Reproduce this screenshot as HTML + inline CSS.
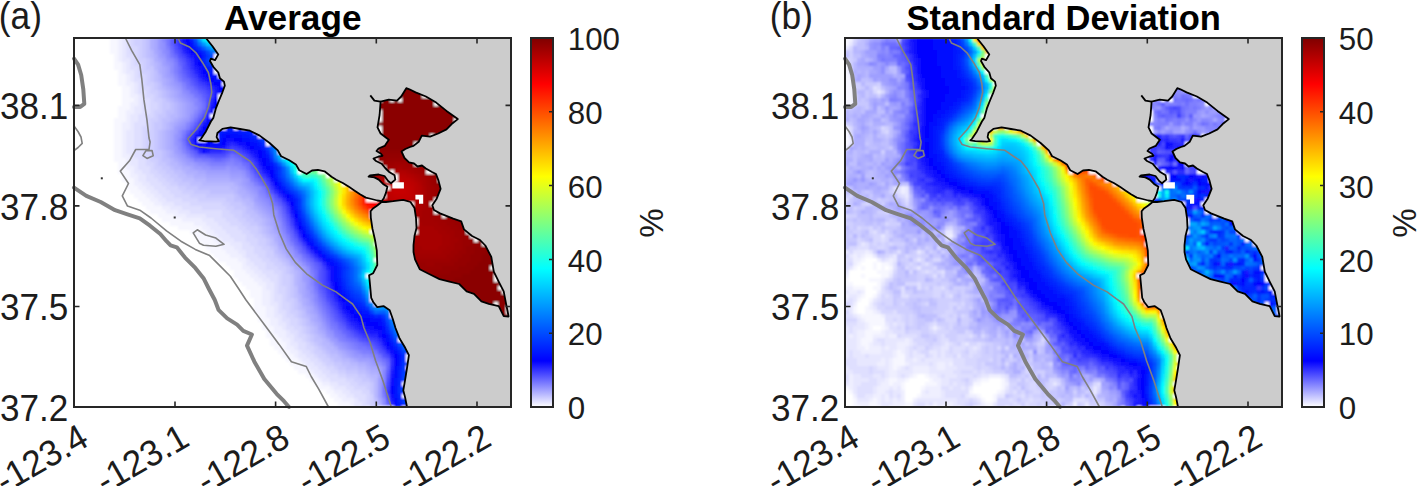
<!DOCTYPE html>
<html><head><meta charset="utf-8"><style>
html,body{margin:0;padding:0;background:#fff;overflow:hidden}
svg{display:block;font-family:"Liberation Sans",sans-serif}
</style></head><body>
<svg width="1417" height="486" viewBox="0 0 1417 486">
<defs><linearGradient id="cg" x1="0" y1="0" x2="0" y2="1"><stop offset="0.000" stop-color="rgb(127,0,0)"/><stop offset="0.125" stop-color="rgb(255,0,0)"/><stop offset="0.375" stop-color="rgb(255,255,0)"/><stop offset="0.625" stop-color="rgb(0,255,255)"/><stop offset="0.875" stop-color="rgb(0,0,255)"/><stop offset="1.000" stop-color="rgb(255,255,255)"/></linearGradient><filter id="bl" x="-2%" y="-2%" width="104%" height="104%"><feGaussianBlur stdDeviation="0.9"/></filter><clipPath id="clip0"><rect x="74" y="38" width="437" height="369"/></clipPath><clipPath id="clip771"><rect x="845" y="38" width="437" height="369"/></clipPath></defs>
<rect width="1417" height="486" fill="#fff"/>
<g clip-path="url(#clip0)"><g filter="url(#bl)" shape-rendering="crispEdges"><path fill="#ffffff" d="M74 38h36v4h-36zM74 42h36v4h-36zM74 46h36v4h-36zM74 50h36v4h-36zM74 54h40v4h-40zM214 54h4v4h-4zM74 58h40v4h-40zM214 58h4v4h-4zM74 62h40v4h-40zM74 66h40v4h-40zM214 66h4v4h-4zM74 70h44v4h-44zM214 70h4v4h-4zM74 74h44v4h-44zM218 74h4v4h-4zM74 78h44v4h-44zM74 82h44v4h-44zM222 82h4v4h-4zM74 86h48v4h-48zM74 90h48v4h-48zM74 94h48v4h-48zM218 94h4v4h-4zM422 94h8v4h-8zM74 98h48v4h-48zM218 98h4v4h-4zM378 98h4v4h-4zM390 98h4v4h-4zM398 98h4v4h-4zM74 102h48v4h-48zM434 102h4v4h-4zM74 106h44v4h-44zM74 110h44v4h-44zM214 110h4v4h-4zM378 110h4v4h-4zM74 114h44v4h-44zM210 114h4v4h-4zM378 114h4v4h-4zM74 118h40v4h-40zM378 118h4v4h-4zM454 118h4v4h-4zM74 122h40v4h-40zM74 126h40v4h-40zM222 126h4v4h-4zM234 126h4v4h-4zM242 126h4v4h-4zM378 126h4v4h-4zM74 130h40v4h-40zM254 130h4v4h-4zM378 130h4v4h-4zM74 134h40v4h-40zM214 134h4v4h-4zM258 134h4v4h-4zM430 134h4v4h-4zM74 138h40v4h-40zM198 138h8v4h-8zM214 138h4v4h-4zM266 138h4v4h-4zM74 142h40v4h-40zM266 142h4v4h-4zM414 142h4v4h-4zM74 146h40v4h-40zM74 150h40v4h-40zM278 150h4v4h-4zM374 150h4v4h-4zM74 154h40v4h-40zM282 154h4v4h-4zM74 158h40v4h-40zM374 158h4v4h-4zM74 162h44v4h-44zM378 162h4v4h-4zM414 162h4v4h-4zM74 166h44v4h-44zM298 166h4v4h-4zM382 166h4v4h-4zM74 170h44v4h-44zM298 170h4v4h-4zM318 170h12v4h-12zM390 170h4v4h-4zM426 170h8v4h-8zM74 174h48v4h-48zM326 174h4v4h-4zM394 174h4v4h-4zM74 178h48v4h-48zM334 178h4v4h-4zM386 178h12v4h-12zM438 178h4v4h-4zM74 182h52v4h-52zM342 182h4v4h-4zM74 186h52v4h-52zM350 186h4v4h-4zM386 186h4v4h-4zM74 190h56v4h-56zM74 194h60v4h-60zM382 194h4v4h-4zM74 198h64v4h-64zM366 198h12v4h-12zM434 198h4v4h-4zM74 202h68v4h-68zM410 202h4v4h-4zM430 202h4v4h-4zM74 206h72v4h-72zM74 210h76v4h-76zM370 210h4v4h-4zM434 210h4v4h-4zM74 214h84v4h-84zM370 214h4v4h-4zM442 214h4v4h-4zM74 218h88v4h-88zM414 218h4v4h-4zM74 222h96v4h-96zM414 222h4v4h-4zM74 226h104v4h-104zM74 230h116v4h-116zM370 230h4v4h-4zM414 230h4v4h-4zM466 230h4v4h-4zM74 234h120v4h-120zM470 234h8v4h-8zM74 238h124v4h-124zM474 238h4v4h-4zM74 242h128v4h-128zM374 242h4v4h-4zM482 242h4v4h-4zM74 246h132v4h-132zM74 250h136v4h-136zM74 254h140v4h-140zM74 258h144v4h-144zM374 258h4v4h-4zM74 262h152v4h-152zM74 266h156v4h-156zM490 266h4v4h-4zM74 270h160v4h-160zM74 274h160v4h-160zM366 274h4v4h-4zM494 274h4v4h-4zM74 278h164v4h-164zM494 278h4v4h-4zM74 282h168v4h-168zM74 286h172v4h-172zM498 286h4v4h-4zM74 290h176v4h-176zM370 290h4v4h-4zM502 290h4v4h-4zM74 294h176v4h-176zM370 294h4v4h-4zM74 298h180v4h-180zM370 298h4v4h-4zM74 302h180v4h-180zM374 302h4v4h-4zM494 302h4v4h-4zM74 306h180v4h-180zM506 306h4v4h-4zM74 310h180v4h-180zM390 310h4v4h-4zM506 310h4v4h-4zM74 314h184v4h-184zM390 314h4v4h-4zM74 318h184v4h-184zM74 322h188v4h-188zM74 326h188v4h-188zM74 330h192v4h-192zM74 334h192v4h-192zM74 338h196v4h-196zM398 338h4v4h-4zM74 342h196v4h-196zM74 346h200v4h-200zM74 350h204v4h-204zM74 354h208v4h-208zM406 354h4v4h-4zM74 358h212v4h-212zM406 358h4v4h-4zM74 362h216v4h-216zM74 366h220v4h-220zM406 366h4v4h-4zM74 370h224v4h-224zM74 374h232v4h-232zM74 378h236v4h-236zM74 382h240v4h-240zM402 382h4v4h-4zM74 386h244v4h-244zM74 390h252v4h-252zM74 394h256v4h-256zM402 394h4v4h-4zM74 398h260v4h-260zM74 402h264v4h-264zM74 406h268v1h-268zM350 406h4v1h-4zM366 406h4v1h-4zM378 406h16v1h-16zM402 406h4v1h-4z"/>
<path fill="#f7f7ff" d="M110 38h8v4h-8zM110 42h8v4h-8zM110 46h8v4h-8zM110 50h8v4h-8zM114 54h4v4h-4zM114 58h4v4h-4zM114 62h8v4h-8zM114 66h8v4h-8zM118 70h4v4h-4zM118 74h8v4h-8zM118 78h8v4h-8zM118 82h8v4h-8zM122 86h8v4h-8zM122 90h8v4h-8zM122 94h8v4h-8zM122 98h12v4h-12zM122 102h8v4h-8zM118 106h12v4h-12zM118 110h8v4h-8zM118 114h8v4h-8zM114 118h12v4h-12zM114 122h8v4h-8zM114 126h8v4h-8zM114 130h8v4h-8zM114 134h8v4h-8zM114 138h8v4h-8zM114 142h8v4h-8zM114 146h8v4h-8zM114 150h8v4h-8zM114 154h8v4h-8zM114 158h12v4h-12zM118 162h8v4h-8zM118 166h8v4h-8zM118 170h12v4h-12zM122 174h8v4h-8zM122 178h12v4h-12zM126 182h8v4h-8zM126 186h12v4h-12zM130 190h12v4h-12zM134 194h12v4h-12zM138 198h12v4h-12zM142 202h12v4h-12zM146 206h16v4h-16zM150 210h16v4h-16zM158 214h16v4h-16zM162 218h20v4h-20zM170 222h24v4h-24zM178 226h24v4h-24zM190 230h16v4h-16zM194 234h16v4h-16zM198 238h16v4h-16zM202 242h16v4h-16zM206 246h16v4h-16zM210 250h16v4h-16zM214 254h16v4h-16zM218 258h20v4h-20zM226 262h16v4h-16zM230 266h12v4h-12zM234 270h12v4h-12zM234 274h16v4h-16zM238 278h16v4h-16zM242 282h16v4h-16zM246 286h16v4h-16zM250 290h12v4h-12zM250 294h12v4h-12zM254 298h8v4h-8zM254 302h8v4h-8zM254 306h12v4h-12zM254 310h12v4h-12zM258 314h8v4h-8zM258 318h12v4h-12zM262 322h8v4h-8zM262 326h12v4h-12zM266 330h8v4h-8zM266 334h12v4h-12zM270 338h12v4h-12zM270 342h16v4h-16zM274 346h12v4h-12zM278 350h12v4h-12zM282 354h12v4h-12zM286 358h12v4h-12zM290 362h12v4h-12zM294 366h12v4h-12zM298 370h12v4h-12zM306 374h8v4h-8zM310 378h8v4h-8zM314 382h8v4h-8zM318 386h12v4h-12zM326 390h8v4h-8zM330 394h8v4h-8zM334 398h8v4h-8zM338 402h12v4h-12zM342 406h8v1h-8z"/>
<path fill="#efefff" d="M118 38h4v4h-4zM118 42h4v4h-4zM118 46h4v4h-4zM118 50h4v4h-4zM118 54h4v4h-4zM118 58h4v4h-4zM122 62h4v4h-4zM122 66h4v4h-4zM122 70h4v4h-4zM126 74h4v4h-4zM126 78h4v4h-4zM126 82h8v4h-8zM130 86h4v4h-4zM130 90h4v4h-4zM130 94h8v4h-8zM134 98h4v4h-4zM130 102h8v4h-8zM130 106h4v4h-4zM126 110h8v4h-8zM126 114h4v4h-4zM126 118h4v4h-4zM122 122h8v4h-8zM122 126h8v4h-8zM122 130h4v4h-4zM122 134h4v4h-4zM122 138h4v4h-4zM122 142h4v4h-4zM122 146h4v4h-4zM122 150h4v4h-4zM122 154h8v4h-8zM126 158h4v4h-4zM126 162h4v4h-4zM126 166h8v4h-8zM130 170h4v4h-4zM130 174h8v4h-8zM134 178h4v4h-4zM134 182h8v4h-8zM138 186h8v4h-8zM142 190h8v4h-8zM146 194h8v4h-8zM150 198h8v4h-8zM154 202h8v4h-8zM162 206h8v4h-8zM166 210h12v4h-12zM174 214h12v4h-12zM182 218h20v4h-20zM194 222h12v4h-12zM202 226h8v4h-8zM206 230h8v4h-8zM210 234h8v4h-8zM214 238h8v4h-8zM218 242h12v4h-12zM222 246h12v4h-12zM226 250h12v4h-12zM230 254h12v4h-12zM238 258h8v4h-8zM242 262h4v4h-4zM242 266h8v4h-8zM246 270h8v4h-8zM250 274h8v4h-8zM254 278h8v4h-8zM258 282h8v4h-8zM262 286h4v4h-4zM262 290h8v4h-8zM262 294h8v4h-8zM262 298h8v4h-8zM262 302h8v4h-8zM266 306h8v4h-8zM266 310h8v4h-8zM266 314h8v4h-8zM270 318h8v4h-8zM270 322h8v4h-8zM274 326h8v4h-8zM274 330h12v4h-12zM278 334h8v4h-8zM282 338h8v4h-8zM286 342h4v4h-4zM286 346h8v4h-8zM290 350h8v4h-8zM294 354h4v4h-4zM298 358h4v4h-4zM302 362h4v4h-4zM306 366h4v4h-4zM310 370h4v4h-4zM314 374h4v4h-4zM318 378h4v4h-4zM322 382h8v4h-8zM330 386h4v4h-4zM334 390h8v4h-8zM338 394h8v4h-8zM342 398h12v4h-12zM350 402h4v4h-4z"/>
<path fill="#e7e7ff" d="M122 38h4v4h-4zM122 42h4v4h-4zM122 46h4v4h-4zM122 50h4v4h-4zM122 54h4v4h-4zM122 58h8v4h-8zM126 62h4v4h-4zM126 66h4v4h-4zM126 70h8v4h-8zM130 74h4v4h-4zM130 78h4v4h-4zM134 82h4v4h-4zM134 86h4v4h-4zM134 90h4v4h-4zM138 94h4v4h-4zM138 98h4v4h-4zM138 102h4v4h-4zM134 106h8v4h-8zM134 110h8v4h-8zM130 114h8v4h-8zM130 118h8v4h-8zM130 122h4v4h-4zM130 126h4v4h-4zM126 130h8v4h-8zM126 134h8v4h-8zM126 138h8v4h-8zM126 142h8v4h-8zM126 146h8v4h-8zM126 150h8v4h-8zM130 154h4v4h-4zM130 158h8v4h-8zM130 162h8v4h-8zM134 166h4v4h-4zM134 170h8v4h-8zM138 174h8v4h-8zM138 178h8v4h-8zM142 182h8v4h-8zM146 186h8v4h-8zM150 190h8v4h-8zM154 194h8v4h-8zM158 198h8v4h-8zM162 202h12v4h-12zM170 206h12v4h-12zM178 210h12v4h-12zM186 214h20v4h-20zM202 218h12v4h-12zM206 222h12v4h-12zM210 226h12v4h-12zM214 230h12v4h-12zM218 234h12v4h-12zM222 238h12v4h-12zM230 242h12v4h-12zM234 246h8v4h-8zM238 250h8v4h-8zM242 254h4v4h-4zM246 258h4v4h-4zM246 262h8v4h-8zM250 266h8v4h-8zM254 270h8v4h-8zM258 274h8v4h-8zM262 278h8v4h-8zM266 282h8v4h-8zM266 286h8v4h-8zM270 290h4v4h-4zM270 294h4v4h-4zM270 298h4v4h-4zM270 302h8v4h-8zM274 306h4v4h-4zM274 310h4v4h-4zM274 314h8v4h-8zM278 318h4v4h-4zM278 322h8v4h-8zM282 326h4v4h-4zM286 330h4v4h-4zM286 334h8v4h-8zM290 338h4v4h-4zM290 342h8v4h-8zM294 346h4v4h-4zM298 350h4v4h-4zM298 354h8v4h-8zM302 358h8v4h-8zM306 362h8v4h-8zM310 366h8v4h-8zM314 370h8v4h-8zM318 374h8v4h-8zM322 378h8v4h-8zM330 382h8v4h-8zM334 386h12v4h-12zM342 390h8v4h-8zM346 394h8v4h-8zM354 398h4v4h-4zM354 402h8v4h-8zM354 406h8v1h-8z"/>
<path fill="#dfdfff" d="M126 38h4v4h-4zM126 42h4v4h-4zM126 46h4v4h-4zM126 50h4v4h-4zM126 54h8v4h-8zM130 58h4v4h-4zM130 62h4v4h-4zM130 66h8v4h-8zM134 70h4v4h-4zM134 74h4v4h-4zM134 78h8v4h-8zM138 82h4v4h-4zM138 86h4v4h-4zM138 90h8v4h-8zM142 94h4v4h-4zM142 98h8v4h-8zM142 102h8v4h-8zM142 106h8v4h-8zM142 110h8v4h-8zM138 114h8v4h-8zM138 118h8v4h-8zM134 122h12v4h-12zM134 126h8v4h-8zM134 130h8v4h-8zM134 134h8v4h-8zM134 138h8v4h-8zM134 142h8v4h-8zM134 146h8v4h-8zM134 150h8v4h-8zM134 154h8v4h-8zM138 158h8v4h-8zM138 162h8v4h-8zM138 166h12v4h-12zM142 170h8v4h-8zM146 174h8v4h-8zM146 178h12v4h-12zM150 182h12v4h-12zM154 186h12v4h-12zM158 190h12v4h-12zM162 194h12v4h-12zM166 198h16v4h-16zM174 202h16v4h-16zM182 206h20v4h-20zM190 210h32v4h-32zM206 214h16v4h-16zM214 218h12v4h-12zM218 222h12v4h-12zM222 226h16v4h-16zM226 230h16v4h-16zM230 234h16v4h-16zM234 238h12v4h-12zM242 242h8v4h-8zM242 246h12v4h-12zM246 250h8v4h-8zM246 254h12v4h-12zM250 258h12v4h-12zM254 262h12v4h-12zM258 266h8v4h-8zM262 270h12v4h-12zM266 274h12v4h-12zM270 278h8v4h-8zM274 282h4v4h-4zM274 286h4v4h-4zM274 290h4v4h-4zM274 294h8v4h-8zM274 298h8v4h-8zM278 302h4v4h-4zM278 306h4v4h-4zM278 310h8v4h-8zM282 314h4v4h-4zM282 318h8v4h-8zM286 322h4v4h-4zM286 326h8v4h-8zM290 330h8v4h-8zM294 334h4v4h-4zM294 338h8v4h-8zM298 342h8v4h-8zM298 346h8v4h-8zM302 350h8v4h-8zM306 354h8v4h-8zM310 358h8v4h-8zM314 362h8v4h-8zM318 366h8v4h-8zM322 370h8v4h-8zM326 374h12v4h-12zM330 378h16v4h-16zM338 382h12v4h-12zM346 386h8v4h-8zM350 390h12v4h-12zM354 394h12v4h-12zM358 398h8v4h-8zM362 402h4v4h-4zM362 406h4v1h-4z"/>
<path fill="#d7d7ff" d="M130 38h4v4h-4zM130 42h4v4h-4zM130 46h8v4h-8zM130 50h8v4h-8zM134 54h4v4h-4zM134 58h4v4h-4zM134 62h8v4h-8zM138 66h4v4h-4zM138 70h4v4h-4zM138 74h8v4h-8zM142 78h4v4h-4zM142 82h4v4h-4zM142 86h8v4h-8zM146 90h4v4h-4zM146 94h8v4h-8zM150 98h4v4h-4zM150 102h8v4h-8zM150 106h8v4h-8zM150 110h4v4h-4zM146 114h8v4h-8zM146 118h4v4h-4zM146 122h4v4h-4zM142 126h8v4h-8zM142 130h4v4h-4zM142 134h4v4h-4zM142 138h4v4h-4zM142 142h4v4h-4zM142 146h4v4h-4zM142 150h8v4h-8zM142 154h8v4h-8zM146 158h4v4h-4zM146 162h8v4h-8zM150 166h4v4h-4zM150 170h8v4h-8zM154 174h8v4h-8zM158 178h8v4h-8zM162 182h8v4h-8zM166 186h12v4h-12zM170 190h12v4h-12zM174 194h16v4h-16zM182 198h16v4h-16zM190 202h32v4h-32zM202 206h24v4h-24zM222 210h8v4h-8zM222 214h12v4h-12zM226 218h12v4h-12zM230 222h12v4h-12zM238 226h8v4h-8zM242 230h8v4h-8zM246 234h8v4h-8zM246 238h12v4h-12zM250 242h8v4h-8zM254 246h8v4h-8zM254 250h12v4h-12zM258 254h8v4h-8zM262 258h8v4h-8zM266 262h8v4h-8zM266 266h12v4h-12zM274 270h8v4h-8zM278 274h4v4h-4zM278 278h4v4h-4zM278 282h4v4h-4zM278 286h8v4h-8zM278 290h8v4h-8zM282 294h4v4h-4zM282 298h4v4h-4zM282 302h8v4h-8zM282 306h8v4h-8zM286 310h4v4h-4zM286 314h8v4h-8zM290 318h8v4h-8zM290 322h8v4h-8zM294 326h8v4h-8zM298 330h4v4h-4zM298 334h8v4h-8zM302 338h4v4h-4zM306 342h4v4h-4zM306 346h8v4h-8zM310 350h4v4h-4zM314 354h4v4h-4zM318 358h4v4h-4zM322 362h4v4h-4zM326 366h8v4h-8zM330 370h8v4h-8zM338 374h8v4h-8zM346 378h8v4h-8zM350 382h8v4h-8zM354 386h12v4h-12zM362 390h8v4h-8zM366 394h4v4h-4zM366 398h4v4h-4zM366 402h4v4h-4z"/>
<path fill="#cfcfff" d="M134 38h8v4h-8zM134 42h8v4h-8zM138 46h4v4h-4zM138 50h4v4h-4zM138 54h4v4h-4zM138 58h8v4h-8zM142 62h4v4h-4zM142 66h4v4h-4zM142 70h8v4h-8zM146 74h4v4h-4zM146 78h4v4h-4zM146 82h8v4h-8zM150 86h4v4h-4zM150 90h8v4h-8zM154 94h4v4h-4zM154 98h8v4h-8zM158 102h4v4h-4zM158 106h4v4h-4zM154 110h8v4h-8zM154 114h4v4h-4zM150 118h8v4h-8zM150 122h4v4h-4zM150 126h4v4h-4zM146 130h8v4h-8zM146 134h8v4h-8zM146 138h8v4h-8zM146 142h8v4h-8zM146 146h8v4h-8zM150 150h4v4h-4zM150 154h4v4h-4zM150 158h8v4h-8zM154 162h4v4h-4zM154 166h8v4h-8zM158 170h8v4h-8zM162 174h8v4h-8zM166 178h8v4h-8zM170 182h8v4h-8zM178 186h8v4h-8zM182 190h12v4h-12zM190 194h16v4h-16zM198 198h28v4h-28zM222 202h8v4h-8zM226 206h8v4h-8zM230 210h12v4h-12zM234 214h8v4h-8zM238 218h8v4h-8zM242 222h8v4h-8zM246 226h12v4h-12zM250 230h8v4h-8zM254 234h8v4h-8zM258 238h8v4h-8zM258 242h8v4h-8zM262 246h8v4h-8zM266 250h8v4h-8zM266 254h8v4h-8zM270 258h8v4h-8zM274 262h8v4h-8zM278 266h8v4h-8zM282 270h4v4h-4zM282 274h8v4h-8zM282 278h8v4h-8zM282 282h8v4h-8zM286 286h4v4h-4zM286 290h4v4h-4zM286 294h4v4h-4zM286 298h8v4h-8zM290 302h4v4h-4zM290 306h4v4h-4zM290 310h8v4h-8zM294 314h4v4h-4zM298 318h4v4h-4zM298 322h4v4h-4zM302 326h4v4h-4zM302 330h4v4h-4zM306 334h4v4h-4zM306 338h4v4h-4zM310 342h4v4h-4zM314 346h4v4h-4zM314 350h8v4h-8zM318 354h8v4h-8zM322 358h8v4h-8zM326 362h8v4h-8zM334 366h4v4h-4zM338 370h8v4h-8zM346 374h12v4h-12zM354 378h8v4h-8zM358 382h12v4h-12zM366 386h4v4h-4zM370 394h4v4h-4zM370 398h4v4h-4zM370 402h4v4h-4zM370 406h4v1h-4z"/>
<path fill="#c7c7ff" d="M142 38h4v4h-4zM142 42h4v4h-4zM142 46h4v4h-4zM142 50h4v4h-4zM142 54h4v4h-4zM146 58h4v4h-4zM146 62h4v4h-4zM146 66h8v4h-8zM150 70h4v4h-4zM150 74h4v4h-4zM150 78h4v4h-4zM154 82h4v4h-4zM154 86h4v4h-4zM158 90h4v4h-4zM158 94h4v4h-4zM162 98h4v4h-4zM162 102h8v4h-8zM162 106h8v4h-8zM162 110h4v4h-4zM158 114h8v4h-8zM158 118h4v4h-4zM154 122h8v4h-8zM154 126h8v4h-8zM154 130h4v4h-4zM154 134h4v4h-4zM154 138h4v4h-4zM154 142h4v4h-4zM154 146h4v4h-4zM154 150h8v4h-8zM154 154h8v4h-8zM158 158h4v4h-4zM158 162h8v4h-8zM162 166h8v4h-8zM166 170h8v4h-8zM170 174h8v4h-8zM174 178h8v4h-8zM178 182h12v4h-12zM186 186h12v4h-12zM194 190h16v4h-16zM206 194h28v4h-28zM226 198h8v4h-8zM230 202h12v4h-12zM234 206h12v4h-12zM242 210h4v4h-4zM242 214h8v4h-8zM246 218h8v4h-8zM250 222h8v4h-8zM258 226h4v4h-4zM258 230h4v4h-4zM262 234h4v4h-4zM266 238h4v4h-4zM266 242h4v4h-4zM270 246h4v4h-4zM274 254h4v4h-4zM278 258h4v4h-4zM282 262h4v4h-4zM286 266h4v4h-4zM286 270h4v4h-4zM290 274h4v4h-4zM290 278h4v4h-4zM290 282h4v4h-4zM290 286h4v4h-4zM290 290h4v4h-4zM290 294h4v4h-4zM294 298h4v4h-4zM294 302h4v4h-4zM294 306h4v4h-4zM298 310h4v4h-4zM298 314h4v4h-4zM302 318h4v4h-4zM302 322h4v4h-4zM306 326h4v4h-4zM306 330h4v4h-4zM310 334h4v4h-4zM310 338h4v4h-4zM314 342h4v4h-4zM318 346h4v4h-4zM322 350h4v4h-4zM326 354h4v4h-4zM330 358h4v4h-4zM334 362h8v4h-8zM338 366h8v4h-8zM346 370h12v4h-12zM358 374h8v4h-8zM362 378h8v4h-8zM370 382h4v4h-4zM370 386h4v4h-4zM370 390h4v4h-4zM374 402h4v4h-4zM374 406h4v1h-4z"/>
<path fill="#bfbfff" d="M146 38h4v4h-4zM146 42h4v4h-4zM146 46h4v4h-4zM146 50h4v4h-4zM146 54h4v4h-4zM150 58h4v4h-4zM150 62h4v4h-4zM154 70h4v4h-4zM154 74h4v4h-4zM154 78h4v4h-4zM158 82h4v4h-4zM158 86h4v4h-4zM162 90h4v4h-4zM162 94h4v4h-4zM166 98h4v4h-4zM170 102h4v4h-4zM170 106h4v4h-4zM166 110h8v4h-8zM166 114h4v4h-4zM162 118h8v4h-8zM162 122h4v4h-4zM162 126h4v4h-4zM158 130h4v4h-4zM158 134h4v4h-4zM158 138h4v4h-4zM158 142h4v4h-4zM158 146h4v4h-4zM162 150h4v4h-4zM162 154h4v4h-4zM162 158h8v4h-8zM166 162h4v4h-4zM170 166h4v4h-4zM174 170h8v4h-8zM178 174h8v4h-8zM182 178h12v4h-12zM190 182h12v4h-12zM198 186h32v4h-32zM210 190h24v4h-24zM234 194h4v4h-4zM234 198h8v4h-8zM242 202h4v4h-4zM246 206h4v4h-4zM246 210h8v4h-8zM250 214h8v4h-8zM254 218h8v4h-8zM258 222h4v4h-4zM262 226h4v4h-4zM262 230h4v4h-4zM266 234h4v4h-4zM270 238h4v4h-4zM270 242h4v4h-4zM274 246h4v4h-4zM274 250h4v4h-4zM278 254h4v4h-4zM282 258h4v4h-4zM286 262h4v4h-4zM290 266h4v4h-4zM290 270h4v4h-4zM294 286h4v4h-4zM294 290h4v4h-4zM294 294h4v4h-4zM298 302h4v4h-4zM298 306h4v4h-4zM302 310h4v4h-4zM302 314h4v4h-4zM306 318h4v4h-4zM306 322h4v4h-4zM310 326h4v4h-4zM310 330h4v4h-4zM314 334h4v4h-4zM314 338h8v4h-8zM318 342h4v4h-4zM322 346h4v4h-4zM326 350h4v4h-4zM330 354h8v4h-8zM334 358h8v4h-8zM342 362h8v4h-8zM346 366h12v4h-12zM358 370h8v4h-8zM366 374h4v4h-4zM370 378h4v4h-4zM374 398h4v4h-4z"/>
<path fill="#b7b7ff" d="M150 50h4v4h-4zM150 54h4v4h-4zM154 62h4v4h-4zM154 66h4v4h-4zM158 74h4v4h-4zM158 78h4v4h-4zM162 86h4v4h-4zM166 90h4v4h-4zM166 94h4v4h-4zM170 98h4v4h-4zM174 102h4v4h-4zM174 106h4v4h-4zM174 110h4v4h-4zM170 114h8v4h-8zM170 118h4v4h-4zM166 122h4v4h-4zM166 126h4v4h-4zM162 130h4v4h-4zM162 134h4v4h-4zM162 138h4v4h-4zM162 142h4v4h-4zM162 146h4v4h-4zM166 150h4v4h-4zM166 154h4v4h-4zM170 158h4v4h-4zM170 162h8v4h-8zM174 166h8v4h-8zM182 170h4v4h-4zM186 174h8v4h-8zM194 178h12v4h-12zM202 182h32v4h-32zM230 186h8v4h-8zM234 190h4v4h-4zM238 194h4v4h-4zM242 198h8v4h-8zM246 202h8v4h-8zM250 206h4v4h-4zM254 210h4v4h-4zM258 214h4v4h-4zM262 218h4v4h-4zM262 222h4v4h-4zM266 226h4v4h-4zM266 230h4v4h-4zM270 234h4v4h-4zM274 242h4v4h-4zM278 250h4v4h-4zM282 254h4v4h-4zM286 258h4v4h-4zM294 270h4v4h-4zM294 274h4v4h-4zM294 278h4v4h-4zM294 282h4v4h-4zM298 294h4v4h-4zM298 298h4v4h-4zM302 306h4v4h-4zM306 314h4v4h-4zM310 322h4v4h-4zM314 326h4v4h-4zM314 330h4v4h-4zM318 334h4v4h-4zM322 338h4v4h-4zM322 342h8v4h-8zM326 346h8v4h-8zM330 350h8v4h-8zM338 354h4v4h-4zM342 358h8v4h-8zM350 362h8v4h-8zM358 366h8v4h-8zM366 370h4v4h-4zM370 374h8v4h-8zM374 378h4v4h-4zM374 382h4v4h-4zM374 386h4v4h-4zM374 390h4v4h-4zM374 394h4v4h-4z"/>
<path fill="#afafff" d="M150 38h4v4h-4zM150 42h4v4h-4zM150 46h4v4h-4zM154 54h4v4h-4zM154 58h4v4h-4zM158 62h4v4h-4zM158 66h4v4h-4zM158 70h4v4h-4zM162 78h4v4h-4zM162 82h4v4h-4zM166 86h4v4h-4zM170 90h4v4h-4zM170 94h4v4h-4zM174 98h4v4h-4zM178 102h4v4h-4zM178 106h4v4h-4zM178 110h4v4h-4zM178 114h4v4h-4zM174 118h4v4h-4zM170 122h4v4h-4zM170 126h4v4h-4zM166 130h4v4h-4zM166 134h4v4h-4zM166 138h4v4h-4zM166 142h4v4h-4zM166 146h4v4h-4zM170 150h4v4h-4zM170 154h4v4h-4zM174 158h4v4h-4zM178 162h4v4h-4zM182 166h8v4h-8zM186 170h12v4h-12zM194 174h12v4h-12zM206 178h24v4h-24zM234 182h4v4h-4zM238 186h4v4h-4zM238 190h8v4h-8zM242 194h8v4h-8zM250 198h4v4h-4zM254 206h4v4h-4zM258 210h4v4h-4zM262 214h4v4h-4zM266 218h4v4h-4zM266 222h4v4h-4zM270 226h4v4h-4zM270 230h4v4h-4zM274 234h4v4h-4zM274 238h4v4h-4zM278 246h4v4h-4zM282 250h4v4h-4zM290 262h4v4h-4zM294 266h4v4h-4zM298 270h4v4h-4zM298 274h4v4h-4zM298 278h4v4h-4zM298 282h4v4h-4zM298 286h4v4h-4zM298 290h4v4h-4zM302 298h4v4h-4zM302 302h4v4h-4zM306 306h4v4h-4zM306 310h4v4h-4zM310 314h4v4h-4zM310 318h4v4h-4zM314 322h4v4h-4zM318 330h4v4h-4zM322 334h4v4h-4zM326 338h4v4h-4zM330 342h4v4h-4zM334 346h4v4h-4zM338 350h4v4h-4zM342 354h4v4h-4zM350 358h4v4h-4zM358 362h8v4h-8zM366 366h4v4h-4zM370 370h8v4h-8zM378 402h4v4h-4z"/>
<path fill="#a7a7ff" d="M154 38h4v4h-4zM154 42h4v4h-4zM154 46h4v4h-4zM154 50h4v4h-4zM158 58h4v4h-4zM162 66h4v4h-4zM162 70h4v4h-4zM162 74h4v4h-4zM166 78h4v4h-4zM166 82h4v4h-4zM170 86h4v4h-4zM174 90h4v4h-4zM174 94h4v4h-4zM178 98h4v4h-4zM182 102h4v4h-4zM182 106h4v4h-4zM182 110h4v4h-4zM182 114h4v4h-4zM178 118h4v4h-4zM174 122h4v4h-4zM170 130h4v4h-4zM170 134h4v4h-4zM170 138h4v4h-4zM170 142h4v4h-4zM170 146h4v4h-4zM174 154h4v4h-4zM178 158h4v4h-4zM182 162h4v4h-4zM190 166h4v4h-4zM198 170h8v4h-8zM206 174h24v4h-24zM230 178h12v4h-12zM238 182h4v4h-4zM242 186h4v4h-4zM246 190h4v4h-4zM250 194h4v4h-4zM254 202h4v4h-4zM258 206h4v4h-4zM262 210h4v4h-4zM266 214h4v4h-4zM270 218h4v4h-4zM270 222h4v4h-4zM274 230h4v4h-4zM278 238h4v4h-4zM278 242h4v4h-4zM282 246h4v4h-4zM286 254h4v4h-4zM290 258h4v4h-4zM294 262h4v4h-4zM298 266h4v4h-4zM302 282h4v4h-4zM302 286h4v4h-4zM302 290h4v4h-4zM302 294h4v4h-4zM306 298h4v4h-4zM306 302h4v4h-4zM310 306h4v4h-4zM310 310h4v4h-4zM314 314h4v4h-4zM314 318h4v4h-4zM318 322h4v4h-4zM318 326h4v4h-4zM322 330h4v4h-4zM342 350h4v4h-4zM346 354h4v4h-4zM354 358h4v4h-4zM366 362h4v4h-4zM370 366h8v4h-8zM378 370h4v4h-4zM378 374h4v4h-4zM378 398h4v4h-4z"/>
<path fill="#9f9fff" d="M158 50h4v4h-4zM158 54h4v4h-4zM162 58h4v4h-4zM162 62h4v4h-4zM166 66h4v4h-4zM166 70h4v4h-4zM166 74h4v4h-4zM170 78h4v4h-4zM170 82h4v4h-4zM174 86h4v4h-4zM178 90h4v4h-4zM178 94h4v4h-4zM182 98h4v4h-4zM186 102h4v4h-4zM186 106h4v4h-4zM186 110h4v4h-4zM186 114h4v4h-4zM182 118h4v4h-4zM178 122h4v4h-4zM174 126h4v4h-4zM174 130h4v4h-4zM174 146h4v4h-4zM174 150h4v4h-4zM178 154h4v4h-4zM182 158h4v4h-4zM186 162h8v4h-8zM194 166h8v4h-8zM206 170h24v4h-24zM230 174h12v4h-12zM242 178h4v4h-4zM242 182h4v4h-4zM246 186h4v4h-4zM250 190h4v4h-4zM254 194h4v4h-4zM254 198h4v4h-4zM258 202h4v4h-4zM262 206h4v4h-4zM266 210h4v4h-4zM270 214h4v4h-4zM274 222h4v4h-4zM274 226h4v4h-4zM278 234h4v4h-4zM282 242h4v4h-4zM286 250h4v4h-4zM290 254h4v4h-4zM294 258h4v4h-4zM298 262h4v4h-4zM302 266h4v4h-4zM302 270h4v4h-4zM302 274h4v4h-4zM302 278h4v4h-4zM306 290h4v4h-4zM306 294h4v4h-4zM310 302h4v4h-4zM314 310h4v4h-4zM318 318h4v4h-4zM322 326h4v4h-4zM326 334h4v4h-4zM330 338h4v4h-4zM334 342h4v4h-4zM338 346h4v4h-4zM346 350h4v4h-4zM350 354h4v4h-4zM358 358h12v4h-12zM370 362h4v4h-4zM378 366h4v4h-4zM378 378h4v4h-4zM378 382h4v4h-4zM378 386h4v4h-4zM378 390h4v4h-4zM378 394h4v4h-4z"/>
<path fill="#9797ff" d="M158 38h4v4h-4zM158 42h4v4h-4zM158 46h4v4h-4zM162 54h4v4h-4zM166 62h4v4h-4zM170 74h4v4h-4zM174 82h4v4h-4zM178 86h4v4h-4zM182 94h4v4h-4zM186 98h4v4h-4zM190 102h4v4h-4zM190 106h4v4h-4zM190 110h4v4h-4zM186 118h4v4h-4zM182 122h4v4h-4zM178 126h4v4h-4zM174 134h4v4h-4zM174 138h4v4h-4zM174 142h4v4h-4zM178 150h4v4h-4zM182 154h4v4h-4zM186 158h4v4h-4zM194 162h4v4h-4zM202 166h8v4h-8zM226 166h4v4h-4zM230 170h12v4h-12zM242 174h4v4h-4zM246 178h4v4h-4zM246 182h4v4h-4zM250 186h4v4h-4zM254 190h4v4h-4zM258 198h4v4h-4zM262 202h4v4h-4zM266 206h4v4h-4zM270 210h4v4h-4zM274 218h4v4h-4zM278 230h4v4h-4zM282 238h4v4h-4zM286 246h4v4h-4zM290 250h4v4h-4zM306 270h4v4h-4zM306 274h4v4h-4zM306 278h4v4h-4zM306 282h4v4h-4zM306 286h4v4h-4zM310 294h4v4h-4zM310 298h4v4h-4zM314 306h4v4h-4zM318 314h4v4h-4zM322 322h4v4h-4zM326 330h4v4h-4zM330 334h4v4h-4zM334 338h4v4h-4zM338 342h4v4h-4zM342 346h4v4h-4zM350 350h4v4h-4zM354 354h8v4h-8zM370 358h4v4h-4zM374 362h4v4h-4z"/>
<path fill="#8f8fff" d="M162 42h4v4h-4zM162 46h4v4h-4zM162 50h4v4h-4zM166 58h4v4h-4zM170 62h4v4h-4zM170 66h4v4h-4zM170 70h4v4h-4zM174 78h4v4h-4zM178 82h4v4h-4zM182 90h4v4h-4zM186 94h4v4h-4zM190 98h4v4h-4zM194 106h4v4h-4zM190 114h4v4h-4zM182 126h4v4h-4zM178 130h4v4h-4zM178 134h4v4h-4zM178 142h4v4h-4zM178 146h4v4h-4zM190 158h4v4h-4zM198 162h8v4h-8zM210 166h16v4h-16zM230 166h8v4h-8zM242 170h4v4h-4zM250 182h4v4h-4zM254 186h4v4h-4zM258 194h4v4h-4zM262 198h4v4h-4zM266 202h4v4h-4zM270 206h4v4h-4zM274 210h4v4h-4zM274 214h4v4h-4zM278 222h4v4h-4zM278 226h4v4h-4zM282 234h4v4h-4zM286 242h4v4h-4zM290 246h4v4h-4zM294 254h4v4h-4zM298 258h4v4h-4zM302 262h4v4h-4zM306 266h4v4h-4zM310 286h4v4h-4zM310 290h4v4h-4zM314 302h4v4h-4zM318 310h4v4h-4zM322 318h4v4h-4zM326 326h4v4h-4zM330 330h4v4h-4zM342 342h4v4h-4zM346 346h4v4h-4zM354 350h4v4h-4zM362 354h8v4h-8zM378 362h4v4h-4zM382 366h4v4h-4zM382 398h4v4h-4zM382 402h4v4h-4z"/>
<path fill="#8787ff" d="M162 38h4v4h-4zM166 50h4v4h-4zM166 54h4v4h-4zM170 58h4v4h-4zM174 74h4v4h-4zM182 86h4v4h-4zM186 90h4v4h-4zM190 94h4v4h-4zM194 98h4v4h-4zM194 102h4v4h-4zM194 110h4v4h-4zM190 118h4v4h-4zM186 122h4v4h-4zM178 138h4v4h-4zM182 150h4v4h-4zM186 154h4v4h-4zM206 162h4v4h-4zM226 162h8v4h-8zM238 166h4v4h-4zM246 174h4v4h-4zM258 186h4v4h-4zM258 190h4v4h-4zM262 194h4v4h-4zM266 198h4v4h-4zM278 218h4v4h-4zM282 230h4v4h-4zM286 238h4v4h-4zM294 250h4v4h-4zM298 254h4v4h-4zM310 274h4v4h-4zM310 278h4v4h-4zM310 282h4v4h-4zM314 294h4v4h-4zM314 298h4v4h-4zM318 306h4v4h-4zM322 314h4v4h-4zM326 322h4v4h-4zM334 334h4v4h-4zM338 338h4v4h-4zM346 342h4v4h-4zM350 346h4v4h-4zM358 350h4v4h-4zM370 354h4v4h-4zM374 358h4v4h-4zM382 370h4v4h-4zM382 374h4v4h-4zM382 378h4v4h-4z"/>
<path fill="#7f7fff" d="M166 46h4v4h-4zM174 62h4v4h-4zM174 66h4v4h-4zM174 70h4v4h-4zM178 78h4v4h-4zM182 82h4v4h-4zM198 102h4v4h-4zM198 106h4v4h-4zM194 114h4v4h-4zM186 126h4v4h-4zM182 130h4v4h-4zM182 146h4v4h-4zM194 158h8v4h-8zM230 158h4v4h-4zM210 162h16v4h-16zM234 162h8v4h-8zM242 166h4v4h-4zM246 170h4v4h-4zM250 178h4v4h-4zM254 182h4v4h-4zM262 190h4v4h-4zM270 202h4v4h-4zM274 206h4v4h-4zM278 214h4v4h-4zM282 226h4v4h-4zM286 234h4v4h-4zM290 242h4v4h-4zM302 258h4v4h-4zM306 262h4v4h-4zM310 270h4v4h-4zM314 290h4v4h-4zM318 302h4v4h-4zM322 310h4v4h-4zM326 318h4v4h-4zM330 326h4v4h-4zM334 330h4v4h-4zM338 334h4v4h-4zM342 338h4v4h-4zM350 342h4v4h-4zM354 346h4v4h-4zM362 350h8v4h-8zM374 354h4v4h-4zM378 358h4v4h-4zM382 362h4v4h-4zM382 382h4v4h-4zM382 394h4v4h-4z"/>
<path fill="#7777ff" d="M166 38h4v4h-4zM166 42h4v4h-4zM170 54h4v4h-4zM174 58h4v4h-4zM178 74h4v4h-4zM186 86h4v4h-4zM190 90h4v4h-4zM194 94h4v4h-4zM198 98h4v4h-4zM198 110h4v4h-4zM190 122h4v4h-4zM182 134h4v4h-4zM182 142h4v4h-4zM186 150h4v4h-4zM190 154h4v4h-4zM202 158h8v4h-8zM226 158h4v4h-4zM234 158h4v4h-4zM250 174h4v4h-4zM262 186h4v4h-4zM266 194h4v4h-4zM270 198h4v4h-4zM278 210h4v4h-4zM282 222h4v4h-4zM294 246h4v4h-4zM310 266h4v4h-4zM314 286h4v4h-4zM318 298h4v4h-4zM322 306h4v4h-4zM326 314h4v4h-4zM330 322h4v4h-4zM334 326h4v4h-4zM338 330h4v4h-4zM342 334h4v4h-4zM346 338h4v4h-4zM354 342h4v4h-4zM358 346h8v4h-8zM370 350h4v4h-4zM382 386h4v4h-4zM382 390h4v4h-4z"/>
<path fill="#6f6fff" d="M170 50h4v4h-4zM178 66h4v4h-4zM178 70h4v4h-4zM182 78h4v4h-4zM186 82h4v4h-4zM190 86h4v4h-4zM194 90h4v4h-4zM198 94h4v4h-4zM202 102h4v4h-4zM202 106h4v4h-4zM194 118h4v4h-4zM182 138h4v4h-4zM230 154h4v4h-4zM210 158h4v4h-4zM222 158h4v4h-4zM238 158h4v4h-4zM242 162h4v4h-4zM246 166h4v4h-4zM254 178h4v4h-4zM258 182h4v4h-4zM274 202h4v4h-4zM278 206h4v4h-4zM282 218h4v4h-4zM286 230h4v4h-4zM290 238h4v4h-4zM298 250h4v4h-4zM302 254h4v4h-4zM306 258h4v4h-4zM310 262h4v4h-4zM314 270h4v4h-4zM314 274h4v4h-4zM314 278h4v4h-4zM314 282h4v4h-4zM318 294h4v4h-4zM322 302h4v4h-4zM326 310h4v4h-4zM330 318h4v4h-4zM334 322h4v4h-4zM350 338h4v4h-4zM358 342h4v4h-4zM366 346h4v4h-4zM374 350h4v4h-4zM378 354h4v4h-4zM382 358h4v4h-4z"/>
<path fill="#6767ff" d="M170 46h4v4h-4zM174 54h4v4h-4zM178 62h4v4h-4zM182 74h4v4h-4zM186 78h4v4h-4zM202 98h4v4h-4zM198 114h4v4h-4zM190 126h4v4h-4zM186 130h4v4h-4zM186 146h4v4h-4zM190 150h4v4h-4zM194 154h4v4h-4zM234 154h4v4h-4zM214 158h8v4h-8zM246 162h4v4h-4zM250 170h4v4h-4zM266 190h4v4h-4zM270 194h4v4h-4zM282 214h4v4h-4zM286 226h4v4h-4zM290 234h4v4h-4zM294 242h4v4h-4zM298 246h4v4h-4zM314 266h4v4h-4zM318 290h4v4h-4zM322 298h4v4h-4zM326 306h4v4h-4zM330 314h4v4h-4zM338 326h4v4h-4zM342 330h4v4h-4zM346 334h4v4h-4zM354 338h4v4h-4zM362 342h4v4h-4zM370 346h4v4h-4zM386 362h4v4h-4zM386 366h4v4h-4zM386 402h4v4h-4z"/>
<path fill="#5f5fff" d="M170 38h4v4h-4zM170 42h4v4h-4zM178 58h4v4h-4zM182 70h4v4h-4zM190 82h4v4h-4zM194 86h4v4h-4zM198 90h4v4h-4zM202 94h4v4h-4zM202 110h4v4h-4zM194 122h4v4h-4zM198 154h8v4h-8zM226 154h4v4h-4zM238 154h4v4h-4zM242 158h4v4h-4zM254 174h4v4h-4zM258 178h4v4h-4zM262 182h4v4h-4zM274 198h4v4h-4zM278 202h4v4h-4zM282 210h4v4h-4zM286 222h4v4h-4zM290 230h4v4h-4zM294 238h4v4h-4zM302 250h4v4h-4zM306 254h4v4h-4zM310 258h4v4h-4zM314 262h4v4h-4zM318 282h4v4h-4zM318 286h4v4h-4zM322 294h4v4h-4zM326 302h4v4h-4zM330 310h4v4h-4zM334 318h4v4h-4zM338 322h4v4h-4zM342 326h4v4h-4zM346 330h4v4h-4zM350 334h4v4h-4zM366 342h4v4h-4zM386 358h4v4h-4zM386 370h4v4h-4z"/>
<path fill="#5757ff" d="M174 50h4v4h-4zM182 62h4v4h-4zM182 66h4v4h-4zM186 74h4v4h-4zM190 78h4v4h-4zM202 90h4v4h-4zM198 118h4v4h-4zM186 134h4v4h-4zM186 142h4v4h-4zM194 150h4v4h-4zM230 150h4v4h-4zM206 154h4v4h-4zM250 166h4v4h-4zM266 186h4v4h-4zM282 206h4v4h-4zM286 218h4v4h-4zM298 242h4v4h-4zM318 266h4v4h-4zM318 270h4v4h-4zM318 274h4v4h-4zM318 278h4v4h-4zM322 290h4v4h-4zM330 306h4v4h-4zM334 314h4v4h-4zM358 338h4v4h-4zM370 342h4v4h-4zM374 346h4v4h-4zM378 350h4v4h-4zM382 354h4v4h-4zM386 374h4v4h-4zM386 398h4v4h-4z"/>
<path fill="#4f4fff" d="M174 46h4v4h-4zM178 54h4v4h-4zM182 58h4v4h-4zM186 70h4v4h-4zM194 82h4v4h-4zM198 86h4v4h-4zM206 94h4v4h-4zM206 98h4v4h-4zM206 102h4v4h-4zM202 114h4v4h-4zM194 126h4v4h-4zM190 130h4v4h-4zM186 138h4v4h-4zM190 146h4v4h-4zM234 150h4v4h-4zM210 154h16v4h-16zM242 154h4v4h-4zM246 158h4v4h-4zM250 162h4v4h-4zM254 170h4v4h-4zM262 178h4v4h-4zM270 190h4v4h-4zM274 194h4v4h-4zM278 198h4v4h-4zM286 214h4v4h-4zM290 226h4v4h-4zM294 234h4v4h-4zM302 246h4v4h-4zM318 262h4v4h-4zM322 286h4v4h-4zM326 298h4v4h-4zM334 310h4v4h-4zM338 318h4v4h-4zM342 322h4v4h-4zM350 330h4v4h-4zM354 334h4v4h-4zM362 338h4v4h-4zM386 378h4v4h-4z"/>
<path fill="#4747ff" d="M174 38h4v4h-4zM174 42h4v4h-4zM178 50h4v4h-4zM186 66h4v4h-4zM190 74h4v4h-4zM194 78h4v4h-4zM202 86h4v4h-4zM206 90h4v4h-4zM206 106h4v4h-4zM226 150h4v4h-4zM238 150h4v4h-4zM258 174h4v4h-4zM266 182h4v4h-4zM282 202h4v4h-4zM306 250h4v4h-4zM310 254h4v4h-4zM314 258h4v4h-4zM322 270h4v4h-4zM322 274h4v4h-4zM322 278h4v4h-4zM322 282h4v4h-4zM326 294h4v4h-4zM330 302h4v4h-4zM338 314h4v4h-4zM346 326h4v4h-4zM358 334h4v4h-4zM366 338h4v4h-4zM374 342h4v4h-4zM378 346h4v4h-4zM382 350h4v4h-4zM386 354h4v4h-4zM386 382h4v4h-4zM386 394h4v4h-4z"/>
<path fill="#3f3fff" d="M182 54h4v4h-4zM186 62h4v4h-4zM190 70h4v4h-4zM198 82h4v4h-4zM198 122h4v4h-4zM230 146h4v4h-4zM246 154h4v4h-4zM250 158h4v4h-4zM254 166h4v4h-4zM286 210h4v4h-4zM290 222h4v4h-4zM294 230h4v4h-4zM298 238h4v4h-4zM322 266h4v4h-4zM326 290h4v4h-4zM330 298h4v4h-4zM334 306h4v4h-4zM342 318h4v4h-4zM354 330h4v4h-4zM370 338h4v4h-4zM386 386h4v4h-4z"/>
<path fill="#3737ff" d="M178 46h4v4h-4zM186 58h4v4h-4zM194 74h4v4h-4zM202 82h4v4h-4zM206 86h4v4h-4zM210 90h4v4h-4zM210 94h4v4h-4zM206 110h4v4h-4zM190 134h4v4h-4zM234 146h4v4h-4zM222 150h4v4h-4zM242 150h4v4h-4zM254 162h4v4h-4zM258 170h4v4h-4zM262 174h4v4h-4zM266 178h4v4h-4zM270 186h4v4h-4zM286 206h4v4h-4zM290 218h4v4h-4zM302 242h4v4h-4zM326 282h4v4h-4zM326 286h4v4h-4zM330 294h4v4h-4zM334 302h4v4h-4zM338 310h4v4h-4zM346 322h4v4h-4zM350 326h4v4h-4zM362 334h4v4h-4zM374 338h4v4h-4zM378 342h4v4h-4zM386 390h4v4h-4z"/>
<path fill="#2f2fff" d="M178 42h4v4h-4zM190 62h4v4h-4zM190 66h4v4h-4zM198 78h4v4h-4zM202 118h4v4h-4zM194 130h4v4h-4zM190 142h4v4h-4zM194 146h4v4h-4zM226 146h4v4h-4zM238 146h4v4h-4zM198 150h4v4h-4zM210 150h12v4h-12zM274 190h4v4h-4zM278 194h4v4h-4zM282 198h4v4h-4zM306 246h4v4h-4zM318 258h4v4h-4zM322 262h4v4h-4zM326 270h4v4h-4zM326 274h4v4h-4zM326 278h4v4h-4zM330 290h4v4h-4zM342 314h4v4h-4zM358 330h4v4h-4zM366 334h4v4h-4zM382 346h4v4h-4zM390 358h4v4h-4zM390 362h4v4h-4z"/>
<path fill="#2727ff" d="M178 38h4v4h-4zM182 50h4v4h-4zM186 54h4v4h-4zM190 58h4v4h-4zM194 70h4v4h-4zM206 82h4v4h-4zM210 86h4v4h-4zM210 98h4v4h-4zM198 126h4v4h-4zM190 138h4v4h-4zM230 142h4v4h-4zM246 150h4v4h-4zM250 154h4v4h-4zM254 158h4v4h-4zM258 166h4v4h-4zM270 182h4v4h-4zM286 202h4v4h-4zM290 214h4v4h-4zM294 226h4v4h-4zM298 234h4v4h-4zM310 250h4v4h-4zM314 254h4v4h-4zM334 298h4v4h-4zM338 306h4v4h-4zM346 318h4v4h-4zM350 322h4v4h-4zM354 326h4v4h-4zM362 330h4v4h-4zM370 334h8v4h-8zM378 338h4v4h-4zM386 350h4v4h-4zM390 366h4v4h-4zM390 402h4v4h-4z"/>
<path fill="#1f1fff" d="M182 46h4v4h-4zM194 66h4v4h-4zM198 74h4v4h-4zM202 78h4v4h-4zM210 102h4v4h-4zM206 114h4v4h-4zM226 142h4v4h-4zM234 142h4v4h-4zM198 146h4v4h-4zM242 146h4v4h-4zM206 150h4v4h-4zM262 170h4v4h-4zM266 174h4v4h-4zM326 266h4v4h-4zM330 286h4v4h-4zM334 294h4v4h-4zM338 302h4v4h-4zM342 310h4v4h-4zM346 314h4v4h-4zM354 322h4v4h-4zM358 326h4v4h-4zM366 330h4v4h-4zM390 354h4v4h-4zM390 370h4v4h-4z"/>
<path fill="#1717ff" d="M182 42h4v4h-4zM186 50h4v4h-4zM190 54h4v4h-4zM198 70h4v4h-4zM214 86h4v4h-4zM214 90h4v4h-4zM202 122h4v4h-4zM222 146h4v4h-4zM250 150h4v4h-4zM254 154h4v4h-4zM258 162h4v4h-4zM274 186h4v4h-4zM278 190h4v4h-4zM282 194h4v4h-4zM290 210h4v4h-4zM294 222h4v4h-4zM298 230h4v4h-4zM302 238h4v4h-4zM330 282h4v4h-4zM350 318h4v4h-4zM362 326h4v4h-4zM370 330h8v4h-8zM382 342h4v4h-4zM390 374h4v4h-4zM390 398h4v4h-4z"/>
<path fill="#0f0fff" d="M182 38h4v4h-4zM194 58h4v4h-4zM194 62h4v4h-4zM202 74h4v4h-4zM206 78h4v4h-4zM210 82h4v4h-4zM210 106h4v4h-4zM194 134h4v4h-4zM226 138h8v4h-8zM202 142h4v4h-4zM238 142h4v4h-4zM202 146h12v4h-12zM246 146h4v4h-4zM202 150h4v4h-4zM258 158h4v4h-4zM270 178h4v4h-4zM286 198h4v4h-4zM306 242h4v4h-4zM322 258h4v4h-4zM326 262h4v4h-4zM330 270h4v4h-4zM330 274h4v4h-4zM330 278h4v4h-4zM334 290h4v4h-4zM338 298h4v4h-4zM342 306h4v4h-4zM346 310h4v4h-4zM350 314h4v4h-4zM354 318h4v4h-4zM358 322h4v4h-4zM378 334h4v4h-4zM386 346h4v4h-4zM390 378h4v4h-4z"/>
<path fill="#0707ff" d="M186 46h4v4h-4zM194 54h4v4h-4zM198 66h4v4h-4zM214 94h4v4h-4zM210 110h4v4h-4zM206 118h4v4h-4zM198 130h4v4h-4zM194 142h4v4h-4zM242 142h4v4h-4zM214 146h8v4h-8zM254 150h4v4h-4zM262 166h4v4h-4zM266 170h4v4h-4zM290 206h4v4h-4zM294 218h4v4h-4zM310 246h4v4h-4zM314 250h4v4h-4zM318 254h4v4h-4zM330 266h4v4h-4zM342 302h4v4h-4zM362 322h4v4h-4zM366 326h8v4h-8zM378 330h4v4h-4zM382 338h4v4h-4zM390 350h4v4h-4zM390 382h4v4h-4zM390 394h4v4h-4z"/>
<path fill="#0000ff" d="M190 50h4v4h-4zM202 70h4v4h-4zM206 74h4v4h-4zM210 78h4v4h-4zM214 82h4v4h-4zM214 98h4v4h-4zM202 126h4v4h-4zM234 138h4v4h-4zM198 142h4v4h-4zM222 142h4v4h-4zM250 146h4v4h-4zM258 154h4v4h-4zM262 162h4v4h-4zM270 174h4v4h-4zM290 202h4v4h-4zM298 226h4v4h-4zM302 234h4v4h-4zM334 286h4v4h-4zM338 294h4v4h-4zM346 306h4v4h-4zM350 310h4v4h-4zM354 314h4v4h-4zM358 318h4v4h-4zM366 322h4v4h-4zM374 326h4v4h-4zM394 358h4v4h-4z"/>
<path fill="#0005ff" d="M186 38h4v4h-4zM186 42h4v4h-4zM198 54h4v4h-4zM198 62h4v4h-4zM218 82h4v4h-4zM218 86h4v4h-4zM214 102h4v4h-4zM226 134h4v4h-4zM194 138h4v4h-4zM222 138h4v4h-4zM238 138h4v4h-4zM206 142h4v4h-4zM246 142h4v4h-4zM258 150h4v4h-4zM262 158h4v4h-4zM266 166h4v4h-4zM270 170h4v4h-4zM274 182h4v4h-4zM286 194h4v4h-4zM294 214h4v4h-4zM334 282h4v4h-4zM342 298h4v4h-4zM358 314h4v4h-4zM362 318h8v4h-8zM370 322h8v4h-8zM378 326h4v4h-4zM382 334h4v4h-4zM386 342h4v4h-4zM394 354h4v4h-4zM394 362h4v4h-4zM390 386h4v4h-4zM390 390h4v4h-4z"/>
<path fill="#0008ff" d="M190 46h4v4h-4zM194 50h4v4h-4zM198 58h4v4h-4zM210 74h4v4h-4zM214 78h4v4h-4zM218 90h4v4h-4zM206 122h4v4h-4zM198 134h4v4h-4zM222 134h4v4h-4zM230 134h4v4h-4zM206 138h4v4h-4zM242 138h4v4h-4zM250 142h4v4h-4zM254 146h4v4h-4zM262 154h4v4h-4zM266 162h4v4h-4zM278 186h4v4h-4zM282 190h4v4h-4zM290 198h4v4h-4zM306 238h4v4h-4zM326 258h4v4h-4zM330 262h4v4h-4zM334 270h4v4h-4zM334 274h4v4h-4zM334 278h4v4h-4zM338 290h4v4h-4zM346 302h4v4h-4zM354 310h4v4h-4zM362 314h4v4h-4zM370 318h8v4h-8zM378 322h4v4h-4zM382 330h4v4h-4zM386 338h4v4h-4zM390 346h4v4h-4zM394 366h4v4h-4zM394 406h4v1h-4z"/>
<path fill="#000dff" d="M202 66h4v4h-4zM206 70h4v4h-4zM214 74h4v4h-4zM218 102h4v4h-4zM214 106h8v4h-8zM214 114h4v4h-4zM210 118h8v4h-8zM202 130h4v4h-4zM234 134h4v4h-4zM246 138h4v4h-4zM210 142h4v4h-4zM270 166h4v4h-4zM294 210h4v4h-4zM298 222h4v4h-4zM302 230h4v4h-4zM310 242h4v4h-4zM322 254h4v4h-4zM334 266h4v4h-4zM350 306h4v4h-4zM366 314h4v4h-4zM378 318h4v4h-4zM382 326h4v4h-4zM394 370h4v4h-4zM394 402h4v4h-4z"/>
<path fill="#0010ff" d="M190 42h4v4h-4zM218 78h4v4h-4zM222 86h8v4h-8zM222 90h4v4h-4zM222 94h4v4h-4zM222 98h4v4h-4zM210 122h4v4h-4zM206 126h8v4h-8zM238 134h4v4h-4zM214 142h8v4h-8zM254 142h4v4h-4zM258 146h4v4h-4zM262 150h4v4h-4zM266 158h4v4h-4zM274 178h4v4h-4zM314 246h4v4h-4zM318 250h4v4h-4zM338 286h4v4h-4zM342 294h4v4h-4zM358 310h4v4h-4zM386 334h4v4h-4zM394 350h4v4h-4zM394 374h4v4h-4zM394 398h4v4h-4z"/>
<path fill="#0015ff" d="M198 50h4v4h-4zM210 70h4v4h-4zM218 70h4v4h-4zM222 74h4v4h-4zM222 78h8v4h-8zM226 82h4v4h-4zM206 130h4v4h-4zM222 130h12v4h-12zM202 134h8v4h-8zM218 134h4v4h-4zM242 134h4v4h-4zM210 138h4v4h-4zM250 138h4v4h-4zM298 218h4v4h-4zM306 234h4v4h-4zM334 262h4v4h-4zM338 282h4v4h-4zM346 298h4v4h-4zM350 302h4v4h-4zM354 306h4v4h-4zM362 310h4v4h-4zM370 314h4v4h-4zM382 322h4v4h-4zM390 342h4v4h-4zM394 378h4v4h-4zM394 382h4v4h-4zM394 394h4v4h-4z"/>
<path fill="#0018ff" d="M234 130h4v4h-4zM246 134h4v4h-4zM218 138h4v4h-4zM266 154h4v4h-4zM270 162h4v4h-4zM274 174h4v4h-4zM278 182h4v4h-4zM290 194h4v4h-4zM294 206h4v4h-4zM302 226h4v4h-4zM330 258h4v4h-4zM338 278h4v4h-4zM342 290h4v4h-4zM366 310h4v4h-4zM398 354h4v4h-4zM398 358h4v4h-4zM398 362h4v4h-4zM394 386h4v4h-4zM394 390h4v4h-4z"/>
<path fill="#001dff" d="M190 38h4v4h-4zM194 46h4v4h-4zM202 54h4v4h-4zM202 62h4v4h-4zM206 66h4v4h-4zM218 66h4v4h-4zM214 130h8v4h-8zM238 130h8v4h-8zM254 138h4v4h-4zM258 142h4v4h-4zM262 146h4v4h-4zM274 170h4v4h-4zM282 186h4v4h-4zM286 190h4v4h-4zM294 198h4v4h-4zM294 202h4v4h-4zM310 238h4v4h-4zM338 266h4v4h-4zM338 270h4v4h-4zM338 274h4v4h-4zM346 294h4v4h-4zM358 306h4v4h-4zM394 346h4v4h-4zM398 366h4v4h-4zM398 402h4v4h-4zM398 406h4v1h-4z"/>
<path fill="#0020ff" d="M202 58h4v4h-4zM222 122h16v4h-16zM218 126h4v4h-4zM226 126h8v4h-8zM238 126h4v4h-4zM246 126h4v4h-4zM246 130h4v4h-4zM250 134h4v4h-4zM274 166h4v4h-4zM298 214h4v4h-4zM326 254h4v4h-4zM342 286h4v4h-4zM350 298h4v4h-4zM354 302h4v4h-4zM362 306h4v4h-4zM378 314h4v4h-4zM382 318h4v4h-4zM386 330h4v4h-4zM390 338h4v4h-4zM398 350h4v4h-4zM398 370h4v4h-4zM398 374h4v4h-4zM398 398h4v4h-4z"/>
<path fill="#0025ff" d="M302 222h4v4h-4zM306 230h4v4h-4zM314 242h4v4h-4zM318 246h4v4h-4zM322 250h4v4h-4zM338 262h4v4h-4zM374 314h4v4h-4zM398 378h4v4h-4z"/>
<path fill="#0028ff" d="M202 50h4v4h-4zM210 66h4v4h-4zM250 126h4v4h-4zM250 130h4v4h-4zM266 150h4v4h-4zM278 178h4v4h-4zM298 210h4v4h-4zM334 258h4v4h-4zM342 282h4v4h-4zM346 290h4v4h-4zM358 302h4v4h-4zM398 382h4v4h-4zM398 394h4v4h-4z"/>
<path fill="#002dff" d="M254 134h4v4h-4zM258 138h4v4h-4zM262 142h4v4h-4zM270 158h4v4h-4zM294 194h4v4h-4zM310 234h4v4h-4zM342 266h4v4h-4zM342 278h4v4h-4zM350 294h4v4h-4zM354 298h4v4h-4zM386 326h4v4h-4zM394 342h4v4h-4zM402 354h4v4h-4zM402 358h4v4h-4z"/>
<path fill="#0030ff" d="M274 162h4v4h-4zM282 182h4v4h-4zM290 190h4v4h-4zM302 218h4v4h-4zM330 254h4v4h-4zM342 270h4v4h-4zM342 274h4v4h-4zM362 302h4v4h-4zM390 334h4v4h-4zM398 386h4v4h-4zM398 390h4v4h-4z"/>
<path fill="#0035ff" d="M206 62h4v4h-4zM278 174h4v4h-4zM286 186h4v4h-4zM298 206h4v4h-4zM306 226h4v4h-4zM314 238h4v4h-4zM346 286h4v4h-4zM358 298h4v4h-4zM382 314h4v4h-4zM398 346h4v4h-4zM402 362h4v4h-4z"/>
<path fill="#0038ff" d="M194 42h4v4h-4zM198 46h4v4h-4zM206 54h4v4h-4zM278 166h4v4h-4zM278 170h4v4h-4zM298 198h4v4h-4zM298 202h4v4h-4zM326 250h4v4h-4zM338 258h4v4h-4zM342 262h4v4h-4zM350 290h4v4h-4zM354 294h4v4h-4zM366 306h4v4h-4zM402 366h4v4h-4zM402 402h4v4h-4z"/>
<path fill="#003dff" d="M210 62h4v4h-4zM258 130h4v4h-4zM266 146h4v4h-4zM302 214h4v4h-4zM318 242h4v4h-4zM322 246h4v4h-4zM346 282h4v4h-4zM386 322h4v4h-4zM402 370h4v4h-4zM402 398h4v4h-4z"/>
<path fill="#0040ff" d="M206 58h4v4h-4zM214 62h4v4h-4zM270 154h4v4h-4zM282 178h4v4h-4zM310 230h4v4h-4zM346 266h4v4h-4zM346 278h4v4h-4zM358 294h4v4h-4zM370 310h4v4h-4zM402 350h4v4h-4zM402 374h4v4h-4z"/>
<path fill="#0045ff" d="M262 134h4v4h-4zM262 138h4v4h-4zM294 190h4v4h-4zM306 222h4v4h-4zM334 254h4v4h-4zM346 270h4v4h-4zM346 274h4v4h-4zM350 286h4v4h-4zM354 290h4v4h-4zM390 330h4v4h-4zM394 338h4v4h-4zM402 378h4v4h-4zM402 390h4v4h-4z"/>
<path fill="#0048ff" d="M206 50h4v4h-4zM286 182h4v4h-4zM298 194h4v4h-4zM362 298h4v4h-4zM406 382h4v4h-4zM402 386h8v4h-8zM406 390h4v4h-4zM406 394h4v4h-4zM406 398h4v4h-4zM406 402h4v4h-4zM406 406h4v1h-4z"/>
<path fill="#004dff" d="M194 38h4v4h-4zM290 186h4v4h-4zM302 210h4v4h-4zM314 234h4v4h-4zM342 258h4v4h-4zM346 262h4v4h-4zM386 318h4v4h-4zM406 378h4v4h-4z"/>
<path fill="#0050ff" d="M210 54h4v4h-4zM270 138h4v4h-4zM282 174h4v4h-4zM350 282h4v4h-4zM358 290h4v4h-4zM406 370h4v4h-4zM406 374h4v4h-4z"/>
<path fill="#0055ff" d="M210 58h4v4h-4zM270 150h4v4h-4zM306 218h4v4h-4zM330 250h4v4h-4zM350 278h4v4h-4zM354 286h4v4h-4zM398 342h4v4h-4zM406 362h8v4h-8z"/>
<path fill="#0058ff" d="M282 170h4v4h-4zM310 226h4v4h-4zM318 238h4v4h-4zM326 246h4v4h-4zM350 266h4v4h-4zM350 270h4v4h-4zM350 274h4v4h-4zM402 346h4v4h-4zM410 350h4v4h-4zM410 354h4v4h-4zM410 358h4v4h-4z"/>
<path fill="#005dff" d="M202 46h4v4h-4zM278 162h4v4h-4zM282 166h4v4h-4zM298 190h4v4h-4zM302 206h4v4h-4zM322 242h4v4h-4zM362 294h4v4h-4zM390 326h4v4h-4zM394 334h4v4h-4zM406 350h4v4h-4z"/>
<path fill="#0060ff" d="M286 178h4v4h-4zM338 254h4v4h-4zM346 258h4v4h-4zM354 282h4v4h-4zM358 286h4v4h-4zM378 310h8v4h-8zM406 346h4v4h-4z"/>
<path fill="#0065ff" d="M270 142h4v4h-4zM274 158h4v4h-4zM302 198h4v4h-4zM302 202h4v4h-4zM350 262h4v4h-4zM366 302h4v4h-4zM374 310h4v4h-4zM386 314h4v4h-4zM406 342h4v4h-4z"/>
<path fill="#0068ff" d="M270 146h4v4h-4zM290 182h4v4h-4zM294 186h4v4h-4zM302 194h4v4h-4zM306 214h4v4h-4zM314 230h4v4h-4zM402 342h4v4h-4z"/>
<path fill="#006dff" d="M198 42h4v4h-4zM210 50h4v4h-4zM310 222h4v4h-4zM354 278h4v4h-4zM370 306h4v4h-4z"/>
<path fill="#0070ff" d="M334 250h4v4h-4zM354 266h4v4h-4zM354 270h4v4h-4zM354 274h4v4h-4zM390 322h4v4h-4zM394 330h4v4h-4z"/>
<path fill="#0075ff" d="M218 58h4v4h-4zM286 174h4v4h-4zM318 234h4v4h-4zM358 282h4v4h-4zM362 290h4v4h-4zM402 338h4v4h-4z"/>
<path fill="#0078ff" d="M302 190h4v4h-4zM330 246h4v4h-4zM342 254h4v4h-4zM350 258h4v4h-4zM398 330h4v4h-4zM398 334h4v4h-4z"/>
<path fill="#007dff" d="M218 54h4v4h-4zM306 210h4v4h-4zM322 238h4v4h-4zM326 242h4v4h-4z"/>
<path fill="#0080ff" d="M274 154h4v4h-4zM286 170h4v4h-4zM310 218h4v4h-4zM314 226h4v4h-4zM354 262h4v4h-4zM366 298h4v4h-4zM386 310h4v4h-4zM390 318h4v4h-4zM394 326h8v4h-8z"/>
<path fill="#0084ff" d="M206 46h4v4h-4zM274 142h4v4h-4zM290 178h4v4h-4zM298 186h4v4h-4z"/>
<path fill="#0089ff" d="M306 206h4v4h-4zM338 250h4v4h-4zM358 278h4v4h-4zM394 322h4v4h-4z"/>
<path fill="#008cff" d="M214 50h8v4h-8zM274 150h4v4h-4zM294 182h4v4h-4zM318 230h4v4h-4zM346 254h4v4h-4zM354 258h4v4h-4zM358 266h4v4h-4z"/>
<path fill="#0090ff" d="M274 146h4v4h-4zM286 166h4v4h-4zM306 194h4v4h-4zM358 270h4v4h-4zM362 286h4v4h-4zM370 302h4v4h-4zM374 306h4v4h-4zM382 306h4v4h-4zM394 314h4v4h-4z"/>
<path fill="#0094ff" d="M282 162h4v4h-4zM302 186h4v4h-4zM306 198h4v4h-4zM306 202h4v4h-4zM310 214h4v4h-4zM314 222h4v4h-4zM334 246h4v4h-4zM378 306h4v4h-4zM394 318h4v4h-4z"/>
<path fill="#0099ff" d="M198 38h4v4h-4zM306 190h4v4h-4zM322 234h4v4h-4zM358 274h4v4h-4zM366 294h4v4h-4zM386 306h8v4h-8z"/>
<path fill="#009cff" d="M202 42h4v4h-4zM278 158h4v4h-4zM326 238h4v4h-4zM330 242h4v4h-4zM350 254h4v4h-4zM358 262h4v4h-4z"/>
<path fill="#00a0ff" d="M278 146h4v4h-4zM290 174h4v4h-4zM342 250h4v4h-4zM382 302h4v4h-4z"/>
<path fill="#00a4ff" d="M210 46h8v4h-8zM310 210h4v4h-4zM318 226h4v4h-4zM374 298h4v4h-4zM378 302h4v4h-4zM386 302h4v4h-4z"/>
<path fill="#00a9ff" d="M314 218h4v4h-4zM358 258h4v4h-4zM362 282h4v4h-4z"/>
<path fill="#00acff" d="M294 178h4v4h-4zM298 182h4v4h-4zM306 186h4v4h-4zM338 246h4v4h-4zM354 254h4v4h-4z"/>
<path fill="#00b0ff" d="M322 230h4v4h-4zM362 266h4v4h-4zM366 290h4v4h-4z"/>
<path fill="#00b4ff" d="M310 206h4v4h-4zM334 242h4v4h-4zM346 250h4v4h-4z"/>
<path fill="#00b9ff" d="M310 194h4v4h-4zM314 214h4v4h-4zM318 222h4v4h-4zM326 234h4v4h-4zM330 238h4v4h-4z"/>
<path fill="#00bcff" d="M278 154h4v4h-4zM310 190h4v4h-4zM310 198h4v4h-4zM310 202h4v4h-4zM358 254h4v4h-4zM362 262h4v4h-4z"/>
<path fill="#00c0ff" d="M214 42h4v4h-4zM290 170h4v4h-4zM362 278h4v4h-4z"/>
<path fill="#00c4ff" d="M302 182h4v4h-4zM342 246h4v4h-4zM350 250h4v4h-4z"/>
<path fill="#00c9ff" d="M206 42h4v4h-4zM282 150h4v4h-4zM306 182h4v4h-4zM322 226h4v4h-4zM362 270h4v4h-4z"/>
<path fill="#00ccff" d="M286 162h4v4h-4zM310 186h4v4h-4zM314 210h4v4h-4zM318 218h4v4h-4zM362 258h4v4h-4zM366 286h4v4h-4z"/>
<path fill="#00d0ff" d="M210 42h4v4h-4zM282 158h4v4h-4zM326 230h4v4h-4zM338 242h4v4h-4z"/>
<path fill="#00d4ff" d="M294 174h4v4h-4zM330 234h4v4h-4zM334 238h4v4h-4zM354 250h4v4h-4z"/>
<path fill="#00d9ff" d="M290 166h4v4h-4zM298 178h4v4h-4zM314 206h4v4h-4zM346 246h4v4h-4zM362 274h4v4h-4z"/>
<path fill="#00dcff" d="M310 182h4v4h-4zM314 190h4v4h-4zM318 214h4v4h-4zM322 222h4v4h-4zM362 254h4v4h-4zM370 286h4v4h-4z"/>
<path fill="#00e0ff" d="M314 194h4v4h-4zM314 198h4v4h-4zM314 202h4v4h-4zM358 250h4v4h-4zM366 266h4v4h-4z"/>
<path fill="#00e4ff" d="M202 38h4v4h-4zM326 226h4v4h-4zM342 242h4v4h-4zM366 262h4v4h-4zM366 282h4v4h-4z"/>
<path fill="#00e9ff" d="M330 230h4v4h-4zM338 238h4v4h-4zM350 246h4v4h-4z"/>
<path fill="#00ecff" d="M210 38h4v4h-4zM318 210h4v4h-4zM322 218h4v4h-4zM334 234h4v4h-4z"/>
<path fill="#00f0ff" d="M314 186h4v4h-4z"/>
<path fill="#00f4ff" d="M326 222h4v4h-4zM346 242h4v4h-4zM354 246h4v4h-4zM362 250h4v4h-4z"/>
<path fill="#00f9ff" d="M286 154h4v4h-4zM310 178h4v4h-4zM318 206h4v4h-4zM322 214h4v4h-4zM366 258h4v4h-4zM366 270h4v4h-4zM370 282h4v4h-4z"/>
<path fill="#00fcff" d="M286 158h4v4h-4zM302 178h4v4h-4zM318 194h4v4h-4zM330 226h4v4h-4zM342 238h4v4h-4zM366 278h4v4h-4z"/>
<path fill="#01fffe" d="M206 38h4v4h-4zM290 162h4v4h-4zM314 182h4v4h-4zM318 190h4v4h-4zM318 198h4v4h-4zM318 202h4v4h-4zM334 230h4v4h-4zM338 234h4v4h-4zM358 246h4v4h-4z"/>
<path fill="#05fffa" d="M306 178h4v4h-4zM350 242h4v4h-4z"/>
<path fill="#0afff5" d="M294 170h4v4h-4zM298 174h4v4h-4zM326 218h4v4h-4zM366 254h4v4h-4z"/>
<path fill="#0efff2" d="M314 178h4v4h-4zM322 210h4v4h-4z"/>
<path fill="#11ffee" d="M290 158h4v4h-4zM362 246h4v4h-4zM370 278h4v4h-4z"/>
<path fill="#15ffea" d="M318 186h4v4h-4zM330 222h4v4h-4zM346 238h4v4h-4z"/>
<path fill="#1affe5" d="M294 158h4v4h-4zM354 242h4v4h-4z"/>
<path fill="#1effe2" d="M294 166h4v4h-4zM366 250h4v4h-4zM370 262h4v4h-4z"/>
<path fill="#21ffde" d="M322 206h4v4h-4zM326 214h4v4h-4zM334 226h4v4h-4zM342 234h4v4h-4zM370 266h4v4h-4z"/>
<path fill="#25ffda" d="M318 182h4v4h-4zM322 190h4v4h-4zM338 230h4v4h-4z"/>
<path fill="#2affd5" d="M294 162h4v4h-4zM322 194h4v4h-4z"/>
<path fill="#2effd2" d="M298 162h4v4h-4zM322 198h4v4h-4zM322 202h4v4h-4zM358 242h4v4h-4zM370 258h4v4h-4z"/>
<path fill="#31ffce" d="M310 174h4v4h-4zM350 238h4v4h-4zM366 246h4v4h-4zM370 270h4v4h-4zM370 274h4v4h-4z"/>
<path fill="#35ffca" d="M302 174h4v4h-4zM318 178h4v4h-4zM330 218h4v4h-4z"/>
<path fill="#3affc5" d="M314 174h4v4h-4zM322 186h4v4h-4z"/>
<path fill="#3effc2" d="M326 210h4v4h-4zM334 222h4v4h-4zM346 234h4v4h-4zM362 242h4v4h-4zM370 254h4v4h-4zM374 274h4v4h-4z"/>
<path fill="#42ffbe" d="M306 174h4v4h-4z"/>
<path fill="#45ffba" d="M338 226h4v4h-4zM342 230h4v4h-4zM354 238h4v4h-4z"/>
<path fill="#4affb5" d="M302 166h4v4h-4zM374 270h4v4h-4z"/>
<path fill="#4effb2" d="M322 182h4v4h-4zM330 214h4v4h-4zM366 242h4v4h-4zM370 250h4v4h-4z"/>
<path fill="#52ffae" d="M302 170h4v4h-4zM326 206h4v4h-4z"/>
<path fill="#55ffaa" d="M318 174h4v4h-4zM326 190h4v4h-4z"/>
<path fill="#5affa5" d="M326 194h4v4h-4zM350 234h4v4h-4zM374 266h4v4h-4z"/>
<path fill="#5effa2" d="M326 202h4v4h-4zM334 218h4v4h-4zM358 238h4v4h-4z"/>
<path fill="#62ff9e" d="M306 170h4v4h-4zM322 178h4v4h-4zM326 186h4v4h-4zM326 198h4v4h-4zM374 262h4v4h-4z"/>
<path fill="#65ff9a" d="M310 170h4v4h-4zM338 222h4v4h-4zM346 230h4v4h-4zM370 246h4v4h-4zM378 266h4v4h-4z"/>
<path fill="#6aff95" d="M330 210h4v4h-4zM342 226h4v4h-4z"/>
<path fill="#6eff92" d="M314 170h4v4h-4zM362 238h4v4h-4z"/>
<path fill="#72ff8e" d="M306 166h4v4h-4zM354 234h4v4h-4zM378 262h4v4h-4z"/>
<path fill="#75ff8a" d="M310 166h4v4h-4z"/>
<path fill="#7aff85" d="M334 214h4v4h-4zM366 238h4v4h-4z"/>
<path fill="#7eff82" d="M314 166h4v4h-4zM322 174h4v4h-4zM326 182h4v4h-4z"/>
<path fill="#82ff7e" d="M330 190h4v4h-4zM330 206h4v4h-4zM350 230h4v4h-4zM370 242h4v4h-4zM374 254h4v4h-4zM378 258h4v4h-4z"/>
<path fill="#85ff7a" d="M338 218h4v4h-4zM358 234h4v4h-4z"/>
<path fill="#89ff76" d="M318 166h4v4h-4zM330 194h4v4h-4zM342 222h4v4h-4zM346 226h4v4h-4z"/>
<path fill="#8dff72" d="M330 198h4v4h-4zM330 202h4v4h-4z"/>
<path fill="#92ff6d" d="M326 178h4v4h-4zM330 186h4v4h-4zM374 250h4v4h-4zM378 254h4v4h-4z"/>
<path fill="#96ff69" d="M322 166h4v4h-4zM334 210h4v4h-4z"/>
<path fill="#9aff65" d="M354 230h4v4h-4zM362 234h4v4h-4z"/>
<path fill="#9eff62" d="M370 238h4v4h-4z"/>
<path fill="#a2ff5e" d="M338 214h4v4h-4zM374 246h4v4h-4zM378 250h4v4h-4z"/>
<path fill="#a5ff5a" d="M330 170h4v4h-4zM350 226h4v4h-4zM378 246h4v4h-4z"/>
<path fill="#a9ff56" d="M330 182h4v4h-4zM342 218h4v4h-4zM346 222h4v4h-4zM366 234h4v4h-4z"/>
<path fill="#adff52" d="M334 206h4v4h-4z"/>
<path fill="#b2ff4d" d="M334 190h4v4h-4zM358 230h4v4h-4z"/>
<path fill="#b6ff49" d="M378 242h4v4h-4z"/>
<path fill="#baff45" d="M330 174h4v4h-4zM334 194h4v4h-4z"/>
<path fill="#beff42" d="M330 178h4v4h-4zM334 202h4v4h-4z"/>
<path fill="#c2ff3e" d="M334 186h4v4h-4zM334 198h4v4h-4zM338 210h4v4h-4zM370 234h4v4h-4z"/>
<path fill="#c5ff3a" d="M354 226h4v4h-4zM374 238h4v4h-4z"/>
<path fill="#c9ff36" d="M362 230h4v4h-4z"/>
<path fill="#cdff32" d="M342 214h4v4h-4z"/>
<path fill="#d2ff2d" d="M334 182h4v4h-4zM350 222h4v4h-4z"/>
<path fill="#d6ff29" d="M334 174h4v4h-4zM346 218h4v4h-4zM374 234h4v4h-4z"/>
<path fill="#deff21" d="M366 230h4v4h-4z"/>
<path fill="#e2ff1e" d="M338 206h4v4h-4zM358 226h4v4h-4z"/>
<path fill="#e5ff1a" d="M338 190h4v4h-4z"/>
<path fill="#edff12" d="M338 186h4v4h-4z"/>
<path fill="#f2ff0d" d="M338 194h4v4h-4z"/>
<path fill="#f6ff09" d="M338 198h4v4h-4zM338 202h4v4h-4zM342 210h4v4h-4zM354 222h4v4h-4z"/>
<path fill="#faff05" d="M338 178h4v4h-4zM338 182h4v4h-4zM362 226h4v4h-4zM374 230h4v4h-4z"/>
<path fill="#feff01" d="M346 214h4v4h-4zM350 218h4v4h-4z"/>
<path fill="#fff100" d="M342 178h4v4h-4zM366 226h4v4h-4z"/>
<path fill="#ffec00" d="M358 222h4v4h-4z"/>
<path fill="#ffe800" d="M342 186h4v4h-4zM342 190h4v4h-4zM342 206h4v4h-4zM374 226h4v4h-4z"/>
<path fill="#ffe400" d="M370 226h4v4h-4z"/>
<path fill="#ffe000" d="M354 218h4v4h-4z"/>
<path fill="#ffdc00" d="M342 194h4v4h-4zM346 210h4v4h-4z"/>
<path fill="#ffd900" d="M350 214h4v4h-4z"/>
<path fill="#ffd500" d="M342 198h4v4h-4zM342 202h4v4h-4zM362 222h4v4h-4z"/>
<path fill="#ffc800" d="M346 182h4v4h-4z"/>
<path fill="#ffc400" d="M346 186h4v4h-4zM358 218h4v4h-4zM366 222h4v4h-4z"/>
<path fill="#ffbc00" d="M346 190h4v4h-4zM346 206h4v4h-4z"/>
<path fill="#ffb900" d="M350 182h4v4h-4zM350 210h4v4h-4zM354 214h4v4h-4zM370 222h8v4h-8z"/>
<path fill="#ffb100" d="M346 194h4v4h-4z"/>
<path fill="#ffac00" d="M346 198h4v4h-4zM346 202h4v4h-4zM362 218h4v4h-4z"/>
<path fill="#ffa000" d="M358 214h4v4h-4z"/>
<path fill="#ff9c00" d="M350 206h4v4h-4zM366 218h4v4h-4z"/>
<path fill="#ff9900" d="M350 190h4v4h-4zM354 210h4v4h-4zM370 218h4v4h-4z"/>
<path fill="#ff9100" d="M350 194h4v4h-4z"/>
<path fill="#ff8c00" d="M354 186h4v4h-4zM350 202h4v4h-4zM362 214h4v4h-4z"/>
<path fill="#ff8800" d="M350 198h4v4h-4z"/>
<path fill="#ff8000" d="M358 210h4v4h-4z"/>
<path fill="#ff7d00" d="M354 190h4v4h-4zM354 206h4v4h-4z"/>
<path fill="#ff7900" d="M366 214h4v4h-4z"/>
<path fill="#ff7100" d="M354 194h4v4h-4z"/>
<path fill="#ff6c00" d="M354 202h4v4h-4z"/>
<path fill="#ff6800" d="M354 198h4v4h-4zM362 210h4v4h-4z"/>
<path fill="#ff6000" d="M358 190h4v4h-4zM358 206h4v4h-4z"/>
<path fill="#ff5100" d="M358 194h4v4h-4zM366 210h4v4h-4z"/>
<path fill="#ff4800" d="M358 198h4v4h-4zM358 202h4v4h-4z"/>
<path fill="#ff4400" d="M362 190h4v4h-4z"/>
<path fill="#ff4000" d="M362 206h4v4h-4z"/>
<path fill="#ff3100" d="M362 194h4v4h-4z"/>
<path fill="#ff2400" d="M362 198h4v4h-4zM362 202h4v4h-4zM366 206h4v4h-4z"/>
<path fill="#ff1500" d="M366 194h4v4h-4zM370 206h4v4h-4z"/>
<path fill="#ff1100" d="M366 202h4v4h-4z"/>
<path fill="#ff0400" d="M370 194h4v4h-4zM374 206h4v4h-4z"/>
<path fill="#ff0000" d="M370 202h4v4h-4z"/>
<path fill="#f80000" d="M374 194h4v4h-4z"/>
<path fill="#f40000" d="M374 202h4v4h-4zM378 206h4v4h-4z"/>
<path fill="#eb0000" d="M378 202h4v4h-4z"/>
<path fill="#e00000" d="M378 198h4v4h-4z"/>
<path fill="#c70000" d="M394 186h12v4h-12zM394 190h12v4h-12z"/>
<path fill="#c30000" d="M394 182h12v4h-12zM390 186h4v4h-4zM406 186h4v4h-4zM390 190h4v4h-4zM406 190h4v4h-4zM394 194h16v4h-16zM398 198h4v4h-4z"/>
<path fill="#c00000" d="M398 178h4v4h-4zM390 182h4v4h-4zM406 182h4v4h-4zM410 186h4v4h-4zM386 190h4v4h-4zM410 190h4v4h-4zM390 194h4v4h-4zM410 194h4v4h-4zM394 198h4v4h-4zM402 198h8v4h-8zM394 202h12v4h-12z"/>
<path fill="#bc0000" d="M402 178h8v4h-8zM386 182h4v4h-4zM410 182h4v4h-4zM382 186h4v4h-4zM382 190h4v4h-4zM386 194h4v4h-4zM390 198h4v4h-4zM410 198h4v4h-4zM390 202h4v4h-4zM406 202h4v4h-4z"/>
<path fill="#b80000" d="M398 174h8v4h-8zM410 178h4v4h-4zM414 182h4v4h-4zM414 186h4v4h-4zM414 190h4v4h-4zM414 194h4v4h-4zM386 198h4v4h-4zM386 202h4v4h-4z"/>
<path fill="#b40000" d="M406 174h4v4h-4zM382 182h4v4h-4zM418 186h4v4h-4zM418 190h4v4h-4zM378 194h4v4h-4zM418 194h4v4h-4zM382 198h4v4h-4zM414 198h4v4h-4zM382 202h4v4h-4zM414 202h4v4h-4z"/>
<path fill="#b00000" d="M394 170h12v4h-12zM386 174h8v4h-8zM410 174h4v4h-4zM382 178h4v4h-4zM414 178h4v4h-4zM378 182h4v4h-4zM418 182h4v4h-4zM418 198h4v4h-4zM410 206h8v4h-8z"/>
<path fill="#ab0000" d="M406 170h4v4h-4zM382 174h4v4h-4zM414 174h4v4h-4zM378 178h4v4h-4zM418 178h4v4h-4zM422 186h4v4h-4zM422 190h4v4h-4zM422 194h4v4h-4zM422 198h4v4h-4zM418 202h4v4h-4zM418 206h4v4h-4zM410 210h8v4h-8z"/>
<path fill="#a70000" d="M398 166h4v4h-4zM378 170h12v4h-12zM410 170h4v4h-4zM378 174h4v4h-4zM418 174h4v4h-4zM422 178h4v4h-4zM422 182h4v4h-4zM422 202h4v4h-4zM422 206h4v4h-4zM418 210h4v4h-4zM410 214h12v4h-12zM410 218h4v4h-4zM418 222h4v4h-4zM414 226h20v4h-20zM410 230h4v4h-4zM418 230h20v4h-20zM414 234h28v4h-28zM414 238h28v4h-28zM418 242h24v4h-24zM422 246h16v4h-16z"/>
<path fill="#a30000" d="M386 166h12v4h-12zM402 166h12v4h-12zM414 170h4v4h-4zM374 174h4v4h-4zM422 174h4v4h-4zM374 178h4v4h-4zM426 182h4v4h-4zM426 186h4v4h-4zM426 190h4v4h-4zM426 194h4v4h-4zM426 198h4v4h-4zM426 202h4v4h-4zM426 206h4v4h-4zM422 210h8v4h-8zM422 214h8v4h-8zM418 218h16v4h-16zM410 222h4v4h-4zM422 222h16v4h-16zM410 226h4v4h-4zM434 226h8v4h-8zM438 230h8v4h-8zM410 234h4v4h-4zM442 234h8v4h-8zM410 238h4v4h-4zM442 238h8v4h-8zM410 242h8v4h-8zM442 242h8v4h-8zM410 246h12v4h-12zM438 246h8v4h-8zM418 250h24v4h-24z"/>
<path fill="#a00000" d="M394 162h12v4h-12zM414 166h4v4h-4zM374 170h4v4h-4zM418 170h4v4h-4zM426 178h4v4h-4zM430 186h4v4h-4zM430 190h4v4h-4zM430 194h4v4h-4zM430 198h4v4h-4zM434 202h4v4h-4zM430 206h8v4h-8zM430 210h4v4h-4zM430 214h8v4h-8zM434 218h8v4h-8zM438 222h8v4h-8zM442 226h8v4h-8zM446 230h8v4h-8zM450 234h4v4h-4zM450 238h8v4h-8zM450 242h4v4h-4zM446 246h8v4h-8zM410 250h8v4h-8zM442 250h8v4h-8zM410 254h36v4h-36z"/>
<path fill="#9c0000" d="M410 158h8v4h-8zM386 162h8v4h-8zM406 162h8v4h-8zM418 162h4v4h-4zM418 166h4v4h-4zM366 170h8v4h-8zM422 170h4v4h-4zM366 174h8v4h-8zM426 174h4v4h-4zM366 178h8v4h-8zM430 178h4v4h-4zM430 182h4v4h-4zM434 186h4v4h-4zM434 190h4v4h-4zM434 194h4v4h-4zM438 198h4v4h-4zM438 210h8v4h-8zM438 214h4v4h-4zM442 218h8v4h-8zM446 222h8v4h-8zM450 226h8v4h-8zM454 230h8v4h-8zM454 234h8v4h-8zM458 238h4v4h-4zM454 242h8v4h-8zM454 246h8v4h-8zM450 250h8v4h-8zM446 254h8v4h-8zM410 258h40v4h-40zM426 262h8v4h-8z"/>
<path fill="#980000" d="M406 154h4v4h-4zM386 158h24v4h-24zM382 162h4v4h-4zM422 162h4v4h-4zM378 166h4v4h-4zM422 166h12v4h-12zM430 174h4v4h-4zM434 178h4v4h-4zM434 182h4v4h-4zM438 186h4v4h-4zM438 190h8v4h-8zM438 194h4v4h-4zM446 210h4v4h-4zM446 214h16v4h-16zM450 218h16v4h-16zM454 222h12v4h-12zM458 226h12v4h-12zM462 230h4v4h-4zM462 234h8v4h-8zM462 238h8v4h-8zM462 242h8v4h-8zM462 246h4v4h-4zM458 250h8v4h-8zM454 254h8v4h-8zM450 258h8v4h-8zM410 262h16v4h-16zM434 262h20v4h-20zM414 266h28v4h-28z"/>
<path fill="#940000" d="M386 154h20v4h-20zM378 158h8v4h-8zM374 162h4v4h-4zM434 170h4v4h-4zM434 174h8v4h-8zM438 182h8v4h-8zM442 186h4v4h-4zM470 230h4v4h-4zM470 238h4v4h-4zM470 242h8v4h-8zM466 246h8v4h-8zM466 250h8v4h-8zM462 254h8v4h-8zM458 258h12v4h-12zM454 262h12v4h-12zM442 266h16v4h-16zM418 270h32v4h-32zM422 274h8v4h-8z"/>
<path fill="#900000" d="M378 150h28v4h-28zM370 154h16v4h-16zM370 158h4v4h-4zM478 234h4v4h-4zM478 238h8v4h-8zM478 242h4v4h-4zM486 242h4v4h-4zM474 246h16v4h-16zM474 250h12v4h-12zM470 254h12v4h-12zM470 258h12v4h-12zM466 262h12v4h-12zM458 266h16v4h-16zM450 270h20v4h-20zM430 274h32v4h-32zM430 278h24v4h-24zM438 282h8v4h-8z"/>
<path fill="#8b0000" d="M406 82h4v4h-4zM402 86h16v4h-16zM398 90h28v4h-28zM382 94h40v4h-40zM430 94h4v4h-4zM382 98h8v4h-8zM394 98h4v4h-4zM402 98h40v4h-40zM374 102h60v4h-60zM438 102h8v4h-8zM374 106h76v4h-76zM374 110h4v4h-4zM382 110h72v4h-72zM374 114h4v4h-4zM382 114h80v4h-80zM374 118h4v4h-4zM382 118h72v4h-72zM458 118h4v4h-4zM374 122h84v4h-84zM374 126h4v4h-4zM382 126h72v4h-72zM374 130h4v4h-4zM382 130h68v4h-68zM378 134h52v4h-52zM434 134h8v4h-8zM382 138h52v4h-52zM378 142h36v4h-36zM418 142h4v4h-4zM374 146h44v4h-44zM406 150h4v4h-4zM486 250h8v4h-8zM482 254h12v4h-12zM482 258h16v4h-16zM478 262h20v4h-20zM474 266h16v4h-16zM494 266h4v4h-4zM470 270h28v4h-28zM462 274h32v4h-32zM498 274h4v4h-4zM454 278h40v4h-40zM498 278h4v4h-4zM446 282h60v4h-60zM454 286h44v4h-44zM502 286h4v4h-4zM462 290h40v4h-40zM506 290h4v4h-4zM466 294h44v4h-44zM474 298h36v4h-36zM478 302h16v4h-16zM498 302h12v4h-12zM486 306h20v4h-20zM498 310h8v4h-8zM510 310h1v4h-1zM498 314h13v4h-13zM502 318h8v4h-8z"/></g></g>
<path fill="#fff" d="M392.3 182.3H403.9V188.5H392.3Z M415.4 194.7H423.2V203.7H419V199.5H415.4Z"/>
<path fill="#cccccc" fill-rule="evenodd" d="M205.9 38.0 L212.5 46.2 L218.3 54.4 L215.0 60.2 L210.9 58.6 L210.0 61.0 L213.3 66.8 L218.3 72.5 L219.9 78.3 L224.0 81.6 L224.8 85.7 L222.4 92.3 L219.0 100.5 L215.8 108.7 L213.3 117.9 L210.9 121.5 L205.9 131.4 L201.0 138.8 L199.3 140.4 L204.3 141.2 L215.8 141.6 L219.0 141.2 L216.6 137.1 L217.4 133.0 L222.4 128.9 L230.6 127.3 L240.0 129.0 L249.9 130.7 L259.7 135.6 L269.6 143.0 L277.8 150.4 L281.1 156.2 L289.3 160.3 L295.9 164.4 L299.2 170.2 L306.6 174.0 L312.0 170.5 L318.0 169.9 L324.5 171.3 L331.5 176.8 L336.2 179.7 L342.8 183.0 L349.3 187.1 L354.3 190.4 L360.0 194.3 L365.8 197.6 L371.5 199.0 L377.3 200.5 L381.6 201.2 L381.6 202.0 L377.3 205.5 L373.0 208.4 L370.6 211.3 L370.8 217.6 L372.5 229.0 L375.0 240.0 L376.8 250.6 L377.3 265.0 L373.2 273.2 L369.1 275.3 L370.1 285.6 L371.2 297.9 L373.2 302.0 L377.3 307.2 L383.5 306.1 L389.7 310.2 L392.8 319.0 L395.5 328.0 L399.6 338.5 L405.2 347.8 L408.9 355.2 L407.0 368.1 L405.2 379.3 L403.3 390.4 L405.2 397.8 L407.0 407.0 L511.0 407.0 L511.0 38.0Z M380.6 101.6 L379.6 115.0 L377.5 127.3 L380.6 133.5 L388.8 139.7 L384.7 145.9 L378.5 148.5 L376.5 151.0 L381.0 153.8 L382.5 155.8 L378.7 156.5 L373.5 158.5 L376.0 161.0 L381.6 163.7 L385.2 168.0 L388.8 171.7 L394.6 175.3 L395.3 179.6 L391.0 183.2 L388.1 181.0 L384.5 176.0 L378.7 174.5 L370.0 175.3 L368.6 176.7 L374.4 177.4 L378.7 179.6 L383.0 183.9 L387.4 186.8 L386.0 192.6 L383.8 198.3 L381.6 201.2 L381.6 202.0 L386.0 202.0 L393.2 201.2 L403.2 199.8 L410.5 202.0 L414.5 208.0 L416.0 218.0 L416.5 228.0 L414.5 236.0 L413.5 245.0 L413.5 252.0 L415.0 259.4 L419.7 269.2 L429.6 274.2 L439.5 279.1 L449.4 281.6 L459.2 284.0 L466.6 291.4 L474.0 293.9 L481.4 301.3 L488.8 303.8 L498.7 306.2 L503.7 316.1 L508.6 316.5 L506.1 303.8 L503.7 291.4 L498.7 281.6 L493.8 271.7 L491.3 256.9 L485.3 245.5 L480.0 240.0 L472.0 236.0 L464.0 229.4 L461.2 221.4 L453.2 218.7 L440.0 213.4 L434.0 210.0 L432.3 205.3 L436.5 199.1 L440.6 188.8 L438.5 180.6 L436.0 174.0 L432.0 172.0 L425.9 168.5 L422.0 165.5 L417.6 166.5 L414.0 163.5 L409.0 162.3 L404.5 158.0 L401.5 151.5 L405.3 149.0 L410.0 147.0 L413.5 145.9 L418.7 141.8 L421.8 135.6 L430.0 136.6 L438.2 133.5 L446.5 129.4 L452.6 123.2 L457.8 119.1 L446.5 110.9 L436.2 102.6 L425.9 96.5 L415.6 92.4 L409.4 89.3 L406.3 88.2 L401.2 96.5 L397.0 100.6 L388.8 99.6Z"/>
<g fill="none" stroke="#808080" stroke-linejoin="round" stroke-linecap="round" stroke-width="1.6">
<path d="M178.0 38.0 L180.4 43.0 L189.5 47.0 L196.0 52.8 L202.6 62.7 L208.4 72.5 L210.9 84.0 L211.7 92.3 L208.4 107.0 L204.3 118.0 L196.0 129.7 L187.8 138.8 L191.1 144.5 L199.3 147.0 L215.8 148.7 L233.9 150.3 L242.1 156.0 L249.9 161.1 L256.4 169.3 L261.4 177.6 L268.0 189.0 L272.6 203.6 L273.8 214.9 L279.4 233.0 L286.2 248.9 L295.3 262.4 L306.6 273.8 L322.4 285.1 L336.0 291.9 L345.1 298.7 L352.6 304.0 L360.9 316.4 L364.0 328.0 L370.0 342.2 L375.6 360.7 L383.0 381.1 L391.3 407.0"/>
<path d="M125.4 38.0 L131.6 50.3 L139.8 64.7 L141.8 79.1 L143.9 99.7 L147.0 120.2 L149.0 138.0 L150.1 142.0 L149.0 149.5 L135.7 149.5 L129.5 160.8 L120.3 171.1 L128.5 183.5 L122.3 195.8 L127.5 206.1 L139.8 210.2 L151.0 218.0 L166.5 230.9 L180.9 241.2 L195.3 249.4 L209.7 255.6 L220.0 265.9 L230.3 276.2 L238.5 288.5 L246.0 300.0 L264.3 324.6 L279.1 344.4 L291.4 361.7 L306.3 366.6 L311.2 376.5 L318.6 388.9 L328.5 407.0"/>
<path d="M74.0 126.0 L78.0 131.5 L81.0 137.0 L82.2 143.4 L78.1 147.5 L74.0 150.6"/>
<path d="M146.0 150.6 L152.1 150.6 L153.2 155.7 L147.0 158.4 L142.9 155.7Z"/>
<path d="M193.2 232.9 L197.3 229.8 L205.6 235.0 L215.9 238.1 L224.1 244.3 L215.9 246.3 L203.5 245.3 L199.4 243.2Z"/>
</g>
<g fill="none" stroke="#808080" stroke-linejoin="round" stroke-linecap="round" stroke-width="4">
<path d="M74.0 58.6 L78.1 64.7 L81.2 75.0 L83.3 89.4 L84.3 103.8 L80.2 106.9 L74.0 106.9"/>
<path d="M74.0 187.6 L86.3 195.8 L100.7 202.0 L115.1 210.2 L127.5 214.3 L139.8 218.4 L150.0 225.7 L160.3 234.0 L166.5 241.2 L170.6 245.3 L176.8 247.3 L185.0 257.6 L195.3 267.9 L203.5 278.2 L208.7 288.5 L214.8 300.0 L218.5 309.8 L227.2 318.4 L237.1 324.6 L243.3 330.8 L251.9 334.5 L247.0 345.6 L254.4 361.7 L264.3 379.0 L276.6 393.8 L284.0 401.2 L289.0 407.0"/>
</g>
<rect x="100.8" y="177.3" width="2" height="2" fill="#333"/>
<rect x="173.7" y="216.5" width="2" height="2" fill="#333"/>
<g fill="none" stroke="#000" stroke-width="1.8" stroke-linejoin="round">
<path d="M205.9 38.0 L212.5 46.2 L218.3 54.4 L215.0 60.2 L210.9 58.6 L210.0 61.0 L213.3 66.8 L218.3 72.5 L219.9 78.3 L224.0 81.6 L224.8 85.7 L222.4 92.3 L219.0 100.5 L215.8 108.7 L213.3 117.9 L210.9 121.5 L205.9 131.4 L201.0 138.8 L199.3 140.4 L204.3 141.2 L215.8 141.6 L219.0 141.2 L216.6 137.1 L217.4 133.0 L222.4 128.9 L230.6 127.3 L240.0 129.0 L249.9 130.7 L259.7 135.6 L269.6 143.0 L277.8 150.4 L281.1 156.2 L289.3 160.3 L295.9 164.4 L299.2 170.2 L306.6 174.0 L312.0 170.5 L318.0 169.9 L324.5 171.3 L331.5 176.8 L336.2 179.7 L342.8 183.0 L349.3 187.1 L354.3 190.4 L360.0 194.3 L365.8 197.6 L371.5 199.0 L377.3 200.5 L381.6 201.2"/><path d="M381.6 202.0 L377.3 205.5 L373.0 208.4 L370.6 211.3 L370.8 217.6 L372.5 229.0 L375.0 240.0 L376.8 250.6 L377.3 265.0 L373.2 273.2 L369.1 275.3 L370.1 285.6 L371.2 297.9 L373.2 302.0 L377.3 307.2 L383.5 306.1 L389.7 310.2 L392.8 319.0 L395.5 328.0 L399.6 338.5 L405.2 347.8 L408.9 355.2 L407.0 368.1 L405.2 379.3 L403.3 390.4 L405.2 397.8 L407.0 407.0"/><path d="M380.6 101.6 L379.6 115.0 L377.5 127.3 L380.6 133.5 L388.8 139.7 L384.7 145.9 L378.5 148.5 L376.5 151.0 L381.0 153.8 L382.5 155.8 L378.7 156.5 L373.5 158.5 L376.0 161.0 L381.6 163.7 L385.2 168.0 L388.8 171.7 L394.6 175.3 L395.3 179.6 L391.0 183.2 L388.1 181.0 L384.5 176.0 L378.7 174.5 L370.0 175.3 L368.6 176.7 L374.4 177.4 L378.7 179.6 L383.0 183.9 L387.4 186.8 L386.0 192.6 L383.8 198.3 L381.6 201.2 L381.6 202.0 L386.0 202.0 L393.2 201.2 L403.2 199.8 L410.5 202.0 L414.5 208.0 L416.0 218.0 L416.5 228.0 L414.5 236.0 L413.5 245.0 L413.5 252.0 L415.0 259.4 L419.7 269.2 L429.6 274.2 L439.5 279.1 L449.4 281.6 L459.2 284.0 L466.6 291.4 L474.0 293.9 L481.4 301.3 L488.8 303.8 L498.7 306.2 L503.7 316.1 L508.6 316.5 L506.1 303.8 L503.7 291.4 L498.7 281.6 L493.8 271.7 L491.3 256.9 L485.3 245.5 L480.0 240.0 L472.0 236.0 L464.0 229.4 L461.2 221.4 L453.2 218.7 L440.0 213.4 L434.0 210.0 L432.3 205.3 L436.5 199.1 L440.6 188.8 L438.5 180.6 L436.0 174.0 L432.0 172.0 L425.9 168.5 L422.0 165.5 L417.6 166.5 L414.0 163.5 L409.0 162.3 L404.5 158.0 L401.5 151.5 L405.3 149.0 L410.0 147.0 L413.5 145.9 L418.7 141.8 L421.8 135.6 L430.0 136.6 L438.2 133.5 L446.5 129.4 L452.6 123.2 L457.8 119.1 L446.5 110.9 L436.2 102.6 L425.9 96.5 L415.6 92.4 L409.4 89.3 L406.3 88.2 L401.2 96.5 L397.0 100.6 L388.8 99.6Z"/><path d="M370.3 95.4 L374.4 100.6 L380.6 101.6"/>
</g>
<path fill="none" stroke="#262626" stroke-width="1.6" d="M175.0 407v-5.5M175.0 38v5.5M275.6 407v-5.5M275.6 38v5.5M376.3 407v-5.5M376.3 38v5.5M477.0 407v-5.5M477.0 38v5.5M74 105.4h5.5M511 105.4h-5.5M74 205.9h5.5M511 205.9h-5.5M74 306.5h5.5M511 306.5h-5.5"/>
<rect x="74" y="38" width="437" height="369" fill="none" stroke="#262626" stroke-width="2"/>
<rect x="531" y="38" width="22" height="369" fill="url(#cg)" stroke="#262626" stroke-width="2"/>
<path stroke="#262626" stroke-width="1.5" d="M553 111.8h-4M553 185.6h-4M553 259.4h-4M553 333.2h-4"/>
<g fill="#1c1c1c"><text transform="translate(-1.2,28.9) scale(0.93,1)" font-size="38">(a)</text><text transform="translate(292.7,30) scale(1.0,1)" font-size="35.2" font-weight="bold" text-anchor="middle" fill="#000">Average</text><text transform="translate(68.3,119.0) scale(0.965,1)" font-size="36.4" text-anchor="end">38.1</text><text transform="translate(68.3,219.5) scale(0.965,1)" font-size="36.4" text-anchor="end">37.8</text><text transform="translate(68.3,320.1) scale(0.965,1)" font-size="36.4" text-anchor="end">37.5</text><text transform="translate(68.3,420.6) scale(0.965,1)" font-size="36.4" text-anchor="end">37.2</text><text transform="translate(90.6,444.4) rotate(-30) scale(0.965,1)" font-size="36.4" text-anchor="end">-123.4</text><text transform="translate(191.3,444.4) rotate(-30) scale(0.965,1)" font-size="36.4" text-anchor="end">-123.1</text><text transform="translate(291.9,444.4) rotate(-30) scale(0.965,1)" font-size="36.4" text-anchor="end">-122.8</text><text transform="translate(392.6,444.4) rotate(-30) scale(0.965,1)" font-size="36.4" text-anchor="end">-122.5</text><text transform="translate(493.3,444.4) rotate(-30) scale(0.965,1)" font-size="36.4" text-anchor="end">-122.2</text><text x="567.8" y="50.2" font-size="31.3">100</text><text x="567.8" y="124.0" font-size="31.3">80</text><text x="567.8" y="197.8" font-size="31.3">60</text><text x="567.8" y="271.6" font-size="31.3">40</text><text x="567.8" y="345.4" font-size="31.3">20</text><text x="567.8" y="419.2" font-size="31.3">0</text><text transform="translate(663,223) rotate(-90)" font-size="33" text-anchor="middle">%</text></g>
<g clip-path="url(#clip771)"><g filter="url(#bl)" shape-rendering="crispEdges"><path fill="#ffffff" d="M985 54h4v4h-4zM985 58h4v4h-4zM985 66h4v4h-4zM985 70h4v4h-4zM989 74h4v4h-4zM993 82h4v4h-4zM989 94h4v4h-4zM1193 94h8v4h-8zM989 98h4v4h-4zM1149 98h4v4h-4zM1161 98h4v4h-4zM1169 98h4v4h-4zM1205 102h4v4h-4zM985 110h4v4h-4zM1149 110h4v4h-4zM981 114h4v4h-4zM1149 114h4v4h-4zM1149 118h4v4h-4zM1225 118h4v4h-4zM993 126h4v4h-4zM1005 126h4v4h-4zM1013 126h4v4h-4zM1149 126h4v4h-4zM1025 130h4v4h-4zM1149 130h4v4h-4zM985 134h4v4h-4zM1029 134h4v4h-4zM1201 134h4v4h-4zM969 138h8v4h-8zM985 138h4v4h-4zM1037 138h4v4h-4zM1037 142h4v4h-4zM1185 142h4v4h-4zM1049 150h4v4h-4zM1145 150h4v4h-4zM1053 154h4v4h-4zM1145 158h4v4h-4zM1149 162h4v4h-4zM1185 162h4v4h-4zM1069 166h4v4h-4zM1153 166h4v4h-4zM1069 170h4v4h-4zM1089 170h12v4h-12zM1161 170h4v4h-4zM1197 170h8v4h-8zM1097 174h4v4h-4zM1165 174h4v4h-4zM1105 178h4v4h-4zM1157 178h12v4h-12zM1209 178h4v4h-4zM1113 182h4v4h-4zM1121 186h4v4h-4zM1157 186h4v4h-4zM1153 194h4v4h-4zM1137 198h12v4h-12zM1205 198h4v4h-4zM1181 202h4v4h-4zM1201 202h4v4h-4zM1141 210h4v4h-4zM1205 210h4v4h-4zM1141 214h4v4h-4zM1213 214h4v4h-4zM1185 218h4v4h-4zM1185 222h4v4h-4zM1141 230h4v4h-4zM1185 230h4v4h-4zM1237 230h4v4h-4zM1241 234h8v4h-8zM1245 238h4v4h-4zM1145 242h4v4h-4zM1253 242h4v4h-4zM865 258h12v4h-12zM1145 258h4v4h-4zM861 262h12v4h-12zM877 262h4v4h-4zM857 266h4v4h-4zM865 266h8v4h-8zM877 266h4v4h-4zM885 266h4v4h-4zM1261 266h4v4h-4zM849 270h28v4h-28zM849 274h12v4h-12zM865 274h16v4h-16zM1137 274h4v4h-4zM1265 274h4v4h-4zM849 278h20v4h-20zM1265 278h4v4h-4zM853 282h24v4h-24zM865 286h8v4h-8zM1269 286h4v4h-4zM865 290h12v4h-12zM1141 290h4v4h-4zM1273 290h4v4h-4zM865 294h8v4h-8zM1141 294h4v4h-4zM861 298h8v4h-8zM1141 298h4v4h-4zM857 302h12v4h-12zM1145 302h4v4h-4zM1265 302h4v4h-4zM857 306h8v4h-8zM1277 306h4v4h-4zM857 310h8v4h-8zM1161 310h4v4h-4zM1277 310h4v4h-4zM1161 314h4v4h-4zM873 326h8v4h-8zM1169 338h4v4h-4zM1177 354h4v4h-4zM1177 358h4v4h-4zM1177 366h4v4h-4zM917 374h8v4h-8zM909 378h20v4h-20zM989 378h12v4h-12zM905 382h20v4h-20zM981 382h20v4h-20zM1173 382h4v4h-4zM905 386h16v4h-16zM973 386h28v4h-28zM845 390h4v4h-4zM905 390h16v4h-16zM973 390h24v4h-24zM845 394h8v4h-8zM905 394h12v4h-12zM981 394h12v4h-12zM1173 394h4v4h-4zM845 398h8v4h-8zM905 398h8v4h-8zM985 398h8v4h-8zM845 402h8v4h-8zM845 406h8v1h-8zM857 406h4v1h-4zM877 406h4v1h-4zM889 406h4v1h-4zM901 406h12v1h-12zM925 406h12v1h-12zM941 406h4v1h-4zM957 406h4v1h-4zM973 406h8v1h-8zM989 406h4v1h-4zM1005 406h4v1h-4zM1017 406h4v1h-4zM1049 406h12v1h-12zM1065 406h4v1h-4zM1085 406h4v1h-4zM1121 406h4v1h-4zM1137 406h4v1h-4zM1149 406h16v1h-16zM1173 406h4v1h-4z"/>
<path fill="#f7f7ff" d="M845 38h4v4h-4zM845 42h4v4h-4zM845 62h4v4h-4zM845 66h4v4h-4zM845 70h4v4h-4zM845 74h4v4h-4zM845 78h8v4h-8zM845 82h8v4h-8zM845 86h8v4h-8zM845 90h8v4h-8zM845 94h8v4h-8zM845 98h8v4h-8zM845 102h8v4h-8zM845 130h4v4h-4zM845 134h4v4h-4zM845 138h4v4h-4zM845 142h4v4h-4zM865 254h8v4h-8zM861 258h4v4h-4zM857 262h4v4h-4zM873 262h4v4h-4zM881 262h8v4h-8zM853 266h4v4h-4zM861 266h4v4h-4zM873 266h4v4h-4zM881 266h4v4h-4zM889 266h4v4h-4zM877 270h12v4h-12zM861 274h4v4h-4zM881 274h8v4h-8zM845 278h4v4h-4zM869 278h12v4h-12zM845 282h8v4h-8zM877 282h4v4h-4zM853 286h12v4h-12zM873 286h8v4h-8zM861 294h4v4h-4zM873 294h4v4h-4zM857 298h4v4h-4zM869 298h4v4h-4zM853 306h4v4h-4zM865 306h4v4h-4zM853 310h4v4h-4zM865 310h8v4h-8zM861 314h20v4h-20zM865 318h20v4h-20zM869 322h16v4h-16zM869 326h4v4h-4zM881 326h4v4h-4zM865 330h16v4h-16zM865 334h8v4h-8zM861 338h12v4h-12zM861 342h8v4h-8zM865 346h4v4h-4zM897 350h4v4h-4zM897 354h8v4h-8zM893 358h12v4h-12zM893 362h12v4h-12zM893 366h4v4h-4zM913 374h4v4h-4zM925 374h4v4h-4zM889 378h8v4h-8zM905 378h4v4h-4zM929 378h4v4h-4zM981 378h8v4h-8zM1001 378h4v4h-4zM889 382h4v4h-4zM901 382h4v4h-4zM925 382h12v4h-12zM973 382h8v4h-8zM1001 382h4v4h-4zM845 386h4v4h-4zM901 386h4v4h-4zM921 386h4v4h-4zM1001 386h4v4h-4zM849 390h4v4h-4zM969 390h4v4h-4zM997 390h4v4h-4zM917 394h4v4h-4zM977 394h4v4h-4zM993 394h4v4h-4zM853 398h4v4h-4zM873 398h4v4h-4zM981 398h4v4h-4zM993 398h4v4h-4zM853 402h4v4h-4zM869 402h8v4h-8zM905 402h8v4h-8zM985 402h8v4h-8zM853 406h4v1h-4zM869 406h8v1h-8z"/>
<path fill="#efefff" d="M849 38h4v4h-4zM849 74h4v4h-4zM845 126h4v4h-4zM849 138h4v4h-4zM901 186h4v4h-4zM901 190h4v4h-4zM949 234h4v4h-4zM865 250h4v4h-4zM853 254h4v4h-4zM861 254h4v4h-4zM853 258h8v4h-8zM877 258h4v4h-4zM889 258h4v4h-4zM853 262h4v4h-4zM889 262h4v4h-4zM889 270h4v4h-4zM845 274h4v4h-4zM881 278h4v4h-4zM845 286h8v4h-8zM849 290h8v4h-8zM861 290h4v4h-4zM877 290h4v4h-4zM845 294h4v4h-4zM857 294h4v4h-4zM853 302h4v4h-4zM869 302h4v4h-4zM869 306h4v4h-4zM873 310h4v4h-4zM857 314h4v4h-4zM881 314h4v4h-4zM861 318h4v4h-4zM865 322h4v4h-4zM865 326h4v4h-4zM885 326h4v4h-4zM933 326h4v4h-4zM857 330h8v4h-8zM881 330h4v4h-4zM849 334h4v4h-4zM857 334h8v4h-8zM873 334h12v4h-12zM889 334h8v4h-8zM857 338h4v4h-4zM905 338h4v4h-4zM857 342h4v4h-4zM869 342h4v4h-4zM897 342h12v4h-12zM857 346h8v4h-8zM869 346h12v4h-12zM885 346h4v4h-4zM897 346h8v4h-8zM861 350h20v4h-20zM893 350h4v4h-4zM901 350h4v4h-4zM893 354h4v4h-4zM881 358h4v4h-4zM889 358h4v4h-4zM913 358h4v4h-4zM877 362h8v4h-8zM889 362h4v4h-4zM905 362h4v4h-4zM937 362h8v4h-8zM949 362h4v4h-4zM889 366h4v4h-4zM897 366h4v4h-4zM913 366h16v4h-16zM937 366h8v4h-8zM889 370h8v4h-8zM913 370h16v4h-16zM849 374h4v4h-4zM889 374h8v4h-8zM909 374h4v4h-4zM929 374h8v4h-8zM989 374h12v4h-12zM849 378h4v4h-4zM885 378h4v4h-4zM897 378h8v4h-8zM933 378h8v4h-8zM977 378h4v4h-4zM849 382h4v4h-4zM881 382h8v4h-8zM893 382h8v4h-8zM937 382h4v4h-4zM1005 382h4v4h-4zM849 386h4v4h-4zM877 386h12v4h-12zM893 386h4v4h-4zM925 386h16v4h-16zM969 386h4v4h-4zM877 390h8v4h-8zM901 390h4v4h-4zM921 390h4v4h-4zM929 390h12v4h-12zM1001 390h4v4h-4zM853 394h4v4h-4zM873 394h8v4h-8zM885 394h4v4h-4zM901 394h4v4h-4zM921 394h20v4h-20zM969 394h8v4h-8zM869 398h4v4h-4zM877 398h4v4h-4zM885 398h4v4h-4zM893 398h4v4h-4zM901 398h4v4h-4zM913 398h4v4h-4zM857 402h12v4h-12zM877 402h4v4h-4zM893 402h12v4h-12zM933 402h4v4h-4zM945 402h8v4h-8zM981 402h4v4h-4zM1073 402h4v4h-4zM861 406h8v1h-8zM893 406h8v1h-8zM937 406h4v1h-4zM945 406h8v1h-8zM985 406h4v1h-4zM1073 406h4v1h-4z"/>
<path fill="#e7e7ff" d="M849 42h4v4h-4zM845 46h4v4h-4zM877 90h4v4h-4zM849 142h4v4h-4zM845 146h4v4h-4zM905 186h4v4h-4zM905 190h4v4h-4zM905 194h4v4h-4zM945 230h8v4h-8zM881 234h4v4h-4zM945 234h4v4h-4zM861 242h4v4h-4zM845 250h4v4h-4zM853 250h12v4h-12zM869 250h4v4h-4zM917 250h4v4h-4zM849 254h4v4h-4zM857 254h4v4h-4zM873 254h4v4h-4zM893 254h4v4h-4zM885 258h4v4h-4zM893 258h4v4h-4zM917 258h4v4h-4zM849 266h4v4h-4zM917 266h4v4h-4zM845 270h4v4h-4zM889 274h4v4h-4zM881 282h4v4h-4zM845 290h4v4h-4zM857 290h4v4h-4zM849 294h8v4h-8zM877 294h4v4h-4zM845 298h4v4h-4zM853 298h4v4h-4zM873 298h4v4h-4zM845 306h8v4h-8zM873 306h4v4h-4zM849 310h4v4h-4zM877 310h4v4h-4zM853 314h4v4h-4zM857 318h4v4h-4zM857 322h8v4h-8zM885 322h4v4h-4zM893 322h4v4h-4zM845 326h4v4h-4zM853 326h12v4h-12zM845 330h4v4h-4zM853 330h4v4h-4zM885 330h8v4h-8zM845 334h4v4h-4zM853 334h4v4h-4zM885 334h4v4h-4zM845 338h12v4h-12zM873 338h4v4h-4zM885 338h20v4h-20zM909 338h4v4h-4zM845 342h12v4h-12zM873 342h8v4h-8zM885 342h12v4h-12zM909 342h4v4h-4zM945 342h4v4h-4zM965 342h4v4h-4zM845 346h12v4h-12zM881 346h4v4h-4zM889 346h8v4h-8zM905 346h4v4h-4zM941 346h8v4h-8zM973 346h4v4h-4zM845 350h4v4h-4zM853 350h8v4h-8zM881 350h12v4h-12zM905 350h4v4h-4zM913 350h4v4h-4zM929 350h8v4h-8zM941 350h4v4h-4zM845 354h4v4h-4zM853 354h12v4h-12zM869 354h24v4h-24zM905 354h4v4h-4zM913 354h12v4h-12zM933 354h4v4h-4zM941 354h4v4h-4zM957 354h4v4h-4zM857 358h24v4h-24zM885 358h4v4h-4zM905 358h8v4h-8zM917 358h4v4h-4zM925 358h28v4h-28zM857 362h20v4h-20zM885 362h4v4h-4zM909 362h20v4h-20zM933 362h4v4h-4zM945 362h4v4h-4zM845 366h4v4h-4zM877 366h12v4h-12zM901 366h4v4h-4zM909 366h4v4h-4zM929 366h8v4h-8zM945 366h12v4h-12zM845 370h8v4h-8zM885 370h4v4h-4zM897 370h16v4h-16zM929 370h24v4h-24zM853 374h8v4h-8zM873 374h8v4h-8zM885 374h4v4h-4zM897 374h4v4h-4zM905 374h4v4h-4zM937 374h4v4h-4zM945 374h12v4h-12zM981 374h8v4h-8zM1001 374h4v4h-4zM853 378h16v4h-16zM877 378h8v4h-8zM941 378h8v4h-8zM973 378h4v4h-4zM1005 378h4v4h-4zM845 382h4v4h-4zM853 382h8v4h-8zM877 382h4v4h-4zM941 382h8v4h-8zM953 382h4v4h-4zM1053 382h4v4h-4zM853 386h4v4h-4zM873 386h4v4h-4zM889 386h4v4h-4zM897 386h4v4h-4zM949 386h4v4h-4zM961 386h4v4h-4zM1005 386h4v4h-4zM1093 386h4v4h-4zM853 390h4v4h-4zM873 390h4v4h-4zM885 390h4v4h-4zM893 390h8v4h-8zM925 390h4v4h-4zM941 390h4v4h-4zM1093 390h4v4h-4zM865 394h8v4h-8zM881 394h4v4h-4zM893 394h4v4h-4zM941 394h4v4h-4zM965 394h4v4h-4zM997 394h8v4h-8zM857 398h12v4h-12zM881 398h4v4h-4zM889 398h4v4h-4zM897 398h4v4h-4zM917 398h40v4h-40zM977 398h4v4h-4zM881 402h12v4h-12zM913 402h4v4h-4zM925 402h4v4h-4zM937 402h8v4h-8zM953 402h4v4h-4zM993 402h4v4h-4zM1085 402h4v4h-4zM881 406h8v1h-8zM913 406h4v1h-4zM953 406h4v1h-4zM981 406h4v1h-4zM993 406h4v1h-4z"/>
<path fill="#dfdfff" d="M845 58h4v4h-4zM873 86h4v4h-4zM853 94h4v4h-4zM853 98h4v4h-4zM849 134h4v4h-4zM893 186h8v4h-8zM897 190h4v4h-4zM901 194h4v4h-4zM845 198h4v4h-4zM905 198h4v4h-4zM873 230h4v4h-4zM881 238h4v4h-4zM865 242h4v4h-4zM857 246h12v4h-12zM897 250h4v4h-4zM889 254h4v4h-4zM845 258h8v4h-8zM881 258h4v4h-4zM845 262h4v4h-4zM893 262h4v4h-4zM925 262h4v4h-4zM845 266h4v4h-4zM893 266h4v4h-4zM925 270h4v4h-4zM941 270h4v4h-4zM933 274h4v4h-4zM885 278h4v4h-4zM917 282h4v4h-4zM881 286h4v4h-4zM901 286h4v4h-4zM917 286h4v4h-4zM941 286h4v4h-4zM881 290h4v4h-4zM901 290h4v4h-4zM885 294h4v4h-4zM901 294h8v4h-8zM949 294h4v4h-4zM849 298h4v4h-4zM877 298h4v4h-4zM849 302h4v4h-4zM873 302h4v4h-4zM893 310h4v4h-4zM845 314h8v4h-8zM885 314h16v4h-16zM885 318h8v4h-8zM897 318h4v4h-4zM845 322h12v4h-12zM889 322h4v4h-4zM897 322h8v4h-8zM933 322h4v4h-4zM849 326h4v4h-4zM889 326h8v4h-8zM901 326h4v4h-4zM929 326h4v4h-4zM937 326h4v4h-4zM849 330h4v4h-4zM893 330h12v4h-12zM933 330h4v4h-4zM901 334h16v4h-16zM941 334h4v4h-4zM969 334h4v4h-4zM877 338h8v4h-8zM941 338h8v4h-8zM881 342h4v4h-4zM913 342h4v4h-4zM941 342h4v4h-4zM949 342h4v4h-4zM961 342h4v4h-4zM977 342h4v4h-4zM909 346h4v4h-4zM917 346h8v4h-8zM933 346h8v4h-8zM953 346h12v4h-12zM969 346h4v4h-4zM977 346h4v4h-4zM849 350h4v4h-4zM909 350h4v4h-4zM917 350h4v4h-4zM937 350h4v4h-4zM945 350h4v4h-4zM953 350h8v4h-8zM969 350h8v4h-8zM849 354h4v4h-4zM865 354h4v4h-4zM909 354h4v4h-4zM929 354h4v4h-4zM937 354h4v4h-4zM945 354h8v4h-8zM969 354h4v4h-4zM845 358h12v4h-12zM921 358h4v4h-4zM953 358h12v4h-12zM845 362h12v4h-12zM929 362h4v4h-4zM953 362h12v4h-12zM849 366h20v4h-20zM873 366h4v4h-4zM905 366h4v4h-4zM957 366h16v4h-16zM853 370h16v4h-16zM873 370h12v4h-12zM953 370h8v4h-8zM973 370h4v4h-4zM981 370h4v4h-4zM845 374h4v4h-4zM861 374h12v4h-12zM881 374h4v4h-4zM901 374h4v4h-4zM941 374h4v4h-4zM957 374h16v4h-16zM977 374h4v4h-4zM1005 374h4v4h-4zM845 378h4v4h-4zM869 378h8v4h-8zM949 378h12v4h-12zM969 378h4v4h-4zM861 382h16v4h-16zM949 382h4v4h-4zM957 382h8v4h-8zM969 382h4v4h-4zM1097 382h4v4h-4zM857 386h16v4h-16zM941 386h8v4h-8zM953 386h8v4h-8zM965 386h4v4h-4zM857 390h16v4h-16zM889 390h4v4h-4zM945 390h24v4h-24zM1005 390h4v4h-4zM1013 390h4v4h-4zM857 394h8v4h-8zM889 394h4v4h-4zM897 394h4v4h-4zM945 394h16v4h-16zM1021 394h4v4h-4zM957 398h12v4h-12zM973 398h4v4h-4zM1009 398h4v4h-4zM1029 398h4v4h-4zM1073 398h12v4h-12zM917 402h8v4h-8zM929 402h4v4h-4zM957 402h8v4h-8zM977 402h4v4h-4zM1013 402h4v4h-4zM1025 402h4v4h-4zM917 406h8v1h-8zM961 406h4v1h-4zM1025 406h4v1h-4z"/>
<path fill="#d7d7ff" d="M853 38h4v4h-4zM849 46h4v4h-4zM849 70h4v4h-4zM877 86h4v4h-4zM853 90h4v4h-4zM873 90h4v4h-4zM881 90h4v4h-4zM853 102h4v4h-4zM849 126h4v4h-4zM881 126h4v4h-4zM849 130h4v4h-4zM885 130h4v4h-4zM893 190h4v4h-4zM849 194h4v4h-4zM897 194h4v4h-4zM865 202h4v4h-4zM905 202h4v4h-4zM885 210h4v4h-4zM845 214h4v4h-4zM885 222h4v4h-4zM857 226h4v4h-4zM869 226h4v4h-4zM949 226h4v4h-4zM869 230h4v4h-4zM885 230h4v4h-4zM873 234h8v4h-8zM885 234h4v4h-4zM857 238h4v4h-4zM873 238h8v4h-8zM885 238h4v4h-4zM945 238h4v4h-4zM857 242h4v4h-4zM873 242h4v4h-4zM881 242h4v4h-4zM889 242h4v4h-4zM849 246h8v4h-8zM877 246h8v4h-8zM937 246h4v4h-4zM849 250h4v4h-4zM921 250h4v4h-4zM845 254h4v4h-4zM885 254h4v4h-4zM905 254h4v4h-4zM917 254h4v4h-4zM913 258h4v4h-4zM921 258h4v4h-4zM933 258h8v4h-8zM849 262h4v4h-4zM909 262h4v4h-4zM921 262h4v4h-4zM905 266h4v4h-4zM913 266h4v4h-4zM933 266h4v4h-4zM893 270h4v4h-4zM909 270h4v4h-4zM921 270h4v4h-4zM929 270h4v4h-4zM937 270h4v4h-4zM941 274h4v4h-4zM889 278h4v4h-4zM885 282h4v4h-4zM905 282h12v4h-12zM925 286h4v4h-4zM933 286h8v4h-8zM885 290h4v4h-4zM933 290h8v4h-8zM945 290h4v4h-4zM881 294h4v4h-4zM889 294h4v4h-4zM933 294h8v4h-8zM945 294h4v4h-4zM881 298h12v4h-12zM845 302h4v4h-4zM877 302h4v4h-4zM885 302h8v4h-8zM901 302h4v4h-4zM925 302h4v4h-4zM949 302h8v4h-8zM961 302h4v4h-4zM877 306h8v4h-8zM949 306h4v4h-4zM957 306h4v4h-4zM845 310h4v4h-4zM881 310h12v4h-12zM945 310h8v4h-8zM901 314h4v4h-4zM909 314h4v4h-4zM941 314h8v4h-8zM953 314h4v4h-4zM961 314h4v4h-4zM845 318h12v4h-12zM893 318h4v4h-4zM901 318h4v4h-4zM909 318h4v4h-4zM945 318h12v4h-12zM909 322h4v4h-4zM929 322h4v4h-4zM949 322h4v4h-4zM897 326h4v4h-4zM941 326h4v4h-4zM949 326h4v4h-4zM909 330h12v4h-12zM929 330h4v4h-4zM937 330h12v4h-12zM965 330h4v4h-4zM897 334h4v4h-4zM917 334h4v4h-4zM937 334h4v4h-4zM957 334h12v4h-12zM981 334h4v4h-4zM913 338h12v4h-12zM937 338h4v4h-4zM957 338h8v4h-8zM1041 338h4v4h-4zM917 342h12v4h-12zM933 342h8v4h-8zM953 342h4v4h-4zM969 342h8v4h-8zM981 342h4v4h-4zM913 346h4v4h-4zM929 346h4v4h-4zM949 346h4v4h-4zM965 346h4v4h-4zM997 346h4v4h-4zM1005 346h4v4h-4zM921 350h8v4h-8zM949 350h4v4h-4zM961 350h4v4h-4zM977 350h4v4h-4zM925 354h4v4h-4zM953 354h4v4h-4zM961 354h8v4h-8zM973 354h8v4h-8zM1009 354h4v4h-4zM965 358h12v4h-12zM989 358h4v4h-4zM965 362h12v4h-12zM981 362h4v4h-4zM1005 362h4v4h-4zM869 366h4v4h-4zM973 366h4v4h-4zM981 366h8v4h-8zM1025 366h8v4h-8zM869 370h4v4h-4zM961 370h12v4h-12zM977 370h4v4h-4zM985 370h8v4h-8zM1025 370h4v4h-4zM973 374h4v4h-4zM1029 374h8v4h-8zM961 378h4v4h-4zM1017 378h4v4h-4zM1025 378h4v4h-4zM1033 378h4v4h-4zM1049 378h8v4h-8zM965 382h4v4h-4zM1009 382h8v4h-8zM1029 382h8v4h-8zM1049 382h4v4h-4zM1057 382h4v4h-4zM1093 382h4v4h-4zM1009 386h4v4h-4zM1017 386h4v4h-4zM1029 386h8v4h-8zM1049 386h4v4h-4zM1097 386h4v4h-4zM1009 390h4v4h-4zM1021 390h4v4h-4zM1033 390h8v4h-8zM1045 390h4v4h-4zM961 394h4v4h-4zM1013 394h8v4h-8zM1029 394h4v4h-4zM1093 394h4v4h-4zM969 398h4v4h-4zM997 398h12v4h-12zM1013 398h4v4h-4zM1021 398h8v4h-8zM1033 398h8v4h-8zM1085 398h4v4h-4zM965 402h4v4h-4zM973 402h4v4h-4zM997 402h16v4h-16zM1017 402h4v4h-4zM1029 402h8v4h-8zM1041 402h4v4h-4zM1081 402h4v4h-4zM1097 402h4v4h-4zM965 406h4v1h-4zM997 406h8v1h-8zM1009 406h8v1h-8zM1029 406h8v1h-8zM1041 406h4v1h-4zM1069 406h4v1h-4zM1089 406h4v1h-4zM1097 406h4v1h-4z"/>
<path fill="#cfcfff" d="M853 42h4v4h-4zM849 50h4v4h-4zM849 54h4v4h-4zM849 58h4v4h-4zM849 62h4v4h-4zM849 66h4v4h-4zM853 82h8v4h-8zM877 82h4v4h-4zM853 86h8v4h-8zM877 94h4v4h-4zM845 122h4v4h-4zM885 126h4v4h-4zM881 130h4v4h-4zM881 150h4v4h-4zM889 190h4v4h-4zM845 194h4v4h-4zM877 198h4v4h-4zM901 198h4v4h-4zM861 202h4v4h-4zM869 202h4v4h-4zM881 202h4v4h-4zM845 206h4v4h-4zM853 206h4v4h-4zM877 210h8v4h-8zM849 214h8v4h-8zM889 218h4v4h-4zM845 222h8v4h-8zM889 222h12v4h-12zM849 226h4v4h-4zM861 226h8v4h-8zM877 226h4v4h-4zM945 226h4v4h-4zM853 230h8v4h-8zM877 230h4v4h-4zM849 234h4v4h-4zM857 234h4v4h-4zM869 234h4v4h-4zM889 234h4v4h-4zM953 234h4v4h-4zM861 238h4v4h-4zM913 238h4v4h-4zM949 238h4v4h-4zM869 242h4v4h-4zM877 242h4v4h-4zM885 242h4v4h-4zM893 242h12v4h-12zM869 246h8v4h-8zM885 246h4v4h-4zM925 246h4v4h-4zM873 250h4v4h-4zM885 250h4v4h-4zM893 250h4v4h-4zM913 250h4v4h-4zM929 250h4v4h-4zM941 250h4v4h-4zM877 254h8v4h-8zM909 254h8v4h-8zM921 254h8v4h-8zM901 258h8v4h-8zM905 262h4v4h-4zM913 262h4v4h-4zM929 262h4v4h-4zM909 266h4v4h-4zM921 266h12v4h-12zM917 270h4v4h-4zM933 270h4v4h-4zM893 274h4v4h-4zM917 274h8v4h-8zM929 274h4v4h-4zM917 278h8v4h-8zM933 278h8v4h-8zM921 282h16v4h-16zM941 282h8v4h-8zM885 286h4v4h-4zM897 286h4v4h-4zM921 286h4v4h-4zM945 286h4v4h-4zM953 286h12v4h-12zM889 290h4v4h-4zM905 290h8v4h-8zM925 290h8v4h-8zM941 290h4v4h-4zM949 290h8v4h-8zM961 290h4v4h-4zM909 294h24v4h-24zM961 294h8v4h-8zM897 298h12v4h-12zM937 298h16v4h-16zM961 298h4v4h-4zM881 302h4v4h-4zM897 302h4v4h-4zM921 302h4v4h-4zM937 302h12v4h-12zM957 302h4v4h-4zM885 306h24v4h-24zM937 306h12v4h-12zM961 306h4v4h-4zM969 306h4v4h-4zM897 310h16v4h-16zM933 310h12v4h-12zM953 310h4v4h-4zM905 314h4v4h-4zM913 314h4v4h-4zM937 314h4v4h-4zM949 314h4v4h-4zM965 314h4v4h-4zM905 318h4v4h-4zM913 318h4v4h-4zM933 318h4v4h-4zM961 318h8v4h-8zM905 322h4v4h-4zM913 322h4v4h-4zM925 322h4v4h-4zM937 322h12v4h-12zM953 322h4v4h-4zM961 322h8v4h-8zM909 326h8v4h-8zM921 326h8v4h-8zM945 326h4v4h-4zM905 330h4v4h-4zM921 330h8v4h-8zM949 330h8v4h-8zM969 330h4v4h-4zM929 334h8v4h-8zM945 334h12v4h-12zM973 334h4v4h-4zM925 338h8v4h-8zM949 338h8v4h-8zM965 338h8v4h-8zM929 342h4v4h-4zM957 342h4v4h-4zM985 342h8v4h-8zM1037 342h8v4h-8zM925 346h4v4h-4zM981 346h4v4h-4zM989 346h4v4h-4zM965 350h4v4h-4zM981 350h4v4h-4zM989 350h4v4h-4zM1029 350h4v4h-4zM981 354h12v4h-12zM997 354h4v4h-4zM977 358h12v4h-12zM997 358h4v4h-4zM1009 358h4v4h-4zM1029 358h4v4h-4zM977 362h4v4h-4zM997 362h4v4h-4zM1025 362h4v4h-4zM1049 362h4v4h-4zM977 366h4v4h-4zM989 366h4v4h-4zM993 370h12v4h-12zM1029 370h4v4h-4zM1037 370h8v4h-8zM1021 374h4v4h-4zM1041 374h4v4h-4zM965 378h4v4h-4zM1009 378h8v4h-8zM1029 378h4v4h-4zM1057 378h4v4h-4zM1025 382h4v4h-4zM1045 382h4v4h-4zM1013 386h4v4h-4zM1025 386h4v4h-4zM1037 386h4v4h-4zM1045 386h4v4h-4zM1053 386h4v4h-4zM1089 386h4v4h-4zM1017 390h4v4h-4zM1029 390h4v4h-4zM1073 390h4v4h-4zM1085 390h4v4h-4zM1097 390h4v4h-4zM1009 394h4v4h-4zM1025 394h4v4h-4zM1033 394h8v4h-8zM1045 394h4v4h-4zM1081 394h4v4h-4zM1041 398h12v4h-12zM1057 398h4v4h-4zM1093 398h4v4h-4zM969 402h4v4h-4zM1021 402h4v4h-4zM1037 402h4v4h-4zM1049 402h4v4h-4zM1057 402h4v4h-4zM1069 402h4v4h-4zM1077 402h4v4h-4zM1089 402h8v4h-8zM1101 402h4v4h-4zM969 406h4v1h-4zM1021 406h4v1h-4zM1037 406h4v1h-4zM1045 406h4v1h-4zM1081 406h4v1h-4zM1093 406h4v1h-4zM1101 406h4v1h-4z"/>
<path fill="#c7c7ff" d="M857 38h4v4h-4zM845 50h4v4h-4zM853 58h4v4h-4zM865 82h12v4h-12zM861 86h4v4h-4zM869 86h4v4h-4zM865 90h4v4h-4zM865 94h4v4h-4zM861 98h4v4h-4zM857 102h12v4h-12zM845 106h8v4h-8zM865 106h4v4h-4zM849 122h4v4h-4zM885 134h4v4h-4zM865 142h4v4h-4zM889 146h4v4h-4zM845 186h4v4h-4zM889 186h4v4h-4zM865 190h4v4h-4zM869 194h4v4h-4zM849 198h4v4h-4zM881 198h8v4h-8zM845 202h8v4h-8zM901 202h4v4h-4zM857 206h8v4h-8zM905 206h8v4h-8zM853 210h4v4h-4zM889 210h4v4h-4zM873 214h16v4h-16zM845 218h8v4h-8zM857 218h4v4h-4zM885 218h4v4h-4zM893 218h4v4h-4zM853 222h12v4h-12zM873 222h4v4h-4zM881 222h4v4h-4zM853 226h4v4h-4zM873 226h4v4h-4zM885 226h12v4h-12zM845 230h8v4h-8zM861 230h4v4h-4zM881 230h4v4h-4zM889 230h4v4h-4zM953 230h4v4h-4zM845 234h4v4h-4zM865 234h4v4h-4zM845 238h12v4h-12zM865 238h4v4h-4zM893 238h8v4h-8zM937 238h4v4h-4zM845 242h4v4h-4zM845 246h4v4h-4zM897 246h8v4h-8zM917 246h4v4h-4zM929 246h4v4h-4zM889 250h4v4h-4zM901 250h4v4h-4zM909 250h4v4h-4zM933 250h4v4h-4zM897 254h8v4h-8zM933 254h8v4h-8zM897 258h4v4h-4zM929 258h4v4h-4zM901 262h4v4h-4zM917 262h4v4h-4zM897 266h4v4h-4zM897 270h8v4h-8zM953 270h4v4h-4zM897 274h8v4h-8zM909 274h8v4h-8zM925 274h4v4h-4zM937 274h4v4h-4zM969 274h8v4h-8zM893 278h4v4h-4zM901 278h16v4h-16zM941 278h8v4h-8zM957 278h4v4h-4zM893 282h4v4h-4zM937 282h4v4h-4zM949 282h4v4h-4zM969 282h4v4h-4zM893 286h4v4h-4zM909 286h4v4h-4zM929 286h4v4h-4zM965 286h8v4h-8zM917 290h8v4h-8zM957 290h4v4h-4zM893 294h8v4h-8zM941 294h4v4h-4zM953 294h4v4h-4zM969 294h4v4h-4zM893 298h4v4h-4zM909 298h8v4h-8zM921 298h8v4h-8zM933 298h4v4h-4zM953 298h8v4h-8zM965 298h4v4h-4zM893 302h4v4h-4zM905 302h8v4h-8zM917 302h4v4h-4zM965 302h8v4h-8zM909 306h4v4h-4zM921 306h16v4h-16zM953 306h4v4h-4zM965 306h4v4h-4zM913 310h4v4h-4zM921 310h12v4h-12zM957 310h12v4h-12zM957 314h4v4h-4zM917 318h8v4h-8zM941 318h4v4h-4zM969 318h4v4h-4zM917 322h8v4h-8zM905 326h4v4h-4zM917 326h4v4h-4zM953 326h16v4h-16zM957 330h8v4h-8zM981 330h4v4h-4zM921 334h8v4h-8zM985 334h4v4h-4zM997 334h4v4h-4zM1041 334h4v4h-4zM933 338h4v4h-4zM973 338h12v4h-12zM993 342h8v4h-8zM985 346h4v4h-4zM993 346h4v4h-4zM1017 346h4v4h-4zM1037 346h4v4h-4zM985 350h4v4h-4zM993 350h8v4h-8zM1037 350h4v4h-4zM993 354h4v4h-4zM1001 354h4v4h-4zM1029 354h4v4h-4zM993 358h4v4h-4zM1005 358h4v4h-4zM1013 358h4v4h-4zM1021 358h4v4h-4zM985 362h12v4h-12zM1021 362h4v4h-4zM1029 362h4v4h-4zM993 366h8v4h-8zM1005 366h4v4h-4zM1021 370h4v4h-4zM1033 370h4v4h-4zM1017 374h4v4h-4zM1025 374h4v4h-4zM1021 378h4v4h-4zM1017 382h8v4h-8zM1061 386h4v4h-4zM1081 386h4v4h-4zM1025 390h4v4h-4zM1041 390h4v4h-4zM1049 390h8v4h-8zM1089 390h4v4h-4zM1005 394h4v4h-4zM1041 394h4v4h-4zM1049 394h8v4h-8zM1073 394h4v4h-4zM1089 394h4v4h-4zM1017 398h4v4h-4zM1061 398h4v4h-4zM1089 398h4v4h-4zM1097 398h8v4h-8zM1045 402h4v4h-4zM1053 402h4v4h-4zM1065 402h4v4h-4zM1077 406h4v1h-4zM1105 406h4v1h-4z"/>
<path fill="#bfbfff" d="M861 38h4v4h-4zM857 42h8v4h-8zM857 46h8v4h-8zM845 54h4v4h-4zM853 54h8v4h-8zM889 66h8v4h-8zM893 70h4v4h-4zM861 78h8v4h-8zM881 86h4v4h-4zM869 90h4v4h-4zM857 94h4v4h-4zM869 94h8v4h-8zM857 98h4v4h-4zM865 98h4v4h-4zM885 102h4v4h-4zM853 106h4v4h-4zM861 106h4v4h-4zM877 106h4v4h-4zM849 110h4v4h-4zM861 110h4v4h-4zM877 110h8v4h-8zM849 118h4v4h-4zM881 118h4v4h-4zM869 122h4v4h-4zM853 126h4v4h-4zM877 126h4v4h-4zM889 126h4v4h-4zM889 130h4v4h-4zM869 134h4v4h-4zM877 134h8v4h-8zM889 134h4v4h-4zM865 138h8v4h-8zM885 138h4v4h-4zM869 142h4v4h-4zM881 142h8v4h-8zM869 146h8v4h-8zM885 146h4v4h-4zM853 150h4v4h-4zM865 150h4v4h-4zM853 154h4v4h-4zM873 154h4v4h-4zM881 154h4v4h-4zM853 158h4v4h-4zM849 162h8v4h-8zM845 166h4v4h-4zM869 170h4v4h-4zM865 174h8v4h-8zM881 182h4v4h-4zM901 182h8v4h-8zM849 186h4v4h-4zM845 190h12v4h-12zM861 190h4v4h-4zM869 190h4v4h-4zM885 190h4v4h-4zM857 194h8v4h-8zM885 194h8v4h-8zM909 194h4v4h-4zM853 198h4v4h-4zM865 198h12v4h-12zM889 198h12v4h-12zM909 198h4v4h-4zM877 202h4v4h-4zM909 202h4v4h-4zM849 206h4v4h-4zM873 206h4v4h-4zM849 210h4v4h-4zM857 210h4v4h-4zM873 210h4v4h-4zM857 214h12v4h-12zM889 214h4v4h-4zM853 218h4v4h-4zM861 218h8v4h-8zM873 218h4v4h-4zM865 222h8v4h-8zM877 222h4v4h-4zM845 226h4v4h-4zM881 226h4v4h-4zM897 226h4v4h-4zM953 226h4v4h-4zM865 230h4v4h-4zM897 230h4v4h-4zM933 230h4v4h-4zM941 230h4v4h-4zM861 234h4v4h-4zM893 234h4v4h-4zM905 234h8v4h-8zM921 234h4v4h-4zM869 238h4v4h-4zM889 238h4v4h-4zM901 238h4v4h-4zM909 238h4v4h-4zM849 242h8v4h-8zM905 242h4v4h-4zM913 242h4v4h-4zM925 242h8v4h-8zM937 242h4v4h-4zM889 246h4v4h-4zM909 246h4v4h-4zM921 246h4v4h-4zM925 250h4v4h-4zM945 250h4v4h-4zM945 254h4v4h-4zM909 258h4v4h-4zM925 258h4v4h-4zM941 258h4v4h-4zM933 262h4v4h-4zM901 266h4v4h-4zM937 266h8v4h-8zM913 270h4v4h-4zM945 270h8v4h-8zM973 270h4v4h-4zM905 274h4v4h-4zM945 274h8v4h-8zM977 274h4v4h-4zM897 278h4v4h-4zM929 278h4v4h-4zM977 278h8v4h-8zM889 282h4v4h-4zM897 282h8v4h-8zM977 282h4v4h-4zM889 286h4v4h-4zM905 286h4v4h-4zM913 286h4v4h-4zM949 286h4v4h-4zM893 290h8v4h-8zM913 290h4v4h-4zM965 290h4v4h-4zM957 294h4v4h-4zM973 294h8v4h-8zM917 298h4v4h-4zM929 298h4v4h-4zM969 298h4v4h-4zM981 298h4v4h-4zM913 302h4v4h-4zM929 302h8v4h-8zM913 306h8v4h-8zM917 310h4v4h-4zM917 314h4v4h-4zM925 314h12v4h-12zM925 318h8v4h-8zM937 318h4v4h-4zM957 322h4v4h-4zM969 322h8v4h-8zM997 330h4v4h-4zM977 334h4v4h-4zM985 338h4v4h-4zM993 338h12v4h-12zM1009 338h4v4h-4zM1021 338h4v4h-4zM1037 338h4v4h-4zM1001 342h4v4h-4zM1009 342h4v4h-4zM1025 342h4v4h-4zM1033 342h4v4h-4zM1001 346h4v4h-4zM1041 346h4v4h-4zM1005 350h12v4h-12zM1025 350h4v4h-4zM1041 350h4v4h-4zM1017 354h4v4h-4zM1025 358h4v4h-4zM1041 358h4v4h-4zM1001 362h4v4h-4zM1009 362h4v4h-4zM1017 362h4v4h-4zM1033 362h8v4h-8zM1045 362h4v4h-4zM1017 366h4v4h-4zM1033 366h8v4h-8zM1049 366h4v4h-4zM1005 370h8v4h-8zM1045 370h8v4h-8zM1009 374h8v4h-8zM1049 374h8v4h-8zM1041 378h8v4h-8zM1041 382h4v4h-4zM1061 382h4v4h-4zM1089 382h4v4h-4zM1021 386h4v4h-4zM1041 386h4v4h-4zM1057 386h4v4h-4zM1073 386h4v4h-4zM1057 390h8v4h-8zM1081 390h4v4h-4zM1057 394h4v4h-4zM1065 394h4v4h-4zM1077 394h4v4h-4zM1053 398h4v4h-4zM1065 398h8v4h-8zM1105 402h4v4h-4zM1109 406h4v1h-4z"/>
<path fill="#b7b7ff" d="M865 38h4v4h-4zM853 46h4v4h-4zM865 46h4v4h-4zM853 50h8v4h-8zM865 58h4v4h-4zM853 62h4v4h-4zM853 66h4v4h-4zM857 70h4v4h-4zM865 70h4v4h-4zM889 70h4v4h-4zM853 74h4v4h-4zM865 74h4v4h-4zM869 78h4v4h-4zM861 82h4v4h-4zM865 86h4v4h-4zM857 90h8v4h-8zM885 90h4v4h-4zM861 94h4v4h-4zM881 94h4v4h-4zM857 106h4v4h-4zM869 106h4v4h-4zM845 110h4v4h-4zM853 110h8v4h-8zM845 114h8v4h-8zM857 114h4v4h-4zM873 114h8v4h-8zM853 118h4v4h-4zM869 118h4v4h-4zM885 118h4v4h-4zM853 122h4v4h-4zM865 122h4v4h-4zM885 122h8v4h-8zM869 126h8v4h-8zM853 130h8v4h-8zM869 130h4v4h-4zM877 130h4v4h-4zM865 134h4v4h-4zM881 138h4v4h-4zM873 142h8v4h-8zM857 146h4v4h-4zM865 146h4v4h-4zM877 146h8v4h-8zM845 150h4v4h-4zM857 150h8v4h-8zM893 150h4v4h-4zM845 154h8v4h-8zM857 154h4v4h-4zM877 154h4v4h-4zM873 158h12v4h-12zM865 162h8v4h-8zM877 162h4v4h-4zM853 166h8v4h-8zM873 166h4v4h-4zM845 170h8v4h-8zM865 170h4v4h-4zM873 170h4v4h-4zM845 174h4v4h-4zM857 174h4v4h-4zM873 174h4v4h-4zM869 178h12v4h-12zM889 178h4v4h-4zM877 182h4v4h-4zM889 182h4v4h-4zM881 190h4v4h-4zM853 194h4v4h-4zM865 194h4v4h-4zM873 194h8v4h-8zM893 194h4v4h-4zM857 198h4v4h-4zM857 202h4v4h-4zM873 202h4v4h-4zM885 202h4v4h-4zM865 206h8v4h-8zM877 206h4v4h-4zM885 206h8v4h-8zM845 210h4v4h-4zM865 210h8v4h-8zM893 210h4v4h-4zM869 214h4v4h-4zM893 214h8v4h-8zM869 218h4v4h-4zM877 218h8v4h-8zM901 218h4v4h-4zM949 222h4v4h-4zM893 230h4v4h-4zM901 230h4v4h-4zM921 230h4v4h-4zM937 230h4v4h-4zM957 230h4v4h-4zM853 234h4v4h-4zM897 234h4v4h-4zM913 234h8v4h-8zM929 234h8v4h-8zM941 234h4v4h-4zM921 238h4v4h-4zM929 238h8v4h-8zM909 242h4v4h-4zM921 242h4v4h-4zM933 242h4v4h-4zM941 242h8v4h-8zM893 246h4v4h-4zM905 246h4v4h-4zM913 246h4v4h-4zM941 246h12v4h-12zM881 250h4v4h-4zM905 250h4v4h-4zM937 250h4v4h-4zM949 250h4v4h-4zM929 254h4v4h-4zM897 262h4v4h-4zM937 262h4v4h-4zM945 262h4v4h-4zM953 266h8v4h-8zM973 266h4v4h-4zM905 270h4v4h-4zM953 274h4v4h-4zM965 274h4v4h-4zM925 278h4v4h-4zM949 278h4v4h-4zM953 282h4v4h-4zM961 282h4v4h-4zM973 282h4v4h-4zM969 290h4v4h-4zM973 302h4v4h-4zM985 302h4v4h-4zM973 306h4v4h-4zM969 310h4v4h-4zM977 310h4v4h-4zM921 314h4v4h-4zM969 314h4v4h-4zM977 314h4v4h-4zM957 318h4v4h-4zM969 326h8v4h-8zM981 326h8v4h-8zM997 326h4v4h-4zM1005 326h4v4h-4zM973 330h8v4h-8zM985 330h4v4h-4zM1009 330h4v4h-4zM989 334h4v4h-4zM1001 334h4v4h-4zM1009 334h4v4h-4zM1037 334h4v4h-4zM989 338h4v4h-4zM1005 338h4v4h-4zM1045 338h4v4h-4zM1005 342h4v4h-4zM1017 342h4v4h-4zM1009 346h8v4h-8zM1001 350h4v4h-4zM1017 350h8v4h-8zM1005 354h4v4h-4zM1021 354h8v4h-8zM1037 354h12v4h-12zM1001 358h4v4h-4zM1017 358h4v4h-4zM1037 358h4v4h-4zM1041 362h4v4h-4zM1001 366h4v4h-4zM1009 366h4v4h-4zM1021 366h4v4h-4zM1041 366h8v4h-8zM1037 374h4v4h-4zM1045 374h4v4h-4zM1037 378h4v4h-4zM1061 378h4v4h-4zM1093 378h8v4h-8zM1037 382h4v4h-4zM1069 386h4v4h-4zM1085 386h4v4h-4zM1069 390h4v4h-4zM1077 390h4v4h-4zM1061 394h4v4h-4zM1069 394h4v4h-4zM1085 394h4v4h-4zM1097 394h8v4h-8zM1061 402h4v4h-4zM1109 402h4v4h-4zM1061 406h4v1h-4z"/>
<path fill="#afafff" d="M897 38h4v4h-4zM865 42h4v4h-4zM861 50h4v4h-4zM861 54h4v4h-4zM857 58h4v4h-4zM869 58h4v4h-4zM857 66h16v4h-16zM853 70h4v4h-4zM861 70h4v4h-4zM885 70h4v4h-4zM861 74h4v4h-4zM893 74h4v4h-4zM853 78h4v4h-4zM885 86h4v4h-4zM869 98h4v4h-4zM877 98h4v4h-4zM869 102h4v4h-4zM881 106h4v4h-4zM889 110h4v4h-4zM853 114h4v4h-4zM869 114h4v4h-4zM885 114h4v4h-4zM845 118h4v4h-4zM865 118h4v4h-4zM857 122h4v4h-4zM873 122h12v4h-12zM857 126h4v4h-4zM1181 126h4v4h-4zM865 130h4v4h-4zM893 130h4v4h-4zM853 134h4v4h-4zM861 134h4v4h-4zM873 134h4v4h-4zM853 138h12v4h-12zM873 138h8v4h-8zM889 138h4v4h-4zM853 142h12v4h-12zM889 142h4v4h-4zM853 146h4v4h-4zM861 146h4v4h-4zM849 150h4v4h-4zM869 150h12v4h-12zM885 150h8v4h-8zM861 154h4v4h-4zM885 154h12v4h-12zM845 158h8v4h-8zM857 158h12v4h-12zM889 158h4v4h-4zM845 162h4v4h-4zM861 162h4v4h-4zM873 162h4v4h-4zM849 166h4v4h-4zM861 166h8v4h-8zM881 166h4v4h-4zM897 166h4v4h-4zM877 170h4v4h-4zM885 170h4v4h-4zM849 174h8v4h-8zM877 174h8v4h-8zM897 174h4v4h-4zM845 178h4v4h-4zM865 178h4v4h-4zM881 178h8v4h-8zM857 182h12v4h-12zM857 186h8v4h-8zM869 186h8v4h-8zM881 186h8v4h-8zM857 190h4v4h-4zM873 190h8v4h-8zM909 190h4v4h-4zM861 198h4v4h-4zM853 202h4v4h-4zM893 202h8v4h-8zM893 206h4v4h-4zM901 206h4v4h-4zM861 210h4v4h-4zM897 210h8v4h-8zM901 214h4v4h-4zM897 218h4v4h-4zM905 222h4v4h-4zM945 222h4v4h-4zM953 222h4v4h-4zM901 226h16v4h-16zM957 226h8v4h-8zM905 230h12v4h-12zM929 230h4v4h-4zM901 234h4v4h-4zM925 234h4v4h-4zM905 238h4v4h-4zM917 238h4v4h-4zM941 238h4v4h-4zM953 238h4v4h-4zM917 242h4v4h-4zM933 246h4v4h-4zM877 250h4v4h-4zM941 254h4v4h-4zM945 258h4v4h-4zM941 262h4v4h-4zM945 266h8v4h-8zM977 270h4v4h-4zM953 278h4v4h-4zM961 278h4v4h-4zM957 282h4v4h-4zM965 282h4v4h-4zM981 282h4v4h-4zM973 286h4v4h-4zM973 290h8v4h-8zM981 294h4v4h-4zM973 298h4v4h-4zM977 306h4v4h-4zM985 306h4v4h-4zM973 314h4v4h-4zM973 318h4v4h-4zM985 318h4v4h-4zM977 322h16v4h-16zM1005 322h4v4h-4zM977 326h4v4h-4zM989 326h4v4h-4zM989 330h8v4h-8zM1001 330h4v4h-4zM993 334h4v4h-4zM1033 334h4v4h-4zM1013 338h4v4h-4zM1033 338h4v4h-4zM1013 342h4v4h-4zM1029 342h4v4h-4zM1021 346h16v4h-16zM1013 354h4v4h-4zM1033 354h4v4h-4zM1049 354h4v4h-4zM1033 358h4v4h-4zM1045 358h8v4h-8zM1013 362h4v4h-4zM1013 366h4v4h-4zM1013 370h8v4h-8zM1085 374h4v4h-4zM1085 378h4v4h-4zM1081 382h8v4h-8zM1077 386h4v4h-4zM1065 390h4v4h-4zM1101 390h8v4h-8zM1105 394h4v4h-4zM1105 398h4v4h-4zM1113 398h4v4h-4z"/>
<path fill="#a7a7ff" d="M869 38h4v4h-4zM865 54h4v4h-4zM861 58h4v4h-4zM857 62h8v4h-8zM885 66h4v4h-4zM869 70h8v4h-8zM857 74h4v4h-4zM897 74h8v4h-8zM857 78h4v4h-4zM877 78h4v4h-4zM897 78h4v4h-4zM881 82h4v4h-4zM889 86h4v4h-4zM1185 86h4v4h-4zM873 98h4v4h-4zM885 98h4v4h-4zM877 102h8v4h-8zM889 106h8v4h-8zM1213 106h8v4h-8zM865 110h12v4h-12zM861 114h8v4h-8zM881 114h4v4h-4zM1201 114h4v4h-4zM857 118h8v4h-8zM873 118h8v4h-8zM1213 118h4v4h-4zM861 122h4v4h-4zM893 122h4v4h-4zM865 126h4v4h-4zM1165 126h4v4h-4zM861 130h4v4h-4zM873 130h4v4h-4zM1153 130h4v4h-4zM1181 130h4v4h-4zM857 134h4v4h-4zM893 134h4v4h-4zM1205 134h4v4h-4zM849 146h4v4h-4zM893 146h4v4h-4zM865 154h8v4h-8zM897 154h4v4h-4zM869 158h4v4h-4zM857 162h4v4h-4zM885 162h8v4h-8zM869 166h4v4h-4zM877 166h4v4h-4zM853 170h4v4h-4zM861 170h4v4h-4zM881 170h4v4h-4zM889 174h4v4h-4zM849 178h4v4h-4zM857 178h4v4h-4zM893 178h4v4h-4zM845 182h4v4h-4zM853 182h4v4h-4zM873 182h4v4h-4zM885 182h4v4h-4zM893 182h8v4h-8zM853 186h4v4h-4zM865 186h4v4h-4zM877 186h4v4h-4zM881 194h4v4h-4zM889 202h4v4h-4zM881 206h4v4h-4zM913 206h4v4h-4zM905 210h8v4h-8zM917 214h4v4h-4zM905 218h4v4h-4zM953 218h4v4h-4zM901 222h4v4h-4zM917 226h4v4h-4zM941 226h4v4h-4zM925 230h4v4h-4zM925 238h4v4h-4zM953 250h4v4h-4zM949 258h4v4h-4zM949 262h4v4h-4zM961 262h4v4h-4zM961 274h4v4h-4zM965 278h8v4h-8zM977 302h8v4h-8zM973 310h4v4h-4zM985 314h4v4h-4zM981 318h4v4h-4zM989 318h4v4h-4zM993 322h4v4h-4zM993 326h4v4h-4zM1001 326h4v4h-4zM1037 330h4v4h-4zM1005 334h4v4h-4zM1017 334h4v4h-4zM1021 342h4v4h-4zM1045 342h4v4h-4zM1049 350h4v4h-4zM1053 370h4v4h-4zM1057 374h4v4h-4zM1081 374h4v4h-4zM1101 378h4v4h-4zM1065 382h4v4h-4zM1101 386h4v4h-4zM1109 394h8v4h-8zM1109 398h4v4h-4zM1113 402h4v4h-4zM1113 406h4v1h-4z"/>
<path fill="#9f9fff" d="M873 38h8v4h-8zM865 50h12v4h-12zM869 54h8v4h-8zM873 58h4v4h-4zM865 62h4v4h-4zM877 62h4v4h-4zM873 66h8v4h-8zM877 70h4v4h-4zM897 70h4v4h-4zM869 74h24v4h-24zM873 78h4v4h-4zM881 78h8v4h-8zM885 82h4v4h-4zM893 86h4v4h-4zM1181 86h4v4h-4zM889 90h4v4h-4zM901 90h4v4h-4zM885 94h4v4h-4zM901 94h4v4h-4zM1157 94h4v4h-4zM881 98h4v4h-4zM873 102h4v4h-4zM889 102h4v4h-4zM897 102h4v4h-4zM873 106h4v4h-4zM897 106h4v4h-4zM1205 106h4v4h-4zM885 110h4v4h-4zM1145 110h4v4h-4zM1201 110h4v4h-4zM1209 110h8v4h-8zM889 114h4v4h-4zM1205 114h4v4h-4zM1229 114h4v4h-4zM889 118h4v4h-4zM1229 118h4v4h-4zM861 126h4v4h-4zM1185 126h4v4h-4zM1193 126h4v4h-4zM897 130h4v4h-4zM1161 130h4v4h-4zM1173 130h8v4h-8zM1201 130h4v4h-4zM893 142h4v4h-4zM1145 146h4v4h-4zM885 158h4v4h-4zM893 158h4v4h-4zM881 162h4v4h-4zM885 166h4v4h-4zM889 170h4v4h-4zM861 174h4v4h-4zM885 174h4v4h-4zM849 182h4v4h-4zM869 182h4v4h-4zM909 186h4v4h-4zM913 202h4v4h-4zM897 206h4v4h-4zM949 210h4v4h-4zM913 214h4v4h-4zM921 214h4v4h-4zM945 214h8v4h-8zM925 218h4v4h-4zM933 218h4v4h-4zM949 218h4v4h-4zM909 222h4v4h-4zM925 222h12v4h-12zM925 226h4v4h-4zM937 234h4v4h-4zM949 242h8v4h-8zM953 246h4v4h-4zM949 254h4v4h-4zM953 258h4v4h-4zM957 270h8v4h-8zM957 274h4v4h-4zM981 274h4v4h-4zM973 278h4v4h-4zM981 286h4v4h-4zM989 286h4v4h-4zM981 290h4v4h-4zM977 298h4v4h-4zM985 298h4v4h-4zM989 302h4v4h-4zM981 306h4v4h-4zM985 310h4v4h-4zM981 314h4v4h-4zM1005 318h8v4h-8zM997 322h8v4h-8zM1009 326h4v4h-4zM1005 330h4v4h-4zM1041 330h4v4h-4zM1017 338h4v4h-4zM1025 338h8v4h-8zM1045 346h4v4h-4zM1045 350h4v4h-4zM1065 374h4v4h-4zM1089 374h4v4h-4zM1065 378h4v4h-4zM1089 378h4v4h-4zM1069 382h4v4h-4zM1101 382h8v4h-8zM1065 386h4v4h-4zM1105 386h4v4h-4zM1109 390h8v4h-8z"/>
<path fill="#9797ff" d="M869 42h4v4h-4zM869 46h4v4h-4zM877 46h4v4h-4zM881 62h4v4h-4zM889 62h8v4h-8zM897 66h4v4h-4zM889 82h4v4h-4zM897 82h4v4h-4zM897 90h4v4h-4zM1181 90h4v4h-4zM897 94h4v4h-4zM1157 98h4v4h-4zM893 102h4v4h-4zM885 106h4v4h-4zM1157 106h4v4h-4zM1197 110h4v4h-4zM1217 110h4v4h-4zM897 114h8v4h-8zM1193 114h8v4h-8zM1209 114h4v4h-4zM893 118h4v4h-4zM1197 118h4v4h-4zM897 122h4v4h-4zM1169 122h4v4h-4zM1193 122h4v4h-4zM893 126h4v4h-4zM1169 126h12v4h-12zM1197 126h8v4h-8zM1145 130h4v4h-4zM1205 130h4v4h-4zM1217 130h4v4h-4zM1209 134h4v4h-4zM893 138h4v4h-4zM893 162h4v4h-4zM889 166h8v4h-8zM857 170h4v4h-4zM893 174h4v4h-4zM853 178h4v4h-4zM861 178h4v4h-4zM897 178h4v4h-4zM913 198h4v4h-4zM913 210h4v4h-4zM921 210h8v4h-8zM925 214h4v4h-4zM909 218h4v4h-4zM917 218h4v4h-4zM929 218h4v4h-4zM937 218h4v4h-4zM921 226h4v4h-4zM929 226h4v4h-4zM917 230h4v4h-4zM957 234h4v4h-4zM961 238h4v4h-4zM957 246h8v4h-8zM957 250h8v4h-8zM953 254h4v4h-4zM969 254h4v4h-4zM961 258h4v4h-4zM953 262h8v4h-8zM977 266h4v4h-4zM969 270h4v4h-4zM985 278h4v4h-4zM985 282h4v4h-4zM977 286h4v4h-4zM985 286h4v4h-4zM985 290h4v4h-4zM985 294h4v4h-4zM981 310h4v4h-4zM1013 310h4v4h-4zM989 314h4v4h-4zM1001 314h16v4h-16zM977 318h4v4h-4zM993 318h4v4h-4zM1001 318h4v4h-4zM1017 326h4v4h-4zM1017 330h4v4h-4zM1033 330h4v4h-4zM1021 334h4v4h-4zM1045 334h4v4h-4zM1049 346h4v4h-4zM1053 354h4v4h-4zM1057 362h4v4h-4zM1053 366h4v4h-4zM1057 370h4v4h-4zM1081 370h4v4h-4zM1061 374h4v4h-4zM1073 374h4v4h-4zM1081 378h4v4h-4zM1073 382h4v4h-4zM1117 394h4v4h-4z"/>
<path fill="#8f8fff" d="M881 38h4v4h-4zM873 42h8v4h-8zM873 46h4v4h-4zM885 46h4v4h-4zM877 50h4v4h-4zM885 50h4v4h-4zM873 62h4v4h-4zM881 66h4v4h-4zM881 70h4v4h-4zM889 78h8v4h-8zM901 78h4v4h-4zM893 82h4v4h-4zM893 90h4v4h-4zM1173 90h8v4h-8zM1185 90h4v4h-4zM889 94h4v4h-4zM901 98h8v4h-8zM1205 98h8v4h-8zM905 102h4v4h-4zM1201 102h4v4h-4zM1209 102h4v4h-4zM1153 106h4v4h-4zM1201 106h4v4h-4zM1209 106h4v4h-4zM893 110h4v4h-4zM1205 110h4v4h-4zM893 114h4v4h-4zM1213 114h4v4h-4zM1225 114h4v4h-4zM897 118h4v4h-4zM1153 118h4v4h-4zM1185 118h4v4h-4zM1209 118h4v4h-4zM1217 118h4v4h-4zM1181 122h4v4h-4zM897 126h4v4h-4zM1161 126h4v4h-4zM1157 130h4v4h-4zM1165 130h4v4h-4zM1185 130h4v4h-4zM1197 130h4v4h-4zM1213 130h4v4h-4zM897 134h4v4h-4zM897 150h4v4h-4zM897 158h4v4h-4zM901 178h4v4h-4zM921 198h4v4h-4zM929 206h4v4h-4zM917 210h4v4h-4zM945 210h4v4h-4zM953 210h4v4h-4zM905 214h4v4h-4zM929 214h4v4h-4zM941 214h4v4h-4zM953 214h4v4h-4zM913 218h4v4h-4zM921 218h4v4h-4zM941 218h8v4h-8zM957 218h4v4h-4zM917 222h8v4h-8zM937 222h8v4h-8zM957 222h4v4h-4zM933 226h4v4h-4zM961 230h4v4h-4zM957 238h4v4h-4zM957 242h4v4h-4zM957 258h4v4h-4zM961 266h4v4h-4zM969 266h4v4h-4zM989 306h4v4h-4zM1009 310h4v4h-4zM993 314h4v4h-4zM1021 322h4v4h-4zM1029 322h4v4h-4zM1013 326h4v4h-4zM1013 334h4v4h-4zM1033 350h4v4h-4zM1053 358h4v4h-4zM1053 362h4v4h-4zM1065 370h4v4h-4zM1093 374h4v4h-4zM1077 378h4v4h-4zM1109 382h4v4h-4zM1113 386h4v4h-4zM1117 390h4v4h-4zM1117 398h4v4h-4zM1117 406h4v1h-4z"/>
<path fill="#8787ff" d="M889 38h8v4h-8zM881 50h4v4h-4zM885 54h4v4h-4zM877 58h4v4h-4zM869 62h4v4h-4zM885 62h4v4h-4zM901 82h4v4h-4zM897 86h8v4h-8zM1173 86h8v4h-8zM1169 90h4v4h-4zM1189 90h8v4h-8zM893 94h4v4h-4zM1177 94h4v4h-4zM897 98h4v4h-4zM1201 98h4v4h-4zM1153 102h4v4h-4zM1165 102h4v4h-4zM1197 102h4v4h-4zM901 106h4v4h-4zM897 110h4v4h-4zM905 110h4v4h-4zM1153 114h4v4h-4zM1217 114h4v4h-4zM901 118h4v4h-4zM1161 118h4v4h-4zM1193 118h4v4h-4zM1201 118h8v4h-8zM1221 118h4v4h-4zM1153 122h4v4h-4zM1197 122h4v4h-4zM1209 122h4v4h-4zM1217 122h4v4h-4zM1189 126h4v4h-4zM1205 126h12v4h-12zM1169 130h4v4h-4zM1189 130h4v4h-4zM1209 130h4v4h-4zM897 138h4v4h-4zM893 170h4v4h-4zM917 198h4v4h-4zM917 202h4v4h-4zM929 210h4v4h-4zM909 214h4v4h-4zM965 214h4v4h-4zM913 222h4v4h-4zM965 226h4v4h-4zM965 250h4v4h-4zM957 254h4v4h-4zM965 258h4v4h-4zM973 262h4v4h-4zM965 266h4v4h-4zM965 270h4v4h-4zM989 282h4v4h-4zM989 290h4v4h-4zM993 294h8v4h-8zM989 298h4v4h-4zM993 302h4v4h-4zM989 310h4v4h-4zM997 314h4v4h-4zM997 318h4v4h-4zM1009 322h4v4h-4zM1025 322h4v4h-4zM1025 326h4v4h-4zM1037 326h4v4h-4zM1013 330h4v4h-4zM1021 330h4v4h-4zM1025 334h8v4h-8zM1053 346h4v4h-4zM1057 366h4v4h-4zM1061 370h4v4h-4zM1093 370h4v4h-4zM1077 374h4v4h-4zM1069 378h8v4h-8zM1077 382h4v4h-4zM1109 386h4v4h-4zM1117 402h4v4h-4z"/>
<path fill="#7f7fff" d="M885 38h4v4h-4zM897 42h4v4h-4zM881 46h4v4h-4zM893 50h4v4h-4zM877 54h8v4h-8zM889 54h4v4h-4zM885 58h12v4h-12zM905 90h4v4h-4zM905 94h4v4h-4zM1161 94h4v4h-4zM1173 94h4v4h-4zM1189 94h4v4h-4zM889 98h8v4h-8zM1153 98h4v4h-4zM1165 98h4v4h-4zM1193 98h4v4h-4zM901 102h4v4h-4zM909 102h4v4h-4zM1145 102h8v4h-8zM1169 102h8v4h-8zM1181 102h4v4h-4zM1189 102h8v4h-8zM1213 102h4v4h-4zM905 106h4v4h-4zM1145 106h8v4h-8zM1189 106h4v4h-4zM1197 106h4v4h-4zM901 110h4v4h-4zM1185 110h12v4h-12zM1221 110h4v4h-4zM1145 114h4v4h-4zM1185 114h4v4h-4zM1221 114h4v4h-4zM1157 118h4v4h-4zM1173 118h4v4h-4zM1181 118h4v4h-4zM901 122h4v4h-4zM1145 122h8v4h-8zM1157 122h12v4h-12zM1173 122h4v4h-4zM1185 122h8v4h-8zM901 126h4v4h-4zM1145 126h4v4h-4zM1153 126h4v4h-4zM901 138h4v4h-4zM897 142h4v4h-4zM897 146h4v4h-4zM1157 162h4v4h-4zM901 166h4v4h-4zM897 170h4v4h-4zM901 174h4v4h-4zM913 194h4v4h-4zM917 206h4v4h-4zM945 206h4v4h-4zM953 206h4v4h-4zM941 210h4v4h-4zM957 214h4v4h-4zM961 218h4v4h-4zM961 222h4v4h-4zM969 222h8v4h-8zM937 226h4v4h-4zM961 234h4v4h-4zM969 234h4v4h-4zM965 254h4v4h-4zM969 258h4v4h-4zM981 266h4v4h-4zM993 282h4v4h-4zM993 290h4v4h-4zM989 294h4v4h-4zM1001 294h4v4h-4zM993 306h4v4h-4zM1013 306h4v4h-4zM1001 310h4v4h-4zM1013 318h4v4h-4zM1013 322h8v4h-8zM1021 326h4v4h-4zM1029 326h4v4h-4zM1049 338h4v4h-4zM1049 342h4v4h-4zM1057 350h4v4h-4zM1065 358h4v4h-4zM1081 366h4v4h-4zM1077 370h4v4h-4zM1085 370h8v4h-8zM1101 374h4v4h-4zM1105 378h4v4h-4zM1113 382h4v4h-4z"/>
<path fill="#7777ff" d="M881 42h4v4h-4zM889 50h4v4h-4zM897 50h4v4h-4zM881 58h4v4h-4zM905 82h4v4h-4zM1177 82h4v4h-4zM905 86h4v4h-4zM1165 94h8v4h-8zM1185 94h4v4h-4zM1177 98h4v4h-4zM1197 98h4v4h-4zM1157 102h4v4h-4zM1177 102h4v4h-4zM1161 106h4v4h-4zM1185 106h4v4h-4zM1193 106h4v4h-4zM1153 110h4v4h-4zM1161 110h4v4h-4zM905 114h4v4h-4zM1145 118h4v4h-4zM1169 118h4v4h-4zM1177 118h4v4h-4zM1189 118h4v4h-4zM1177 122h4v4h-4zM1205 122h4v4h-4zM1213 122h4v4h-4zM1157 126h4v4h-4zM1217 126h4v4h-4zM901 130h4v4h-4zM901 134h4v4h-4zM1149 134h4v4h-4zM901 154h4v4h-4zM901 158h4v4h-4zM897 162h4v4h-4zM933 206h4v4h-4zM941 206h4v4h-4zM965 206h4v4h-4zM957 210h4v4h-4zM933 214h4v4h-4zM969 214h4v4h-4zM965 222h4v4h-4zM969 226h4v4h-4zM965 230h8v4h-8zM965 234h4v4h-4zM961 242h4v4h-4zM969 250h4v4h-4zM961 254h4v4h-4zM965 262h4v4h-4zM993 274h4v4h-4zM997 282h4v4h-4zM993 286h4v4h-4zM993 298h4v4h-4zM1033 322h4v4h-4zM1041 326h4v4h-4zM1025 330h4v4h-4zM1053 338h4v4h-4zM1053 350h4v4h-4zM1061 366h12v4h-12zM1077 366h4v4h-4zM1069 374h4v4h-4zM1097 374h4v4h-4zM1109 378h4v4h-4zM1121 398h4v4h-4zM1121 402h4v4h-4z"/>
<path fill="#6f6fff" d="M885 42h12v4h-12zM901 62h4v4h-4zM901 66h4v4h-4zM901 70h4v4h-4zM1153 94h4v4h-4zM1181 94h4v4h-4zM909 98h4v4h-4zM1173 98h4v4h-4zM1181 98h4v4h-4zM1189 98h4v4h-4zM1185 102h4v4h-4zM1181 106h4v4h-4zM1165 110h4v4h-4zM1181 110h4v4h-4zM1173 114h4v4h-4zM905 118h4v4h-4zM1165 118h4v4h-4zM1201 122h4v4h-4zM1221 122h4v4h-4zM905 126h4v4h-4zM1221 126h4v4h-4zM1193 130h4v4h-4zM901 142h4v4h-4zM1189 142h4v4h-4zM901 146h4v4h-4zM901 150h4v4h-4zM1173 162h4v4h-4zM901 170h4v4h-4zM905 178h4v4h-4zM909 182h4v4h-4zM913 190h4v4h-4zM917 194h4v4h-4zM925 194h4v4h-4zM921 202h4v4h-4zM929 202h4v4h-4zM925 206h4v4h-4zM937 206h4v4h-4zM949 206h4v4h-4zM961 206h4v4h-4zM961 210h8v4h-8zM961 214h4v4h-4zM965 238h8v4h-8zM965 242h4v4h-4zM973 254h4v4h-4zM973 258h4v4h-4zM969 262h4v4h-4zM981 270h4v4h-4zM985 274h4v4h-4zM997 286h4v4h-4zM997 290h8v4h-8zM1013 298h4v4h-4zM1013 302h4v4h-4zM1001 306h4v4h-4zM1009 306h4v4h-4zM993 310h8v4h-8zM1005 310h4v4h-4zM1017 314h4v4h-4zM1017 318h8v4h-8zM1029 318h4v4h-4zM1041 322h4v4h-4zM1057 346h4v4h-4zM1065 354h4v4h-4zM1061 358h4v4h-4zM1089 366h8v4h-8zM1069 370h4v4h-4zM1121 382h4v4h-4zM1121 386h4v4h-4z"/>
<path fill="#6767ff" d="M889 46h8v4h-8zM893 54h8v4h-8zM897 58h4v4h-4zM897 62h4v4h-4zM909 90h4v4h-4zM909 94h4v4h-4zM1201 94h4v4h-4zM1185 98h4v4h-4zM909 106h4v4h-4zM1157 110h4v4h-4zM909 114h4v4h-4zM1157 114h4v4h-4zM1165 114h8v4h-8zM1181 114h4v4h-4zM905 122h4v4h-4zM1185 134h4v4h-4zM901 162h4v4h-4zM1161 162h4v4h-4zM905 166h4v4h-4zM1185 166h4v4h-4zM1201 166h4v4h-4zM1185 170h4v4h-4zM905 174h4v4h-4zM925 198h4v4h-4zM925 202h4v4h-4zM937 202h4v4h-4zM945 202h8v4h-8zM921 206h4v4h-4zM937 210h4v4h-4zM969 210h4v4h-4zM937 214h4v4h-4zM965 218h4v4h-4zM969 242h4v4h-4zM965 246h4v4h-4zM973 250h4v4h-4zM981 262h12v4h-12zM985 270h4v4h-4zM989 274h4v4h-4zM989 278h4v4h-4zM1001 286h4v4h-4zM1001 302h4v4h-4zM997 306h4v4h-4zM1045 322h8v4h-8zM1033 326h4v4h-4zM1029 330h4v4h-4zM1049 330h4v4h-4zM1049 334h8v4h-8zM1057 354h8v4h-8zM1057 358h4v4h-4zM1061 362h4v4h-4zM1089 362h4v4h-4zM1073 366h4v4h-4zM1073 370h4v4h-4zM1097 370h4v4h-4zM1105 374h4v4h-4zM1113 378h4v4h-4zM1121 394h4v4h-4zM1125 406h4v1h-4z"/>
<path fill="#5f5fff" d="M897 46h4v4h-4zM901 54h4v4h-4zM901 58h4v4h-4zM905 62h4v4h-4zM905 70h4v4h-4zM1161 102h4v4h-4zM1165 106h4v4h-4zM909 110h4v4h-4zM1173 110h4v4h-4zM1161 114h4v4h-4zM1189 114h4v4h-4zM909 118h4v4h-4zM905 130h4v4h-4zM905 138h4v4h-4zM1157 150h4v4h-4zM1157 158h8v4h-8zM1205 170h4v4h-4zM913 186h8v4h-8zM917 190h8v4h-8zM933 202h4v4h-4zM965 202h4v4h-4zM957 206h4v4h-4zM933 210h4v4h-4zM969 218h4v4h-4zM977 218h4v4h-4zM973 246h8v4h-8zM977 250h4v4h-4zM977 258h4v4h-4zM977 262h4v4h-4zM985 266h8v4h-8zM1001 278h4v4h-4zM1005 290h4v4h-4zM1005 294h8v4h-8zM997 298h4v4h-4zM1009 298h4v4h-4zM1017 298h4v4h-4zM997 302h4v4h-4zM1005 302h4v4h-4zM1017 310h8v4h-8zM1025 314h12v4h-12zM1033 318h4v4h-4zM1037 322h4v4h-4zM1045 326h4v4h-4zM1053 342h4v4h-4zM1061 342h4v4h-4zM1069 354h4v4h-4zM1065 362h12v4h-12zM1085 366h4v4h-4zM1101 366h4v4h-4zM1101 370h4v4h-4zM1125 382h4v4h-4zM1117 386h4v4h-4zM1125 386h4v4h-4zM1121 390h4v4h-4zM1125 402h4v4h-4z"/>
<path fill="#5757ff" d="M905 58h4v4h-4zM905 78h4v4h-4zM913 94h4v4h-4zM913 98h4v4h-4zM1169 110h4v4h-4zM905 134h4v4h-4zM1173 134h4v4h-4zM1185 138h4v4h-4zM905 142h4v4h-4zM905 146h4v4h-4zM905 150h4v4h-4zM1161 150h4v4h-4zM905 154h4v4h-4zM905 158h4v4h-4zM1165 162h4v4h-4zM909 166h4v4h-4zM905 170h4v4h-4zM1173 170h4v4h-4zM909 178h4v4h-4zM921 194h4v4h-4zM933 198h4v4h-4zM941 202h4v4h-4zM969 206h4v4h-4zM973 214h4v4h-4zM973 218h4v4h-4zM977 222h4v4h-4zM973 226h4v4h-4zM973 230h4v4h-4zM977 234h8v4h-8zM973 238h8v4h-8zM969 246h4v4h-4zM985 246h8v4h-8zM977 254h8v4h-8zM989 270h8v4h-8zM997 274h4v4h-4zM993 278h8v4h-8zM1001 298h8v4h-8zM1009 302h4v4h-4zM1021 302h4v4h-4zM1005 306h4v4h-4zM1017 306h12v4h-12zM1029 310h4v4h-4zM1021 314h4v4h-4zM1037 314h4v4h-4zM1025 318h4v4h-4zM1037 318h4v4h-4zM1049 318h4v4h-4zM1049 326h4v4h-4zM1045 330h4v4h-4zM1057 342h4v4h-4zM1065 346h4v4h-4zM1061 350h4v4h-4zM1069 358h8v4h-8zM1077 362h12v4h-12zM1093 362h4v4h-4zM1097 366h4v4h-4zM1105 370h4v4h-4zM1109 374h8v4h-8zM1121 378h4v4h-4zM1117 382h4v4h-4z"/>
<path fill="#4f4fff" d="M901 38h4v4h-4zM901 46h4v4h-4zM901 50h4v4h-4zM905 66h4v4h-4zM905 74h4v4h-4zM909 82h4v4h-4zM909 86h4v4h-4zM913 90h4v4h-4zM913 102h4v4h-4zM1169 106h4v4h-4zM1177 106h4v4h-4zM1177 110h4v4h-4zM909 122h4v4h-4zM1225 122h4v4h-4zM909 126h4v4h-4zM1169 134h4v4h-4zM909 146h4v4h-4zM1165 150h8v4h-8zM909 154h4v4h-4zM913 162h4v4h-4zM913 166h4v4h-4zM1189 170h4v4h-4zM913 178h4v4h-4zM937 194h4v4h-4zM929 198h4v4h-4zM941 198h4v4h-4zM953 202h4v4h-4zM969 202h4v4h-4zM1193 206h4v4h-4zM977 214h4v4h-4zM977 226h4v4h-4zM977 230h4v4h-4zM973 234h4v4h-4zM989 238h4v4h-4zM985 254h4v4h-4zM981 258h8v4h-8zM993 262h4v4h-4zM1013 286h4v4h-4zM1013 290h4v4h-4zM1021 298h4v4h-4zM1017 302h4v4h-4zM1025 302h4v4h-4zM1029 306h4v4h-4zM1025 310h4v4h-4zM1033 310h4v4h-4zM1041 314h4v4h-4zM1041 318h4v4h-4zM1053 326h4v4h-4zM1053 330h8v4h-8zM1061 346h4v4h-4zM1065 350h4v4h-4zM1077 354h4v4h-4zM1089 358h4v4h-4zM1109 370h4v4h-4zM1129 378h4v4h-4zM1125 398h4v4h-4z"/>
<path fill="#4747ff" d="M901 42h4v4h-4zM905 54h4v4h-4zM909 66h4v4h-4zM909 78h4v4h-4zM913 106h4v4h-4zM1173 106h4v4h-4zM1161 134h4v4h-4zM1177 134h4v4h-4zM909 142h4v4h-4zM1161 142h4v4h-4zM1157 146h4v4h-4zM1173 150h4v4h-4zM909 158h8v4h-8zM909 162h4v4h-4zM1189 162h4v4h-4zM1189 166h8v4h-8zM909 170h8v4h-8zM1193 170h4v4h-4zM913 174h4v4h-4zM913 182h4v4h-4zM1213 186h4v4h-4zM945 198h12v4h-12zM961 198h8v4h-8zM957 202h8v4h-8zM973 206h4v4h-4zM981 222h4v4h-4zM985 226h4v4h-4zM985 230h4v4h-4zM981 238h8v4h-8zM973 242h8v4h-8zM989 242h4v4h-4zM981 250h4v4h-4zM989 254h8v4h-8zM989 258h4v4h-4zM997 262h4v4h-4zM993 266h12v4h-12zM1001 270h4v4h-4zM1001 274h4v4h-4zM1005 278h4v4h-4zM1001 282h4v4h-4zM1009 282h8v4h-8zM1005 286h8v4h-8zM1009 290h4v4h-4zM1013 294h8v4h-8zM1025 298h4v4h-4zM1053 318h4v4h-4zM1053 322h4v4h-4zM1061 338h4v4h-4zM1065 342h4v4h-4zM1069 350h4v4h-4zM1081 358h8v4h-8zM1093 358h4v4h-4zM1097 362h4v4h-4zM1109 366h4v4h-4zM1113 370h4v4h-4zM1117 378h4v4h-4zM1125 378h4v4h-4zM1125 390h4v4h-4zM1129 402h4v4h-4zM1129 406h4v1h-4z"/>
<path fill="#3f3fff" d="M909 62h4v4h-4zM909 70h4v4h-4zM909 74h4v4h-4zM913 82h4v4h-4zM913 86h4v4h-4zM917 90h4v4h-4zM913 110h4v4h-4zM913 114h4v4h-4zM1177 114h4v4h-4zM913 118h4v4h-4zM909 134h4v4h-4zM1189 134h4v4h-4zM909 138h4v4h-4zM1177 138h4v4h-4zM1189 138h4v4h-4zM1201 138h4v4h-4zM1161 146h4v4h-4zM909 150h4v4h-4zM1149 150h8v4h-8zM913 154h4v4h-4zM1149 154h4v4h-4zM1149 158h4v4h-4zM905 162h4v4h-4zM917 170h4v4h-4zM909 174h4v4h-4zM917 174h8v4h-8zM925 178h4v4h-4zM917 182h8v4h-8zM921 186h4v4h-4zM925 190h4v4h-4zM945 190h4v4h-4zM929 194h4v4h-4zM945 194h8v4h-8zM937 198h4v4h-4zM973 210h4v4h-4zM981 218h4v4h-4zM981 230h4v4h-4zM989 234h4v4h-4zM981 242h8v4h-8zM993 242h4v4h-4zM981 246h4v4h-4zM997 258h4v4h-4zM1005 270h4v4h-4zM1005 274h4v4h-4zM1005 282h4v4h-4zM1017 290h8v4h-8zM1029 302h4v4h-4zM1033 306h4v4h-4zM1037 310h4v4h-4zM1045 318h4v4h-4zM1057 334h4v4h-4zM1057 338h4v4h-4zM1069 346h8v4h-8zM1077 350h4v4h-4zM1077 358h4v4h-4zM1121 374h8v4h-8zM1129 382h4v4h-4zM1125 394h4v4h-4zM1129 398h4v4h-4z"/>
<path fill="#3737ff" d="M905 38h4v4h-4zM905 46h4v4h-4zM917 98h4v4h-4zM913 126h4v4h-4zM909 130h8v4h-8zM1165 134h4v4h-4zM1181 134h4v4h-4zM1197 134h4v4h-4zM1169 138h8v4h-8zM913 142h4v4h-4zM1153 142h4v4h-4zM1149 146h8v4h-8zM913 150h4v4h-4zM1161 154h8v4h-8zM1145 162h4v4h-4zM1169 162h4v4h-4zM1193 162h4v4h-4zM1149 166h4v4h-4zM917 178h4v4h-4zM929 178h4v4h-4zM925 186h8v4h-8zM929 190h4v4h-4zM949 190h4v4h-4zM933 194h4v4h-4zM941 194h4v4h-4zM957 194h4v4h-4zM957 198h4v4h-4zM977 210h8v4h-8zM981 214h4v4h-4zM985 234h4v4h-4zM993 246h8v4h-8zM985 250h4v4h-4zM993 250h4v4h-4zM993 258h4v4h-4zM1001 258h4v4h-4zM1257 286h4v4h-4zM1021 294h8v4h-8zM1029 298h4v4h-4zM1033 302h4v4h-4zM1041 310h4v4h-4zM1057 322h4v4h-4zM1057 326h4v4h-4zM1061 330h4v4h-4zM1065 334h4v4h-4zM1065 338h4v4h-4zM1073 350h4v4h-4zM1081 354h4v4h-4zM1101 362h8v4h-8zM1105 366h4v4h-4zM1113 366h4v4h-4zM1129 386h4v4h-4z"/>
<path fill="#2f2fff" d="M905 42h4v4h-4zM905 50h4v4h-4zM909 54h4v4h-4zM909 58h4v4h-4zM913 74h4v4h-4zM913 78h4v4h-4zM917 94h4v4h-4zM917 102h4v4h-4zM917 110h4v4h-4zM913 122h8v4h-8zM913 134h4v4h-4zM1161 138h4v4h-4zM1149 142h4v4h-4zM1177 142h8v4h-8zM913 146h4v4h-4zM1145 154h4v4h-4zM1157 154h4v4h-4zM1177 154h4v4h-4zM1165 158h4v4h-4zM1173 158h4v4h-4zM917 162h4v4h-4zM917 166h4v4h-4zM921 170h4v4h-4zM1153 170h4v4h-4zM1165 170h8v4h-8zM1177 170h8v4h-8zM1153 174h4v4h-4zM921 178h4v4h-4zM925 182h4v4h-4zM933 186h4v4h-4zM1209 186h4v4h-4zM933 190h4v4h-4zM941 190h4v4h-4zM969 198h8v4h-8zM973 202h4v4h-4zM977 206h4v4h-4zM981 226h4v4h-4zM989 226h4v4h-4zM989 230h4v4h-4zM989 250h4v4h-4zM997 250h4v4h-4zM1001 254h4v4h-4zM1001 262h8v4h-8zM997 270h4v4h-4zM1009 278h8v4h-8zM1021 286h4v4h-4zM1037 306h4v4h-4zM1045 314h8v4h-8zM1061 326h4v4h-4zM1069 338h4v4h-4zM1073 342h4v4h-4zM1081 346h4v4h-4zM1073 354h4v4h-4zM1085 354h8v4h-8zM1097 358h4v4h-4zM1109 362h4v4h-4zM1117 370h4v4h-4zM1125 370h4v4h-4zM1117 374h4v4h-4zM1133 374h4v4h-4zM1133 386h4v4h-4zM1129 394h4v4h-4z"/>
<path fill="#2727ff" d="M913 66h4v4h-4zM913 70h4v4h-4zM917 86h4v4h-4zM917 106h4v4h-4zM917 114h4v4h-4zM917 118h4v4h-4zM917 126h4v4h-4zM913 138h4v4h-4zM1165 138h4v4h-4zM1197 138h4v4h-4zM1173 142h4v4h-4zM1173 146h4v4h-4zM917 158h4v4h-4zM1153 162h4v4h-4zM921 166h4v4h-4zM1157 166h4v4h-4zM1197 166h4v4h-4zM925 174h4v4h-4zM929 182h4v4h-4zM1213 182h4v4h-4zM937 186h4v4h-4zM937 190h4v4h-4zM953 194h4v4h-4zM961 194h4v4h-4zM977 202h4v4h-4zM981 206h4v4h-4zM985 214h4v4h-4zM1229 214h4v4h-4zM985 218h4v4h-4zM985 222h4v4h-4zM1233 222h4v4h-4zM993 234h4v4h-4zM993 238h4v4h-4zM997 242h4v4h-4zM997 254h4v4h-4zM1009 266h4v4h-4zM1009 270h4v4h-4zM1009 274h4v4h-4zM1017 286h4v4h-4zM1037 302h4v4h-4zM1045 310h4v4h-4zM1053 314h4v4h-4zM1065 330h4v4h-4zM1061 334h4v4h-4zM1069 342h4v4h-4zM1077 346h4v4h-4zM1081 350h8v4h-8zM1093 354h4v4h-4zM1117 366h8v4h-8zM1121 370h4v4h-4zM1133 370h4v4h-4zM1129 374h4v4h-4zM1133 378h4v4h-4zM1133 382h4v4h-4zM1129 390h8v4h-8zM1133 398h4v4h-4z"/>
<path fill="#1f1fff" d="M909 42h4v4h-4zM909 46h4v4h-4zM909 50h4v4h-4zM913 58h4v4h-4zM913 62h4v4h-4zM917 82h4v4h-4zM921 90h4v4h-4zM921 94h4v4h-4zM917 130h4v4h-4zM917 134h4v4h-4zM1153 134h4v4h-4zM1181 138h4v4h-4zM917 142h4v4h-4zM1169 146h4v4h-4zM1185 146h4v4h-4zM917 154h4v4h-4zM1153 154h4v4h-4zM921 162h4v4h-4zM1177 166h4v4h-4zM925 170h4v4h-4zM1149 170h4v4h-4zM1157 170h4v4h-4zM929 174h4v4h-4zM1149 174h4v4h-4zM1157 174h4v4h-4zM1197 174h4v4h-4zM1205 174h4v4h-4zM933 178h4v4h-4zM933 182h8v4h-8zM941 186h8v4h-8zM1213 190h4v4h-4zM965 194h8v4h-8zM977 198h4v4h-4zM985 210h4v4h-4zM1233 218h4v4h-4zM993 230h4v4h-4zM1225 246h4v4h-4zM1001 250h4v4h-4zM1005 258h4v4h-4zM1009 262h4v4h-4zM1005 266h4v4h-4zM1013 270h4v4h-4zM1017 282h4v4h-4zM1025 290h4v4h-4zM1033 298h4v4h-4zM1041 306h4v4h-4zM1057 318h4v4h-4zM1061 322h4v4h-4zM1065 326h4v4h-4zM1069 334h4v4h-4zM1077 342h4v4h-4zM1089 350h4v4h-4zM1097 354h4v4h-4zM1101 358h8v4h-8zM1113 362h4v4h-4zM1137 394h4v4h-4zM1137 398h4v4h-4zM1133 402h8v4h-8z"/>
<path fill="#1717ff" d="M909 38h4v4h-4zM913 54h4v4h-4zM917 74h4v4h-4zM917 78h4v4h-4zM921 98h4v4h-4zM921 102h4v4h-4zM921 106h4v4h-4zM921 110h4v4h-4zM921 114h4v4h-4zM921 118h4v4h-4zM921 122h4v4h-4zM1157 134h4v4h-4zM1193 134h4v4h-4zM917 138h4v4h-4zM1157 142h4v4h-4zM917 146h4v4h-4zM917 150h4v4h-4zM1177 150h4v4h-4zM921 154h4v4h-4zM1173 154h4v4h-4zM921 158h4v4h-4zM1177 158h4v4h-4zM1185 158h4v4h-4zM925 166h4v4h-4zM929 170h4v4h-4zM1161 174h4v4h-4zM1189 178h4v4h-4zM941 182h4v4h-4zM949 186h4v4h-4zM953 190h8v4h-8zM1205 190h4v4h-4zM1193 198h4v4h-4zM1189 206h4v4h-4zM989 214h4v4h-4zM989 218h4v4h-4zM1229 218h4v4h-4zM989 222h8v4h-8zM993 226h4v4h-4zM997 234h4v4h-4zM997 238h4v4h-4zM1005 254h4v4h-4zM1229 262h4v4h-4zM1245 270h4v4h-4zM1013 274h4v4h-4zM1021 282h4v4h-4zM1029 294h4v4h-4zM1045 306h4v4h-4zM1049 310h4v4h-4zM1057 314h4v4h-4zM1061 318h4v4h-4zM1073 338h4v4h-4zM1109 358h4v4h-4zM1117 362h4v4h-4zM1125 366h8v4h-8zM1129 370h4v4h-4zM1137 374h4v4h-4zM1137 390h4v4h-4zM1133 394h4v4h-4zM1133 406h4v1h-4z"/>
<path fill="#0f0fff" d="M913 50h4v4h-4zM917 70h4v4h-4zM921 86h4v4h-4zM921 126h4v4h-4zM1165 142h8v4h-8zM1165 146h4v4h-4zM921 150h4v4h-4zM1169 154h4v4h-4zM1153 158h4v4h-4zM925 162h4v4h-4zM933 174h4v4h-4zM1201 174h4v4h-4zM937 178h4v4h-4zM945 182h4v4h-4zM1209 182h4v4h-4zM953 186h4v4h-4zM961 190h4v4h-4zM1201 190h4v4h-4zM1209 190h4v4h-4zM973 194h4v4h-4zM1197 198h4v4h-4zM981 202h4v4h-4zM985 206h4v4h-4zM989 210h4v4h-4zM993 218h4v4h-4zM997 226h4v4h-4zM997 230h4v4h-4zM1001 242h4v4h-4zM1001 246h4v4h-4zM1005 250h4v4h-4zM1013 266h4v4h-4zM1017 274h4v4h-4zM1245 274h4v4h-4zM1017 278h8v4h-8zM1233 282h4v4h-4zM1025 286h4v4h-4zM1029 290h4v4h-4zM1033 294h4v4h-4zM1037 298h4v4h-4zM1041 302h4v4h-4zM1053 310h4v4h-4zM1065 322h4v4h-4zM1069 330h4v4h-4zM1073 334h4v4h-4zM1077 338h4v4h-4zM1081 342h4v4h-4zM1085 346h8v4h-8zM1093 350h4v4h-4zM1101 354h4v4h-4zM1113 358h4v4h-4zM1121 362h4v4h-4zM1133 366h4v4h-4zM1137 370h4v4h-4zM1137 378h4v4h-4zM1137 382h4v4h-4zM1137 386h4v4h-4zM1141 402h4v4h-4zM1141 406h4v1h-4z"/>
<path fill="#0707ff" d="M913 38h4v4h-4zM913 42h4v4h-4zM913 46h4v4h-4zM917 58h4v4h-4zM917 62h4v4h-4zM917 66h4v4h-4zM921 78h4v4h-4zM921 82h4v4h-4zM925 90h4v4h-4zM925 94h4v4h-4zM921 130h4v4h-4zM921 134h4v4h-4zM921 138h4v4h-4zM1153 138h4v4h-4zM1193 138h4v4h-4zM921 142h4v4h-4zM921 146h4v4h-4zM1177 146h8v4h-8zM925 158h4v4h-4zM1177 162h8v4h-8zM929 166h4v4h-4zM1181 166h4v4h-4zM933 170h4v4h-4zM1141 170h8v4h-8zM937 174h4v4h-4zM1141 174h8v4h-8zM1193 174h4v4h-4zM941 178h4v4h-4zM1141 178h8v4h-8zM965 190h4v4h-4zM977 194h4v4h-4zM981 198h4v4h-4zM997 222h4v4h-4zM1001 234h4v4h-4zM1001 238h4v4h-4zM1005 246h4v4h-4zM1009 254h4v4h-4zM1009 258h4v4h-4zM1013 262h4v4h-4zM1217 262h4v4h-4zM1017 270h4v4h-4zM1025 282h4v4h-4zM1049 306h4v4h-4zM1061 314h4v4h-4zM1069 326h4v4h-4zM1073 330h4v4h-4zM1077 334h4v4h-4zM1081 338h4v4h-4zM1085 342h4v4h-4zM1097 350h4v4h-4zM1105 354h4v4h-4zM1117 358h4v4h-4zM1125 362h4v4h-4zM1137 366h4v4h-4zM1141 398h4v4h-4z"/>
<path fill="#0000ff" d="M917 50h4v4h-4zM917 54h4v4h-4zM921 66h4v4h-4zM921 70h4v4h-4zM921 74h4v4h-4zM925 78h4v4h-4zM925 82h4v4h-4zM925 86h4v4h-4zM929 90h4v4h-4zM929 94h4v4h-4zM925 98h8v4h-8zM925 102h8v4h-8zM925 106h8v4h-8zM925 110h8v4h-8zM925 114h4v4h-4zM925 118h4v4h-4zM925 122h4v4h-4zM925 126h4v4h-4zM925 154h4v4h-4zM1141 154h4v4h-4zM1141 158h4v4h-4zM1181 158h4v4h-4zM929 162h4v4h-4zM1161 166h4v4h-4zM1173 174h4v4h-4zM1189 174h4v4h-4zM949 182h4v4h-4zM1185 182h4v4h-4zM1197 182h4v4h-4zM957 186h4v4h-4zM981 194h4v4h-4zM985 202h4v4h-4zM989 206h4v4h-4zM993 214h4v4h-4zM997 218h4v4h-4zM1001 226h4v4h-4zM1001 230h4v4h-4zM1005 238h4v4h-4zM1005 242h4v4h-4zM1009 250h4v4h-4zM1217 254h4v4h-4zM1253 254h4v4h-4zM1013 258h4v4h-4zM1017 262h4v4h-4zM1017 266h4v4h-4zM1021 270h4v4h-4zM1021 274h4v4h-4zM1213 274h4v4h-4zM1025 278h4v4h-4zM1241 278h4v4h-4zM1029 282h4v4h-4zM1029 286h4v4h-4zM1225 286h4v4h-4zM1033 290h4v4h-4zM1037 294h4v4h-4zM1041 298h4v4h-4zM1045 302h4v4h-4zM1053 306h4v4h-4zM1057 310h4v4h-4zM1065 318h4v4h-4zM1069 322h4v4h-4zM1089 342h4v4h-4zM1093 346h4v4h-4zM1101 350h4v4h-4zM1109 354h4v4h-4zM1129 362h4v4h-4zM1141 370h4v4h-4zM1141 374h4v4h-4zM1141 378h4v4h-4zM1141 382h4v4h-4zM1141 386h4v4h-4zM1141 390h4v4h-4zM1141 394h4v4h-4z"/>
<path fill="#0005ff" d="M917 38h16v4h-16zM917 42h16v4h-16zM917 46h16v4h-16zM921 50h16v4h-16zM921 54h16v4h-16zM921 58h16v4h-16zM921 62h16v4h-16zM925 66h16v4h-16zM925 70h16v4h-16zM925 74h16v4h-16zM929 78h16v4h-16zM929 82h16v4h-16zM929 86h20v4h-20zM933 90h16v4h-16zM933 94h12v4h-12zM933 98h12v4h-12zM933 102h8v4h-8zM933 106h8v4h-8zM933 110h4v4h-4zM929 114h4v4h-4zM929 118h4v4h-4zM925 130h4v4h-4zM925 134h4v4h-4zM925 142h4v4h-4zM925 146h4v4h-4zM925 150h4v4h-4zM929 158h4v4h-4zM1169 158h4v4h-4zM933 166h4v4h-4zM1165 166h12v4h-12zM937 170h4v4h-4zM941 174h4v4h-4zM1209 174h4v4h-4zM945 178h4v4h-4zM1197 178h4v4h-4zM953 182h4v4h-4zM961 186h4v4h-4zM969 190h4v4h-4zM985 198h4v4h-4zM993 210h4v4h-4zM1001 222h4v4h-4zM1005 226h4v4h-4zM1005 230h4v4h-4zM1005 234h4v4h-4zM1009 238h4v4h-4zM1009 242h4v4h-4zM1009 246h4v4h-4zM1013 250h4v4h-4zM1013 254h4v4h-4zM1017 258h4v4h-4zM1021 266h4v4h-4zM1025 270h4v4h-4zM1025 274h4v4h-4zM1217 274h4v4h-4zM1029 278h4v4h-4zM1033 282h4v4h-4zM1257 282h8v4h-8zM1033 286h4v4h-4zM1037 290h4v4h-4zM1041 294h4v4h-4zM1045 298h4v4h-4zM1049 302h8v4h-8zM1057 306h4v4h-4zM1061 310h4v4h-4zM1065 314h4v4h-4zM1073 326h4v4h-4zM1077 330h4v4h-4zM1081 334h4v4h-4zM1085 338h4v4h-4zM1097 346h4v4h-4zM1105 350h4v4h-4zM1113 354h4v4h-4zM1121 358h4v4h-4zM1133 362h4v4h-4zM1145 406h4v1h-4z"/>
<path fill="#0008ff" d="M933 38h12v4h-12zM933 42h12v4h-12zM933 46h12v4h-12zM937 50h12v4h-12zM937 54h8v4h-8zM937 58h8v4h-8zM937 62h8v4h-8zM941 66h4v4h-4zM941 70h8v4h-8zM941 74h8v4h-8zM945 78h8v4h-8zM945 82h8v4h-8zM949 86h8v4h-8zM949 90h4v4h-4zM945 94h8v4h-8zM945 98h4v4h-4zM941 102h4v4h-4zM937 110h4v4h-4zM933 114h4v4h-4zM929 122h4v4h-4zM925 138h4v4h-4zM1157 138h4v4h-4zM929 154h4v4h-4zM933 162h4v4h-4zM1137 170h4v4h-4zM1137 174h4v4h-4zM1169 174h4v4h-4zM949 178h4v4h-4zM1137 178h4v4h-4zM1173 178h4v4h-4zM1205 182h4v4h-4zM973 190h8v4h-8zM1197 190h4v4h-4zM985 194h4v4h-4zM989 202h4v4h-4zM993 206h4v4h-4zM997 214h4v4h-4zM1001 218h4v4h-4zM1009 230h4v4h-4zM1009 234h4v4h-4zM1013 242h4v4h-4zM1013 246h4v4h-4zM1017 250h4v4h-4zM1017 254h4v4h-4zM1021 258h4v4h-4zM1021 262h4v4h-4zM1213 262h4v4h-4zM1025 266h4v4h-4zM1029 274h4v4h-4zM1033 278h4v4h-4zM1037 282h4v4h-4zM1037 286h4v4h-4zM1041 290h4v4h-4zM1045 294h4v4h-4zM1049 298h8v4h-8zM1057 302h4v4h-4zM1061 306h4v4h-4zM1065 310h4v4h-4zM1069 318h4v4h-4zM1073 322h4v4h-4zM1089 338h4v4h-4zM1093 342h4v4h-4zM1101 346h4v4h-4zM1109 350h4v4h-4zM1137 362h4v4h-4zM1141 366h4v4h-4zM1145 402h4v4h-4z"/>
<path fill="#000dff" d="M945 38h4v4h-4zM945 42h4v4h-4zM945 46h4v4h-4zM949 50h4v4h-4zM945 54h8v4h-8zM945 58h4v4h-4zM945 62h8v4h-8zM945 66h8v4h-8zM949 70h4v4h-4zM949 74h4v4h-4zM953 78h4v4h-4zM953 82h4v4h-4zM957 86h4v4h-4zM953 90h8v4h-8zM953 94h4v4h-4zM949 98h4v4h-4zM945 102h4v4h-4zM941 106h4v4h-4zM933 118h4v4h-4zM929 126h4v4h-4zM929 150h4v4h-4zM933 158h4v4h-4zM937 166h4v4h-4zM941 170h4v4h-4zM945 174h4v4h-4zM1177 178h4v4h-4zM1185 178h4v4h-4zM957 182h4v4h-4zM965 186h4v4h-4zM981 190h4v4h-4zM1209 194h4v4h-4zM989 198h4v4h-4zM1193 202h4v4h-4zM997 210h4v4h-4zM1225 218h4v4h-4zM1005 222h4v4h-4zM1009 226h4v4h-4zM1013 234h4v4h-4zM1013 238h4v4h-4zM1017 242h4v4h-4zM1017 246h4v4h-4zM1021 250h4v4h-4zM1021 254h4v4h-4zM1025 258h4v4h-4zM1025 262h4v4h-4zM1029 266h4v4h-4zM1029 270h4v4h-4zM1253 270h8v4h-8zM1033 274h4v4h-4zM1269 274h4v4h-4zM1037 278h4v4h-4zM1041 282h4v4h-4zM1041 286h4v4h-4zM1045 290h4v4h-4zM1049 294h8v4h-8zM1057 298h4v4h-4zM1061 302h4v4h-4zM1069 314h4v4h-4zM1077 326h4v4h-4zM1081 330h4v4h-4zM1085 334h4v4h-4zM1097 342h4v4h-4zM1117 354h4v4h-4zM1125 358h4v4h-4z"/>
<path fill="#0010ff" d="M949 42h4v4h-4zM949 46h4v4h-4zM949 58h4v4h-4zM953 70h4v4h-4zM953 74h4v4h-4zM957 78h4v4h-4zM957 82h4v4h-4zM961 86h4v4h-4zM957 94h4v4h-4zM953 98h4v4h-4zM949 102h4v4h-4zM945 106h4v4h-4zM941 110h4v4h-4zM937 114h4v4h-4zM933 122h4v4h-4zM929 130h4v4h-4zM929 134h4v4h-4zM929 138h4v4h-4zM929 142h4v4h-4zM929 146h4v4h-4zM933 154h4v4h-4zM937 162h4v4h-4zM941 166h4v4h-4zM953 178h4v4h-4zM1169 178h4v4h-4zM1201 182h4v4h-4zM969 186h4v4h-4zM985 190h4v4h-4zM989 194h4v4h-4zM993 202h4v4h-4zM1001 214h4v4h-4zM1189 214h4v4h-4zM1229 222h4v4h-4zM1013 230h4v4h-4zM1017 238h4v4h-4zM1021 246h4v4h-4zM1025 254h4v4h-4zM1253 258h4v4h-4zM1029 262h4v4h-4zM1033 270h4v4h-4zM1037 274h4v4h-4zM1241 282h4v4h-4zM1253 282h4v4h-4zM1045 286h4v4h-4zM1273 286h4v4h-4zM1049 290h4v4h-4zM1245 290h4v4h-4zM1061 298h4v4h-4zM1269 302h4v4h-4zM1065 306h4v4h-4zM1073 318h4v4h-4zM1077 322h4v4h-4zM1085 330h4v4h-4zM1089 334h4v4h-4zM1093 338h4v4h-4zM1101 342h4v4h-4zM1105 346h4v4h-4zM1145 370h4v4h-4zM1145 398h4v4h-4z"/>
<path fill="#0015ff" d="M949 38h4v4h-4zM953 50h4v4h-4zM953 54h4v4h-4zM953 66h4v4h-4zM957 74h4v4h-4zM961 82h4v4h-4zM961 90h4v4h-4zM957 98h4v4h-4zM953 102h4v4h-4zM949 106h4v4h-4zM945 110h4v4h-4zM941 114h4v4h-4zM937 118h4v4h-4zM933 126h4v4h-4zM933 150h4v4h-4zM937 158h4v4h-4zM945 170h4v4h-4zM949 174h4v4h-4zM961 182h4v4h-4zM1161 182h4v4h-4zM1189 182h4v4h-4zM973 186h4v4h-4zM1205 186h4v4h-4zM993 198h4v4h-4zM1197 202h4v4h-4zM997 206h4v4h-4zM1181 206h4v4h-4zM1005 218h4v4h-4zM1009 222h4v4h-4zM1013 226h4v4h-4zM1213 230h4v4h-4zM1017 234h4v4h-4zM1205 242h4v4h-4zM1029 258h4v4h-4zM1033 266h4v4h-4zM1241 270h4v4h-4zM1241 274h4v4h-4zM1253 274h8v4h-8zM1041 278h4v4h-4zM1045 282h4v4h-4zM1049 286h4v4h-4zM1053 290h4v4h-4zM1057 294h4v4h-4zM1065 302h4v4h-4zM1069 310h4v4h-4zM1073 314h4v4h-4zM1081 326h4v4h-4zM1097 338h4v4h-4zM1113 350h4v4h-4zM1129 358h4v4h-4zM1141 362h4v4h-4zM1145 366h4v4h-4zM1145 374h4v4h-4zM1145 378h4v4h-4z"/>
<path fill="#0018ff" d="M953 42h4v4h-4zM953 46h4v4h-4zM953 58h4v4h-4zM953 62h4v4h-4zM957 70h4v4h-4zM961 78h4v4h-4zM965 86h4v4h-4zM961 94h4v4h-4zM937 122h4v4h-4zM933 130h4v4h-4zM933 134h4v4h-4zM933 138h4v4h-4zM933 142h4v4h-4zM933 146h4v4h-4zM937 154h4v4h-4zM941 162h4v4h-4zM957 178h4v4h-4zM1149 178h4v4h-4zM1193 178h4v4h-4zM1201 178h4v4h-4zM1181 182h4v4h-4zM989 190h4v4h-4zM993 194h4v4h-4zM1189 194h4v4h-4zM997 202h4v4h-4zM1189 202h4v4h-4zM1001 210h4v4h-4zM1225 214h4v4h-4zM1017 230h4v4h-4zM1021 242h4v4h-4zM1025 250h4v4h-4zM1229 250h4v4h-4zM1237 262h4v4h-4zM1037 270h4v4h-4zM1221 274h4v4h-4zM1257 278h4v4h-4zM1229 282h4v4h-4zM1261 290h4v4h-4zM1061 294h4v4h-4zM1065 298h4v4h-4zM1069 306h4v4h-4zM1077 318h4v4h-4zM1081 322h4v4h-4zM1085 326h4v4h-4zM1089 330h4v4h-4zM1093 334h4v4h-4zM1121 354h4v4h-4zM1133 358h4v4h-4zM1145 382h4v4h-4zM1145 394h4v4h-4z"/>
<path fill="#001dff" d="M953 38h4v4h-4zM957 50h4v4h-4zM957 66h4v4h-4zM965 82h4v4h-4zM965 90h4v4h-4zM961 98h4v4h-4zM957 102h4v4h-4zM953 106h4v4h-4zM949 110h4v4h-4zM945 114h4v4h-4zM941 118h4v4h-4zM937 126h4v4h-4zM937 150h4v4h-4zM941 158h4v4h-4zM945 166h4v4h-4zM949 170h4v4h-4zM953 174h4v4h-4zM1205 178h4v4h-4zM965 182h4v4h-4zM977 186h8v4h-8zM1197 194h4v4h-4zM997 198h4v4h-4zM1205 202h4v4h-4zM1185 206h4v4h-4zM1005 214h4v4h-4zM1009 218h4v4h-4zM1021 238h4v4h-4zM1025 246h4v4h-4zM1029 254h4v4h-4zM1033 262h4v4h-4zM1233 262h4v4h-4zM1041 274h4v4h-4zM1233 274h4v4h-4zM1045 278h4v4h-4zM1237 282h4v4h-4zM1053 286h4v4h-4zM1057 290h4v4h-4zM1257 290h4v4h-4zM1069 302h4v4h-4zM1073 310h4v4h-4zM1105 342h4v4h-4zM1109 346h4v4h-4zM1145 386h4v4h-4zM1145 390h4v4h-4z"/>
<path fill="#0020ff" d="M957 46h4v4h-4zM957 54h4v4h-4zM957 58h4v4h-4zM957 62h4v4h-4zM961 74h4v4h-4zM965 78h4v4h-4zM965 94h4v4h-4zM941 122h4v4h-4zM937 130h4v4h-4zM937 134h4v4h-4zM937 138h4v4h-4zM937 142h4v4h-4zM937 146h4v4h-4zM941 154h4v4h-4zM945 162h4v4h-4zM1185 174h4v4h-4zM961 178h4v4h-4zM1153 178h4v4h-4zM969 182h4v4h-4zM985 186h8v4h-8zM1197 186h4v4h-4zM993 190h4v4h-4zM1205 194h4v4h-4zM1001 206h4v4h-4zM1201 206h4v4h-4zM1013 222h4v4h-4zM1017 226h4v4h-4zM1021 234h4v4h-4zM1029 250h4v4h-4zM1245 250h4v4h-4zM1033 258h4v4h-4zM1201 262h4v4h-4zM1225 262h4v4h-4zM1037 266h4v4h-4zM1229 278h4v4h-4zM1049 282h4v4h-4zM1225 282h4v4h-4zM1241 286h4v4h-4zM1269 290h4v4h-4zM1065 294h4v4h-4zM1273 294h8v4h-8zM1069 298h4v4h-4zM1073 306h4v4h-4zM1077 314h4v4h-4zM1081 318h4v4h-4zM1093 330h4v4h-4zM1097 334h4v4h-4zM1101 338h4v4h-4zM1117 350h4v4h-4zM1125 354h4v4h-4zM1137 358h4v4h-4zM1145 362h4v4h-4z"/>
<path fill="#0025ff" d="M961 70h4v4h-4zM969 86h4v4h-4zM953 110h4v4h-4zM949 114h4v4h-4zM945 118h4v4h-4zM945 158h4v4h-4zM957 174h4v4h-4zM1177 174h4v4h-4zM1181 178h4v4h-4zM973 182h4v4h-4zM1149 182h4v4h-4zM993 186h4v4h-4zM997 194h4v4h-4zM1209 198h4v4h-4zM1001 202h4v4h-4zM1005 210h4v4h-4zM1021 230h4v4h-4zM1217 230h4v4h-4zM1025 242h4v4h-4zM1237 246h4v4h-4zM1037 262h4v4h-4zM1041 270h4v4h-4zM1045 274h4v4h-4zM1237 278h4v4h-4zM1253 278h4v4h-4zM1269 278h4v4h-4zM1245 286h4v4h-4zM1061 290h4v4h-4zM1241 290h4v4h-4zM1249 290h4v4h-4zM1241 294h4v4h-4zM1257 306h4v4h-4zM1077 310h4v4h-4zM1085 322h4v4h-4zM1089 326h4v4h-4zM1141 358h4v4h-4z"/>
<path fill="#0028ff" d="M957 42h4v4h-4zM961 50h4v4h-4zM969 82h4v4h-4zM969 90h4v4h-4zM965 98h4v4h-4zM957 106h4v4h-4zM941 126h4v4h-4zM941 150h4v4h-4zM949 166h4v4h-4zM953 170h4v4h-4zM1181 174h4v4h-4zM965 178h4v4h-4zM1165 182h4v4h-4zM1201 186h4v4h-4zM997 190h4v4h-4zM1153 198h4v4h-4zM1201 198h4v4h-4zM1009 214h4v4h-4zM1013 218h4v4h-4zM1017 222h4v4h-4zM1025 238h4v4h-4zM1181 238h4v4h-4zM1241 242h4v4h-4zM1029 246h4v4h-4zM1185 250h4v4h-4zM1225 250h4v4h-4zM1033 254h4v4h-4zM1241 258h4v4h-4zM1241 262h4v4h-4zM1041 266h4v4h-4zM1229 266h4v4h-4zM1249 274h4v4h-4zM1049 278h4v4h-4zM1233 278h4v4h-4zM1245 278h4v4h-4zM1053 282h4v4h-4zM1057 286h4v4h-4zM1229 286h4v4h-4zM1249 286h8v4h-8zM1265 290h4v4h-4zM1277 290h4v4h-4zM1069 294h4v4h-4zM1269 294h4v4h-4zM1073 302h4v4h-4zM1257 302h4v4h-4zM1273 302h4v4h-4zM1113 346h4v4h-4zM1121 350h4v4h-4zM1129 354h4v4h-4z"/>
<path fill="#002dff" d="M957 38h4v4h-4zM961 54h4v4h-4zM961 66h4v4h-4zM965 74h4v4h-4zM969 94h4v4h-4zM961 102h4v4h-4zM949 162h4v4h-4zM961 174h4v4h-4zM977 182h4v4h-4zM997 186h4v4h-4zM1189 186h4v4h-4zM1001 198h4v4h-4zM1189 198h4v4h-4zM1157 202h4v4h-4zM1185 202h4v4h-4zM1005 206h4v4h-4zM1197 206h4v4h-4zM1205 206h4v4h-4zM1181 210h8v4h-8zM1201 214h4v4h-4zM1021 226h4v4h-4zM1025 234h4v4h-4zM1181 234h4v4h-4zM1029 242h4v4h-4zM1033 250h4v4h-4zM1253 250h4v4h-4zM1037 258h4v4h-4zM1225 266h4v4h-4zM1045 270h4v4h-4zM1245 282h8v4h-8zM1061 286h4v4h-4zM1065 290h4v4h-4zM1253 290h4v4h-4zM1073 298h4v4h-4zM1257 298h4v4h-4zM1269 298h8v4h-8zM1077 306h4v4h-4zM1081 314h4v4h-4zM1085 318h4v4h-4zM1089 322h4v4h-4zM1093 326h4v4h-4zM1097 330h4v4h-4zM1109 342h4v4h-4zM1149 402h4v4h-4z"/>
<path fill="#0030ff" d="M961 62h4v4h-4zM969 78h4v4h-4zM941 130h4v4h-4zM953 166h4v4h-4zM957 170h4v4h-4zM969 178h4v4h-4zM981 182h16v4h-16zM1181 186h4v4h-4zM1001 194h4v4h-4zM1005 202h4v4h-4zM1009 210h4v4h-4zM1013 214h4v4h-4zM1025 230h4v4h-4zM1209 230h4v4h-4zM1241 230h4v4h-4zM1217 234h4v4h-4zM1229 242h4v4h-4zM1037 254h4v4h-4zM1189 254h4v4h-4zM1213 258h4v4h-4zM1237 258h4v4h-4zM1041 262h4v4h-4zM1213 266h4v4h-4zM1265 266h4v4h-4zM1261 270h4v4h-4zM1049 274h4v4h-4zM1053 278h4v4h-4zM1057 282h4v4h-4zM1261 286h4v4h-4zM1069 290h4v4h-4zM1073 294h4v4h-4zM1277 298h4v4h-4zM1277 302h4v4h-4zM1101 334h4v4h-4zM1105 338h4v4h-4zM1133 354h4v4h-4zM1145 358h4v4h-4zM1149 362h4v4h-4zM1149 366h4v4h-4zM1149 370h4v4h-4z"/>
<path fill="#0035ff" d="M961 46h4v4h-4zM961 58h4v4h-4zM973 86h4v4h-4zM945 122h4v4h-4zM941 146h4v4h-4zM973 178h4v4h-4zM997 182h4v4h-4zM1193 182h4v4h-4zM1185 186h4v4h-4zM1001 190h4v4h-4zM1193 194h4v4h-4zM1181 214h8v4h-8zM1017 218h4v4h-4zM1209 218h4v4h-4zM1021 222h4v4h-4zM1029 238h4v4h-4zM1209 238h8v4h-8zM1033 246h4v4h-4zM1209 258h4v4h-4zM1257 258h4v4h-4zM1045 266h4v4h-4zM1257 266h4v4h-4zM1261 278h4v4h-4zM1265 282h4v4h-4zM1273 282h4v4h-4zM1065 286h4v4h-4zM1237 286h4v4h-4zM1257 294h4v4h-4zM1077 302h4v4h-4zM1081 310h4v4h-4zM1085 314h4v4h-4zM1117 346h4v4h-4zM1125 350h4v4h-4zM1137 354h8v4h-8zM1149 374h4v4h-4zM1149 398h4v4h-4z"/>
<path fill="#0038ff" d="M965 70h4v4h-4zM969 98h4v4h-4zM965 102h4v4h-4zM957 110h4v4h-4zM953 114h4v4h-4zM949 118h4v4h-4zM945 154h4v4h-4zM965 174h4v4h-4zM1001 186h4v4h-4zM1177 186h4v4h-4zM1201 194h4v4h-4zM1005 198h4v4h-4zM1009 206h4v4h-4zM1193 218h4v4h-4zM1025 226h4v4h-4zM1221 230h4v4h-4zM1029 234h4v4h-4zM1205 234h4v4h-4zM1037 250h4v4h-4zM1041 258h4v4h-4zM1221 266h4v4h-4zM1253 266h4v4h-4zM1049 270h4v4h-4zM1249 270h4v4h-4zM1265 270h4v4h-4zM1197 274h4v4h-4zM1061 282h4v4h-4zM1073 290h4v4h-4zM1245 294h4v4h-4zM1077 298h4v4h-4zM1081 306h4v4h-4zM1265 306h4v4h-4zM1089 318h4v4h-4zM1093 322h4v4h-4zM1149 378h4v4h-4z"/>
<path fill="#003dff" d="M973 82h4v4h-4zM973 90h4v4h-4zM961 106h4v4h-4zM941 134h4v4h-4zM941 142h4v4h-4zM949 158h4v4h-4zM953 162h4v4h-4zM957 166h4v4h-4zM961 170h4v4h-4zM977 178h4v4h-4zM1153 182h4v4h-4zM1169 182h4v4h-4zM1185 198h4v4h-4zM1153 202h4v4h-4zM1013 210h4v4h-4zM1197 218h4v4h-4zM1217 218h4v4h-4zM1221 234h4v4h-4zM1033 242h4v4h-4zM1221 246h4v4h-4zM1209 250h4v4h-4zM1249 250h4v4h-4zM1213 254h4v4h-4zM1249 254h4v4h-4zM1217 258h4v4h-4zM1209 262h4v4h-4zM1209 266h4v4h-4zM1197 270h4v4h-4zM1053 274h4v4h-4zM1057 278h4v4h-4zM1209 278h4v4h-4zM1209 282h4v4h-4zM1265 298h4v4h-4zM1269 306h4v4h-4zM1097 326h4v4h-4zM1113 342h4v4h-4zM1121 346h4v4h-4zM1129 350h4v4h-4zM1149 382h4v4h-4zM1149 394h4v4h-4z"/>
<path fill="#0040ff" d="M965 50h4v4h-4zM941 138h4v4h-4zM969 174h4v4h-4zM981 178h4v4h-4zM993 178h8v4h-8zM1001 182h4v4h-4zM1157 182h4v4h-4zM1177 182h4v4h-4zM1193 190h4v4h-4zM1005 194h4v4h-4zM1157 198h4v4h-4zM1009 202h4v4h-4zM1177 202h4v4h-4zM1017 214h4v4h-4zM1021 218h4v4h-4zM1025 222h4v4h-4zM1029 230h4v4h-4zM1185 234h4v4h-4zM1237 234h4v4h-4zM1221 238h4v4h-4zM1237 250h4v4h-4zM1041 254h4v4h-4zM1045 262h4v4h-4zM1189 266h4v4h-4zM1245 266h4v4h-4zM1237 274h4v4h-4zM1221 278h4v4h-4zM1269 282h4v4h-4zM1069 286h4v4h-4zM1077 294h4v4h-4zM1249 294h4v4h-4zM1081 302h4v4h-4zM1085 310h4v4h-4zM1089 314h4v4h-4zM1101 330h4v4h-4zM1105 334h4v4h-4zM1109 338h4v4h-4zM1145 354h4v4h-4zM1149 386h4v4h-4zM1149 390h4v4h-4z"/>
<path fill="#0045ff" d="M961 42h4v4h-4zM965 66h4v4h-4zM969 74h4v4h-4zM965 170h4v4h-4zM985 178h8v4h-8zM1005 190h4v4h-4zM1009 198h4v4h-4zM1013 206h4v4h-4zM1201 226h8v4h-8zM1229 230h8v4h-8zM1033 238h4v4h-4zM1213 242h4v4h-4zM1037 246h4v4h-4zM1229 258h4v4h-4zM1049 266h4v4h-4zM1217 266h4v4h-4zM1237 266h4v4h-4zM1193 274h4v4h-4zM1261 274h4v4h-4zM1077 290h4v4h-4zM1253 302h4v4h-4zM1085 306h4v4h-4zM1093 318h4v4h-4zM1133 350h4v4h-4zM1149 358h4v4h-4z"/>
<path fill="#0048ff" d="M973 78h4v4h-4zM973 94h4v4h-4zM969 102h4v4h-4zM945 126h4v4h-4zM973 174h4v4h-4zM1001 178h4v4h-4zM1005 186h4v4h-4zM1181 198h4v4h-4zM1017 210h4v4h-4zM1189 210h4v4h-4zM1213 218h4v4h-4zM1029 226h4v4h-4zM1237 226h4v4h-4zM1217 250h4v4h-4zM1233 250h4v4h-4zM1257 250h4v4h-4zM1233 266h4v4h-4zM1249 266h4v4h-4zM1065 282h4v4h-4zM1265 286h4v4h-4zM1081 298h4v4h-4zM1089 310h4v4h-4zM1097 322h4v4h-4zM1117 342h4v4h-4zM1125 346h4v4h-4zM1137 350h4v4h-4z"/>
<path fill="#004dff" d="M965 54h4v4h-4zM965 106h4v4h-4zM961 110h4v4h-4zM945 150h4v4h-4zM957 162h4v4h-4zM961 166h4v4h-4zM977 174h4v4h-4zM1005 182h4v4h-4zM1173 182h4v4h-4zM1185 190h4v4h-4zM1009 194h4v4h-4zM1013 202h4v4h-4zM1021 214h4v4h-4zM1025 218h4v4h-4zM1221 222h4v4h-4zM1225 226h4v4h-4zM1205 238h4v4h-4zM1241 246h4v4h-4zM1041 250h4v4h-4zM1257 254h4v4h-4zM1045 258h4v4h-4zM1197 262h4v4h-4zM1053 270h4v4h-4zM1057 274h4v4h-4zM1061 278h4v4h-4zM1217 278h4v4h-4zM1217 282h4v4h-4zM1073 286h4v4h-4zM1237 290h4v4h-4zM1081 294h4v4h-4zM1261 294h4v4h-4zM1261 298h4v4h-4zM1085 302h4v4h-4zM1093 314h4v4h-4zM1113 338h4v4h-4zM1141 350h4v4h-4zM1153 402h4v4h-4z"/>
<path fill="#0050ff" d="M961 38h4v4h-4zM965 46h4v4h-4zM965 62h4v4h-4zM977 86h4v4h-4zM957 114h4v4h-4zM953 118h4v4h-4zM969 170h4v4h-4zM997 174h8v4h-8zM1009 190h4v4h-4zM1177 194h4v4h-4zM1177 198h4v4h-4zM1017 206h4v4h-4zM1029 222h4v4h-4zM1033 234h4v4h-4zM1201 234h4v4h-4zM1225 238h4v4h-4zM1037 242h4v4h-4zM1217 242h4v4h-4zM1245 246h4v4h-4zM1201 258h4v4h-4zM1257 262h4v4h-4zM1189 270h4v4h-4zM1213 270h4v4h-4zM1225 270h4v4h-4zM1081 290h4v4h-4zM1237 294h4v4h-4zM1265 294h4v4h-4zM1249 298h8v4h-8zM1101 326h4v4h-4zM1105 330h4v4h-4zM1109 334h4v4h-4zM1121 342h4v4h-4zM1129 346h4v4h-4zM1153 362h4v4h-4z"/>
<path fill="#0055ff" d="M965 58h4v4h-4zM969 70h4v4h-4zM949 122h4v4h-4zM981 174h8v4h-8zM993 174h4v4h-4zM1005 178h4v4h-4zM1009 186h4v4h-4zM1013 198h4v4h-4zM1021 210h4v4h-4zM1193 214h4v4h-4zM1217 238h4v4h-4zM1237 238h4v4h-4zM1237 242h4v4h-4zM1221 250h4v4h-4zM1045 254h4v4h-4zM1049 262h4v4h-4zM1241 266h4v4h-4zM1193 270h4v4h-4zM1069 282h4v4h-4zM1077 286h4v4h-4zM1085 298h4v4h-4zM1089 306h4v4h-4zM1097 318h4v4h-4zM1273 318h4v4h-4zM1145 350h4v4h-4zM1153 366h4v4h-4z"/>
<path fill="#0058ff" d="M973 98h4v4h-4zM945 130h4v4h-4zM949 154h4v4h-4zM953 158h4v4h-4zM965 166h4v4h-4zM973 170h4v4h-4zM989 174h4v4h-4zM1193 186h4v4h-4zM1013 194h4v4h-4zM1017 202h4v4h-4zM1025 214h4v4h-4zM1029 218h4v4h-4zM1209 222h4v4h-4zM1221 226h4v4h-4zM1033 230h4v4h-4zM1249 238h4v4h-4zM1221 242h4v4h-4zM1041 246h4v4h-4zM1233 246h4v4h-4zM1249 246h4v4h-4zM1261 250h4v4h-4zM1053 266h4v4h-4zM1205 266h4v4h-4zM1249 302h4v4h-4zM1093 310h4v4h-4zM1273 314h4v4h-4zM1133 346h4v4h-4zM1153 370h4v4h-4zM1153 374h4v4h-4zM1153 398h4v4h-4z"/>
<path fill="#005dff" d="M969 106h4v4h-4zM945 146h4v4h-4zM961 162h4v4h-4zM1005 174h4v4h-4zM1009 182h4v4h-4zM1201 210h4v4h-4zM1209 210h4v4h-4zM1221 218h4v4h-4zM1209 226h4v4h-4zM1181 230h4v4h-4zM1189 234h4v4h-4zM1037 238h4v4h-4zM1209 242h4v4h-4zM1257 242h4v4h-4zM1181 246h4v4h-4zM1225 254h4v4h-4zM1181 262h8v4h-8zM1057 270h4v4h-4zM1061 274h4v4h-4zM1065 278h4v4h-4zM1249 278h4v4h-4zM1081 286h4v4h-4zM1085 294h4v4h-4zM1089 302h4v4h-4zM1261 302h4v4h-4zM1101 322h4v4h-4zM1117 338h4v4h-4zM1125 342h4v4h-4zM1137 346h4v4h-4zM1149 354h4v4h-4z"/>
<path fill="#0060ff" d="M977 82h4v4h-4zM977 90h4v4h-4zM965 110h4v4h-4zM977 170h4v4h-4zM1001 170h4v4h-4zM1013 190h4v4h-4zM1017 198h4v4h-4zM1021 206h4v4h-4zM1197 214h4v4h-4zM1209 214h4v4h-4zM1189 218h4v4h-4zM1205 218h4v4h-4zM1213 222h8v4h-8zM1033 226h4v4h-4zM1229 226h8v4h-8zM1185 238h4v4h-4zM1193 242h4v4h-4zM1201 242h4v4h-4zM1225 242h4v4h-4zM1229 246h4v4h-4zM1045 250h4v4h-4zM1197 250h4v4h-4zM1241 250h4v4h-4zM1201 254h4v4h-4zM1221 254h4v4h-4zM1049 258h4v4h-4zM1245 258h4v4h-4zM1261 262h4v4h-4zM1217 270h4v4h-4zM1229 274h4v4h-4zM1213 278h4v4h-4zM1073 282h4v4h-4zM1213 282h4v4h-4zM1221 282h4v4h-4zM1253 294h4v4h-4zM1245 298h4v4h-4zM1269 310h4v4h-4zM1281 310h1v4h-1zM1097 314h4v4h-4zM1277 318h4v4h-4zM1113 334h4v4h-4zM1141 346h4v4h-4zM1153 358h4v4h-4zM1153 378h4v4h-4z"/>
<path fill="#0065ff" d="M973 74h4v4h-4zM961 114h4v4h-4zM945 134h4v4h-4zM945 142h4v4h-4zM969 166h4v4h-4zM981 170h4v4h-4zM997 170h4v4h-4zM1009 178h4v4h-4zM1013 186h4v4h-4zM1169 186h4v4h-4zM1181 190h4v4h-4zM1173 194h4v4h-4zM1025 210h4v4h-4zM1029 214h4v4h-4zM1033 222h4v4h-4zM1037 234h4v4h-4zM1229 238h8v4h-8zM1253 238h4v4h-4zM1041 242h4v4h-4zM1233 242h4v4h-4zM1213 246h4v4h-4zM1233 254h4v4h-4zM1225 258h4v4h-4zM1261 258h4v4h-4zM1221 262h4v4h-4zM1253 262h4v4h-4zM1085 290h4v4h-4zM1093 306h4v4h-4zM1269 314h4v4h-4zM1277 314h4v4h-4zM1105 326h4v4h-4zM1109 330h4v4h-4zM1129 342h4v4h-4zM1153 394h4v4h-4z"/>
<path fill="#0068ff" d="M969 50h4v4h-4zM973 102h4v4h-4zM957 118h4v4h-4zM945 138h4v4h-4zM985 170h12v4h-12zM1005 170h4v4h-4zM1017 194h4v4h-4zM1185 194h4v4h-4zM1021 202h4v4h-4zM1213 210h4v4h-4zM1033 218h4v4h-4zM1249 234h4v4h-4zM1185 242h4v4h-4zM1245 242h4v4h-4zM1237 254h8v4h-8zM1189 258h4v4h-4zM1265 258h4v4h-4zM1053 262h4v4h-4zM1265 262h4v4h-4zM1193 266h4v4h-4zM1229 270h4v4h-4zM1069 278h4v4h-4zM1225 278h4v4h-4zM1089 298h4v4h-4zM1273 306h4v4h-4zM1281 314h1v4h-1zM1121 338h4v4h-4zM1153 382h4v4h-4z"/>
<path fill="#006dff" d="M969 66h4v4h-4zM949 126h4v4h-4zM965 162h4v4h-4zM973 166h4v4h-4zM1009 174h4v4h-4zM1013 182h4v4h-4zM1181 194h4v4h-4zM1169 198h4v4h-4zM1025 206h4v4h-4zM1205 214h4v4h-4zM1221 214h4v4h-4zM1225 230h4v4h-4zM1189 250h4v4h-4zM1049 254h4v4h-4zM1205 254h4v4h-4zM1261 254h4v4h-4zM1205 262h4v4h-4zM1057 266h4v4h-4zM1237 270h4v4h-4zM1065 274h4v4h-4zM1209 274h4v4h-4zM1077 282h4v4h-4zM1085 286h4v4h-4zM1093 302h4v4h-4zM1097 310h4v4h-4zM1273 310h4v4h-4zM1101 318h4v4h-4zM1117 334h4v4h-4zM1133 342h4v4h-4zM1145 346h4v4h-4zM1153 386h4v4h-4z"/>
<path fill="#0070ff" d="M977 78h4v4h-4zM977 94h4v4h-4zM953 122h4v4h-4zM949 150h4v4h-4zM957 158h4v4h-4zM1001 166h4v4h-4zM1013 178h4v4h-4zM1017 190h4v4h-4zM1169 190h4v4h-4zM1169 194h4v4h-4zM1021 198h4v4h-4zM1169 202h4v4h-4zM1029 210h4v4h-4zM1197 210h4v4h-4zM1225 222h4v4h-4zM1037 230h4v4h-4zM1205 230h4v4h-4zM1229 234h4v4h-4zM1041 238h4v4h-4zM1045 246h4v4h-4zM1221 258h4v4h-4zM1249 262h4v4h-4zM1061 270h4v4h-4zM1225 274h4v4h-4zM1205 278h4v4h-4zM1089 294h4v4h-4zM1105 322h4v4h-4zM1125 338h4v4h-4zM1153 390h4v4h-4z"/>
<path fill="#0075ff" d="M965 42h4v4h-4zM969 110h4v4h-4zM953 154h4v4h-4zM977 166h4v4h-4zM1009 170h4v4h-4zM1173 190h4v4h-4zM1033 214h4v4h-4zM1201 218h4v4h-4zM1037 226h4v4h-4zM1225 234h4v4h-4zM1233 234h4v4h-4zM1209 246h4v4h-4zM1253 246h8v4h-8zM1201 250h4v4h-4zM1053 258h4v4h-4zM1245 262h4v4h-4zM1185 266h4v4h-4zM1201 270h4v4h-4zM1073 278h4v4h-4zM1081 282h4v4h-4zM1089 290h4v4h-4zM1097 306h4v4h-4zM1101 314h4v4h-4zM1109 326h4v4h-4zM1113 330h4v4h-4zM1137 342h4v4h-4zM1149 350h4v4h-4z"/>
<path fill="#0078ff" d="M973 106h4v4h-4zM965 114h4v4h-4zM969 162h4v4h-4zM997 166h4v4h-4zM1005 166h4v4h-4zM1013 174h4v4h-4zM1017 186h4v4h-4zM1161 186h8v4h-8zM1021 194h4v4h-4zM1149 194h4v4h-4zM1025 202h4v4h-4zM1193 230h4v4h-4zM1197 234h4v4h-4zM1197 238h4v4h-4zM1241 238h4v4h-4zM1045 242h4v4h-4zM1249 242h4v4h-4zM1189 246h4v4h-4zM1049 250h4v4h-4zM1197 254h4v4h-4zM1229 254h4v4h-4zM1201 274h4v4h-4zM1233 286h4v4h-4zM1093 298h4v4h-4zM1261 306h4v4h-4zM1153 354h4v4h-4z"/>
<path fill="#007dff" d="M969 54h4v4h-4zM981 86h4v4h-4zM961 118h4v4h-4zM981 166h4v4h-4zM993 166h4v4h-4zM1017 182h4v4h-4zM1161 202h4v4h-4zM1173 202h4v4h-4zM1029 206h4v4h-4zM1217 214h4v4h-4zM1181 218h4v4h-4zM1037 222h4v4h-4zM1197 222h4v4h-4zM1041 234h4v4h-4zM1209 234h4v4h-4zM1193 238h4v4h-4zM1181 242h4v4h-4zM1217 246h4v4h-4zM1193 250h4v4h-4zM1181 254h4v4h-4zM1209 254h4v4h-4zM1205 258h4v4h-4zM1249 258h4v4h-4zM1057 262h4v4h-4zM1069 274h4v4h-4zM1085 282h4v4h-4zM1089 286h4v4h-4zM1121 334h4v4h-4zM1129 338h4v4h-4zM1141 342h4v4h-4zM1157 362h4v4h-4z"/>
<path fill="#0080ff" d="M969 46h4v4h-4zM973 70h4v4h-4zM949 130h4v4h-4zM949 146h4v4h-4zM961 158h4v4h-4zM973 162h4v4h-4zM985 166h8v4h-8zM1009 166h4v4h-4zM1013 170h4v4h-4zM1017 178h4v4h-4zM1153 186h4v4h-4zM1021 190h4v4h-4zM1025 198h4v4h-4zM1033 210h4v4h-4zM1037 218h4v4h-4zM1189 226h4v4h-4zM1053 254h4v4h-4zM1061 266h4v4h-4zM1065 270h4v4h-4zM1077 278h4v4h-4zM1093 294h4v4h-4zM1097 302h4v4h-4zM1101 310h4v4h-4zM1105 318h4v4h-4zM1145 342h4v4h-4zM1157 358h4v4h-4z"/>
<path fill="#0084ff" d="M969 62h4v4h-4zM977 98h4v4h-4zM1037 214h4v4h-4zM1217 226h4v4h-4zM1041 230h4v4h-4zM1045 238h4v4h-4zM1049 246h4v4h-4zM1205 246h4v4h-4zM1209 270h4v4h-4zM1205 274h4v4h-4zM1201 278h4v4h-4zM1089 282h4v4h-4zM1233 290h4v4h-4zM1109 322h4v4h-4zM1117 330h4v4h-4zM1157 366h4v4h-4z"/>
<path fill="#0089ff" d="M957 122h4v4h-4zM949 134h4v4h-4zM977 162h4v4h-4zM1001 162h4v4h-4zM1017 174h4v4h-4zM1021 186h4v4h-4zM1029 202h4v4h-4zM1181 226h8v4h-8zM1057 258h4v4h-4zM1073 274h4v4h-4zM1081 278h4v4h-4zM1093 290h4v4h-4zM1097 298h4v4h-4zM1101 306h4v4h-4zM1113 326h4v4h-4zM1125 334h4v4h-4zM1133 338h4v4h-4zM1157 402h4v4h-4z"/>
<path fill="#008cff" d="M969 58h4v4h-4zM977 74h4v4h-4zM981 82h4v4h-4zM953 126h4v4h-4zM949 142h4v4h-4zM965 158h4v4h-4zM997 162h4v4h-4zM1005 162h4v4h-4zM1013 166h4v4h-4zM1173 186h4v4h-4zM1189 190h4v4h-4zM1025 194h4v4h-4zM1173 198h4v4h-4zM1033 206h4v4h-4zM1181 222h4v4h-4zM1041 226h4v4h-4zM1213 234h4v4h-4zM1201 238h4v4h-4zM1049 242h4v4h-4zM1189 242h4v4h-4zM1193 246h4v4h-4zM1053 250h4v4h-4zM1213 250h4v4h-4zM1061 262h4v4h-4zM1201 266h4v4h-4zM1221 270h4v4h-4zM1093 286h4v4h-4zM1105 314h4v4h-4zM1149 346h4v4h-4z"/>
<path fill="#0090ff" d="M965 38h4v4h-4zM981 90h4v4h-4zM969 114h4v4h-4zM965 118h4v4h-4zM949 138h4v4h-4zM953 150h4v4h-4zM957 154h4v4h-4zM981 162h4v4h-4zM1009 162h4v4h-4zM1021 182h4v4h-4zM1177 190h4v4h-4zM1165 202h4v4h-4zM1037 210h4v4h-4zM1217 210h4v4h-4zM1205 222h4v4h-4zM1045 234h4v4h-4zM1185 254h4v4h-4zM1193 258h4v4h-4zM1065 266h4v4h-4zM1069 270h4v4h-4zM1101 302h4v4h-4zM1137 338h4v4h-4zM1157 370h4v4h-4z"/>
<path fill="#0094ff" d="M973 110h4v4h-4zM969 158h4v4h-4zM985 162h12v4h-12zM1017 170h4v4h-4zM1021 178h4v4h-4zM1025 190h4v4h-4zM1029 198h4v4h-4zM1041 222h4v4h-4zM1193 226h4v4h-4zM1193 234h4v4h-4zM1205 250h4v4h-4zM1057 254h4v4h-4zM1193 254h4v4h-4zM1245 254h4v4h-4zM1197 258h4v4h-4zM1233 258h4v4h-4zM1197 266h4v4h-4zM1077 274h4v4h-4zM1085 278h4v4h-4zM1093 282h4v4h-4zM1097 294h4v4h-4zM1121 330h4v4h-4zM1153 350h4v4h-4z"/>
<path fill="#0099ff" d="M961 122h4v4h-4zM1013 162h4v4h-4zM1161 198h4v4h-4zM1033 202h4v4h-4zM1041 218h4v4h-4zM1189 238h4v4h-4zM1053 246h4v4h-4zM1189 262h4v4h-4zM1109 318h4v4h-4zM1117 326h4v4h-4zM1129 334h4v4h-4zM1141 338h4v4h-4zM1157 374h4v4h-4zM1157 398h4v4h-4z"/>
<path fill="#009cff" d="M973 50h4v4h-4zM977 102h4v4h-4zM953 130h4v4h-4zM973 158h4v4h-4zM1001 158h4v4h-4zM1017 166h4v4h-4zM1021 174h4v4h-4zM1025 186h4v4h-4zM1029 194h4v4h-4zM1037 206h4v4h-4zM1041 214h4v4h-4zM1197 226h4v4h-4zM1045 230h4v4h-4zM1189 230h4v4h-4zM1049 238h4v4h-4zM1181 250h4v4h-4zM1061 258h4v4h-4zM1073 270h4v4h-4zM1233 270h4v4h-4zM1089 278h4v4h-4zM1097 290h4v4h-4zM1101 298h4v4h-4zM1105 310h4v4h-4zM1113 322h4v4h-4zM1145 338h4v4h-4z"/>
<path fill="#00a0ff" d="M953 146h4v4h-4zM961 154h4v4h-4zM997 158h4v4h-4zM1005 158h4v4h-4zM1025 182h4v4h-4zM1165 198h4v4h-4zM1193 210h4v4h-4zM1057 250h4v4h-4zM1065 262h4v4h-4zM1069 266h4v4h-4zM1081 274h4v4h-4zM1097 286h4v4h-4zM1149 342h4v4h-4zM1157 354h4v4h-4z"/>
<path fill="#00a4ff" d="M973 66h4v4h-4zM957 126h4v4h-4zM977 158h4v4h-4zM1009 158h4v4h-4zM1017 162h4v4h-4zM1025 178h4v4h-4zM1029 190h4v4h-4zM1161 194h4v4h-4zM1033 198h4v4h-4zM1041 210h4v4h-4zM1193 222h4v4h-4zM1045 226h4v4h-4zM1197 230h4v4h-4zM1053 242h4v4h-4zM1193 262h4v4h-4zM1097 282h4v4h-4zM1101 294h4v4h-4zM1105 306h4v4h-4zM1125 330h4v4h-4zM1133 334h4v4h-4zM1157 378h4v4h-4z"/>
<path fill="#00a9ff" d="M981 78h4v4h-4zM981 94h4v4h-4zM957 150h4v4h-4zM965 154h4v4h-4zM981 158h4v4h-4zM993 158h4v4h-4zM1013 158h4v4h-4zM1021 170h4v4h-4zM1037 202h4v4h-4zM1189 222h4v4h-4zM1201 222h4v4h-4zM1049 234h4v4h-4zM1093 278h4v4h-4zM1109 314h4v4h-4z"/>
<path fill="#00acff" d="M969 118h4v4h-4zM965 122h4v4h-4zM953 134h4v4h-4zM953 142h4v4h-4zM1001 154h8v4h-8zM985 158h8v4h-8zM1017 158h4v4h-4zM1025 174h4v4h-4zM1029 186h4v4h-4zM1161 190h4v4h-4zM1033 194h4v4h-4zM1041 206h4v4h-4zM1213 226h4v4h-4zM1061 254h4v4h-4zM1085 274h4v4h-4zM1101 290h4v4h-4zM1121 326h4v4h-4zM1157 394h4v4h-4z"/>
<path fill="#00b0ff" d="M985 86h4v4h-4zM977 106h4v4h-4zM953 138h4v4h-4zM969 154h4v4h-4zM1009 154h8v4h-8zM1021 166h4v4h-4zM1045 222h4v4h-4zM1057 246h4v4h-4zM1197 246h4v4h-4zM1077 270h4v4h-4zM1105 302h4v4h-4zM1113 318h4v4h-4zM1137 334h4v4h-4zM1157 382h4v4h-4z"/>
<path fill="#00b4ff" d="M1005 150h4v4h-4zM997 154h4v4h-4zM1029 182h4v4h-4zM1037 198h4v4h-4zM1053 238h4v4h-4zM1097 278h4v4h-4zM1117 322h4v4h-4zM1129 330h4v4h-4z"/>
<path fill="#00b9ff" d="M977 70h4v4h-4zM973 114h4v4h-4zM961 126h4v4h-4zM957 130h4v4h-4zM1001 150h4v4h-4zM1009 150h4v4h-4zM973 154h4v4h-4zM1017 154h4v4h-4zM1021 162h4v4h-4zM1029 178h4v4h-4zM1033 190h4v4h-4zM1041 202h4v4h-4zM1045 218h4v4h-4zM1049 230h4v4h-4zM1065 258h4v4h-4zM1069 262h4v4h-4zM1073 266h4v4h-4zM1205 270h4v4h-4zM1089 274h4v4h-4zM1101 286h4v4h-4zM1105 298h4v4h-4zM1109 310h4v4h-4zM1141 334h4v4h-4zM1153 346h4v4h-4z"/>
<path fill="#00bcff" d="M981 74h4v4h-4zM985 82h4v4h-4zM957 146h4v4h-4zM961 150h4v4h-4zM1013 150h4v4h-4zM977 154h4v4h-4zM1021 158h4v4h-4zM1025 170h4v4h-4zM1045 214h4v4h-4zM1201 246h4v4h-4zM1145 334h4v4h-4zM1149 338h4v4h-4zM1157 386h4v4h-4zM1157 390h4v4h-4z"/>
<path fill="#00c0ff" d="M973 54h4v4h-4zM981 98h4v4h-4zM1005 146h8v4h-8zM1017 150h4v4h-4zM981 154h4v4h-4zM993 154h4v4h-4zM1029 174h4v4h-4zM1033 186h4v4h-4zM1037 194h4v4h-4zM1061 250h4v4h-4zM1081 270h4v4h-4zM1101 282h4v4h-4zM1105 294h4v4h-4zM1125 326h4v4h-4zM1133 330h4v4h-4z"/>
<path fill="#00c4ff" d="M969 42h4v4h-4zM1001 146h4v4h-4zM1013 146h4v4h-4zM985 154h8v4h-8zM1021 154h4v4h-4zM1025 166h4v4h-4zM1041 198h4v4h-4zM1045 210h4v4h-4zM1049 226h4v4h-4zM1057 242h4v4h-4zM1181 258h4v4h-4zM1109 306h4v4h-4zM1113 314h4v4h-4zM1161 358h4v4h-4z"/>
<path fill="#00c9ff" d="M977 110h4v4h-4zM957 134h4v4h-4zM965 150h4v4h-4zM997 150h4v4h-4zM1033 182h4v4h-4zM1037 190h4v4h-4zM1053 234h4v4h-4zM1065 254h4v4h-4zM1093 274h4v4h-4zM1101 278h4v4h-4zM1117 318h4v4h-4zM1121 322h4v4h-4z"/>
<path fill="#00ccff" d="M973 62h4v4h-4zM985 90h4v4h-4zM965 126h4v4h-4zM957 142h4v4h-4zM1005 142h8v4h-8zM1017 146h4v4h-4zM969 150h4v4h-4zM1021 150h4v4h-4zM1025 162h4v4h-4zM1029 170h4v4h-4zM1045 206h4v4h-4zM1201 230h4v4h-4zM1077 266h4v4h-4zM1085 270h4v4h-4zM1105 290h4v4h-4zM1109 302h4v4h-4zM1157 350h4v4h-4zM1161 362h4v4h-4z"/>
<path fill="#00d0ff" d="M973 46h4v4h-4zM969 122h4v4h-4zM961 130h4v4h-4zM957 138h4v4h-4zM1001 142h4v4h-4zM1013 142h4v4h-4zM1025 158h4v4h-4zM1041 194h4v4h-4zM1045 202h4v4h-4zM1049 222h4v4h-4zM1061 246h4v4h-4zM1069 258h4v4h-4zM1073 262h4v4h-4zM1129 326h4v4h-4zM1137 330h4v4h-4z"/>
<path fill="#00d4ff" d="M973 150h4v4h-4zM1025 154h4v4h-4zM1033 178h4v4h-4zM1057 238h4v4h-4zM1185 258h4v4h-4zM1097 274h4v4h-4zM1105 286h4v4h-4zM1113 310h4v4h-4zM1161 366h4v4h-4zM1161 402h4v4h-4z"/>
<path fill="#00d9ff" d="M961 146h4v4h-4zM1021 146h4v4h-4zM993 150h4v4h-4zM1029 166h4v4h-4zM1033 174h4v4h-4zM1037 186h4v4h-4zM1045 198h4v4h-4zM1049 218h4v4h-4zM1053 230h4v4h-4zM1089 270h4v4h-4zM1109 298h4v4h-4zM1141 330h4v4h-4z"/>
<path fill="#00dcff" d="M973 58h4v4h-4zM1017 142h4v4h-4zM997 146h4v4h-4zM977 150h4v4h-4zM1025 150h4v4h-4zM1065 250h4v4h-4zM1081 266h4v4h-4zM1125 322h4v4h-4zM1145 330h4v4h-4zM1149 334h4v4h-4zM1153 342h4v4h-4zM1161 354h4v4h-4zM1161 370h4v4h-4z"/>
<path fill="#00e0ff" d="M973 118h4v4h-4zM1001 138h4v4h-4zM981 150h4v4h-4zM989 150h4v4h-4zM1029 162h4v4h-4zM1033 170h4v4h-4zM1041 190h4v4h-4zM1049 214h4v4h-4zM1061 242h4v4h-4zM1197 242h4v4h-4zM1101 274h4v4h-4zM1105 282h4v4h-4zM1109 294h4v4h-4zM1117 314h4v4h-4zM1121 318h4v4h-4zM1133 326h4v4h-4zM1161 398h4v4h-4z"/>
<path fill="#00e4ff" d="M981 102h4v4h-4zM1005 138h4v4h-4zM985 150h4v4h-4zM1037 182h4v4h-4zM1049 210h4v4h-4zM1053 226h4v4h-4zM1057 234h4v4h-4zM1069 254h4v4h-4zM1093 270h4v4h-4zM1105 278h4v4h-4zM1113 306h4v4h-4zM1161 374h4v4h-4z"/>
<path fill="#00e9ff" d="M977 50h4v4h-4zM1029 158h4v4h-4zM1045 194h4v4h-4zM1073 258h4v4h-4zM1077 262h4v4h-4z"/>
<path fill="#00ecff" d="M1009 138h4v4h-4zM1025 146h4v4h-4zM1029 154h4v4h-4zM1033 166h4v4h-4zM1153 190h4v4h-4zM1049 206h4v4h-4zM1065 246h4v4h-4zM1085 266h4v4h-4zM1105 274h4v4h-4zM1109 290h4v4h-4zM1113 302h4v4h-4zM1129 322h4v4h-4zM1161 378h4v4h-4z"/>
<path fill="#00f0ff" d="M965 130h4v4h-4zM1021 142h4v4h-4zM1037 178h4v4h-4zM1041 186h4v4h-4zM1165 194h4v4h-4zM1053 222h4v4h-4zM1061 238h4v4h-4zM1185 246h4v4h-4zM1117 310h4v4h-4zM1137 326h4v4h-4zM1161 394h4v4h-4z"/>
<path fill="#00f4ff" d="M977 66h4v4h-4zM977 114h4v4h-4zM961 134h4v4h-4zM1013 138h4v4h-4zM997 142h4v4h-4zM965 146h4v4h-4zM1029 150h4v4h-4zM1049 202h4v4h-4zM1057 230h4v4h-4zM1097 270h4v4h-4zM1109 286h4v4h-4zM1125 318h4v4h-4zM1157 346h4v4h-4z"/>
<path fill="#00f9ff" d="M969 126h4v4h-4zM997 138h4v4h-4zM961 142h4v4h-4zM1037 170h4v4h-4zM1037 174h4v4h-4zM1053 218h4v4h-4zM1069 250h4v4h-4zM1089 266h4v4h-4zM1113 298h4v4h-4zM1121 314h4v4h-4zM1149 330h4v4h-4zM1161 382h4v4h-4z"/>
<path fill="#00fcff" d="M973 146h4v4h-4zM1033 162h4v4h-4zM1045 190h4v4h-4zM1157 190h4v4h-4zM1049 198h4v4h-4zM1065 242h4v4h-4zM1081 262h4v4h-4zM1109 282h4v4h-4zM1141 326h4v4h-4zM1153 338h4v4h-4z"/>
<path fill="#01fffe" d="M969 146h4v4h-4zM1041 182h4v4h-4zM1053 214h4v4h-4zM1061 234h4v4h-4zM1073 254h4v4h-4zM1077 258h4v4h-4zM1101 270h4v4h-4zM1113 294h4v4h-4zM1117 306h4v4h-4zM1133 322h4v4h-4zM1145 326h4v4h-4zM1161 386h4v4h-4zM1161 390h4v4h-4z"/>
<path fill="#05fffa" d="M985 94h4v4h-4zM961 138h4v4h-4zM993 146h4v4h-4zM1033 158h4v4h-4zM1037 166h4v4h-4zM1049 194h4v4h-4zM1057 226h4v4h-4zM1109 278h4v4h-4zM1161 350h4v4h-4z"/>
<path fill="#0afff5" d="M985 78h4v4h-4zM1017 138h4v4h-4zM1053 210h4v4h-4zM1093 266h4v4h-4zM1109 274h4v4h-4zM1113 290h4v4h-4zM1129 318h4v4h-4zM1165 358h4v4h-4z"/>
<path fill="#0efff2" d="M981 70h4v4h-4zM1029 146h4v4h-4zM1033 154h4v4h-4zM1041 178h4v4h-4zM1045 186h4v4h-4zM1165 190h4v4h-4zM1069 246h4v4h-4zM1085 262h4v4h-4zM1105 270h4v4h-4zM1117 302h4v4h-4zM1121 310h4v4h-4z"/>
<path fill="#11ffee" d="M977 146h4v4h-4zM1053 206h4v4h-4zM1065 238h4v4h-4zM1125 314h4v4h-4zM1137 322h4v4h-4zM1165 362h4v4h-4zM1165 406h4v1h-4z"/>
<path fill="#15ffea" d="M969 38h4v4h-4zM973 122h4v4h-4zM1001 134h4v4h-4zM1041 174h4v4h-4zM1049 190h4v4h-4zM1057 222h4v4h-4zM1061 230h4v4h-4zM1097 266h4v4h-4zM1113 286h4v4h-4zM1117 298h4v4h-4zM1149 326h4v4h-4zM1165 354h4v4h-4z"/>
<path fill="#1affe5" d="M989 82h4v4h-4zM997 134h4v4h-4zM1025 142h4v4h-4zM1033 150h4v4h-4zM1041 170h4v4h-4zM1045 182h4v4h-4zM1053 202h4v4h-4zM1073 250h4v4h-4zM1109 270h4v4h-4zM1153 334h4v4h-4zM1157 342h4v4h-4zM1165 366h4v4h-4zM1165 402h4v4h-4z"/>
<path fill="#1effe2" d="M981 146h4v4h-4zM1037 162h4v4h-4zM1157 194h4v4h-4zM1077 254h4v4h-4zM1081 258h4v4h-4zM1089 262h4v4h-4zM1113 282h4v4h-4zM1133 318h4v4h-4z"/>
<path fill="#21ffde" d="M981 106h4v4h-4zM989 146h4v4h-4zM1041 166h4v4h-4zM1053 198h4v4h-4zM1057 218h4v4h-4zM1069 242h4v4h-4zM1117 294h4v4h-4zM1121 306h4v4h-4zM1165 370h4v4h-4z"/>
<path fill="#25ffda" d="M1005 134h4v4h-4zM985 146h4v4h-4zM1049 186h4v4h-4zM1065 234h4v4h-4zM1101 266h4v4h-4zM1113 278h4v4h-4zM1129 314h4v4h-4zM1141 322h4v4h-4z"/>
<path fill="#2affd5" d="M989 86h4v4h-4zM1045 178h4v4h-4zM1053 194h4v4h-4zM1057 214h4v4h-4zM1061 226h4v4h-4zM1113 270h4v4h-4zM1113 274h4v4h-4zM1117 290h4v4h-4zM1125 310h4v4h-4zM1165 398h4v4h-4z"/>
<path fill="#2effd2" d="M965 134h4v4h-4zM1037 158h4v4h-4zM1093 262h4v4h-4zM1121 302h4v4h-4zM1145 322h4v4h-4zM1161 346h4v4h-4zM1165 374h4v4h-4z"/>
<path fill="#31ffce" d="M1045 174h4v4h-4zM1053 190h4v4h-4zM1057 210h4v4h-4zM1073 246h4v4h-4zM1085 258h4v4h-4zM1149 322h4v4h-4z"/>
<path fill="#35ffca" d="M1021 138h4v4h-4zM1037 154h4v4h-4zM1045 170h4v4h-4zM1049 182h4v4h-4zM1069 238h4v4h-4zM1105 266h4v4h-4zM1117 286h4v4h-4zM1121 298h4v4h-4zM1153 330h4v4h-4z"/>
<path fill="#3affc5" d="M993 134h4v4h-4zM1009 134h4v4h-4zM1057 206h4v4h-4zM1061 222h4v4h-4zM1065 230h4v4h-4zM1077 250h4v4h-4zM1137 318h4v4h-4zM1157 338h4v4h-4zM1165 378h4v4h-4z"/>
<path fill="#3effc2" d="M977 54h4v4h-4zM969 130h4v4h-4zM965 142h4v4h-4zM993 142h4v4h-4zM1081 254h4v4h-4zM1097 262h4v4h-4zM1117 282h4v4h-4zM1125 306h4v4h-4zM1133 314h4v4h-4zM1165 350h4v4h-4zM1165 394h4v4h-4z"/>
<path fill="#42ffbe" d="M973 42h4v4h-4zM1041 162h4v4h-4zM1045 166h4v4h-4zM1057 202h4v4h-4zM1109 266h4v4h-4zM1121 294h4v4h-4zM1129 310h4v4h-4z"/>
<path fill="#45ffba" d="M1033 146h4v4h-4zM1049 178h4v4h-4zM1053 186h4v4h-4zM1061 218h4v4h-4zM1073 242h4v4h-4zM1089 258h4v4h-4zM1117 278h4v4h-4zM1165 382h4v4h-4z"/>
<path fill="#4affb5" d="M985 74h4v4h-4zM1057 198h4v4h-4zM1069 234h4v4h-4zM1101 262h4v4h-4zM1113 266h4v4h-4zM1117 270h4v4h-4zM1117 274h4v4h-4zM1121 290h4v4h-4z"/>
<path fill="#4effb2" d="M1013 134h4v4h-4zM993 138h4v4h-4zM973 142h4v4h-4zM1049 174h4v4h-4zM1065 226h4v4h-4zM1125 302h4v4h-4zM1153 326h4v4h-4z"/>
<path fill="#52ffae" d="M977 46h4v4h-4zM985 98h4v4h-4zM1037 150h4v4h-4zM1057 194h4v4h-4zM1061 214h4v4h-4zM1077 246h4v4h-4zM1093 258h4v4h-4zM1117 266h4v4h-4z"/>
<path fill="#55ffaa" d="M1029 142h4v4h-4zM1049 170h4v4h-4zM1085 254h4v4h-4zM1121 286h4v4h-4zM1141 318h4v4h-4zM1165 386h4v4h-4zM1165 390h4v4h-4z"/>
<path fill="#5affa5" d="M977 118h4v4h-4zM1053 182h4v4h-4zM1057 190h4v4h-4zM1061 210h4v4h-4zM1073 238h4v4h-4zM1081 250h4v4h-4zM1105 262h4v4h-4zM1125 298h4v4h-4zM1157 334h4v4h-4zM1161 342h4v4h-4zM1169 358h4v4h-4z"/>
<path fill="#5effa2" d="M1041 158h4v4h-4zM1069 230h4v4h-4zM1129 306h4v4h-4zM1169 354h4v4h-4z"/>
<path fill="#62ff9e" d="M977 62h4v4h-4zM981 110h4v4h-4zM1061 206h4v4h-4zM1065 222h4v4h-4zM1097 258h4v4h-4zM1121 282h4v4h-4z"/>
<path fill="#65ff9a" d="M1049 166h4v4h-4zM1057 186h4v4h-4zM1125 294h4v4h-4zM1149 318h4v4h-4zM1169 362h4v4h-4z"/>
<path fill="#6aff95" d="M1017 134h4v4h-4zM1045 162h4v4h-4zM1053 178h4v4h-4zM1061 202h4v4h-4zM1077 242h4v4h-4zM1089 254h4v4h-4zM1109 262h4v4h-4zM1121 266h4v4h-4zM1133 310h4v4h-4zM1137 314h4v4h-4zM1145 318h4v4h-4zM1153 322h4v4h-4zM1169 406h4v1h-4z"/>
<path fill="#6eff92" d="M973 126h4v4h-4zM1025 138h4v4h-4zM969 142h4v4h-4zM1065 218h4v4h-4zM1073 234h4v4h-4zM1121 270h4v4h-4zM1121 278h4v4h-4z"/>
<path fill="#72ff8e" d="M1101 258h4v4h-4zM1113 262h4v4h-4zM1121 274h4v4h-4zM1165 346h4v4h-4zM1169 366h4v4h-4z"/>
<path fill="#75ff8a" d="M1041 154h4v4h-4zM1061 198h4v4h-4zM1069 226h4v4h-4zM1081 246h4v4h-4zM1125 290h4v4h-4zM1169 402h4v4h-4z"/>
<path fill="#7aff85" d="M981 50h4v4h-4zM989 90h4v4h-4zM1053 174h4v4h-4zM1065 214h4v4h-4zM1085 250h4v4h-4zM1117 262h4v4h-4z"/>
<path fill="#7eff82" d="M965 138h4v4h-4zM1061 194h4v4h-4zM1149 198h4v4h-4zM1093 254h4v4h-4zM1157 330h4v4h-4zM1169 370h4v4h-4z"/>
<path fill="#82ff7e" d="M1053 170h4v4h-4zM1057 182h4v4h-4zM1077 238h4v4h-4zM1125 286h4v4h-4z"/>
<path fill="#85ff7a" d="M1065 210h4v4h-4zM1073 230h4v4h-4zM1105 258h4v4h-4zM1121 262h4v4h-4zM1129 302h4v4h-4zM1161 338h4v4h-4z"/>
<path fill="#89ff76" d="M1001 130h4v4h-4zM1061 190h4v4h-4zM1169 398h4v4h-4z"/>
<path fill="#8dff72" d="M981 54h4v4h-4zM977 142h4v4h-4zM1065 206h4v4h-4zM1069 222h4v4h-4zM1097 254h4v4h-4zM1125 266h4v4h-4zM1125 282h4v4h-4zM1153 318h4v4h-4zM1169 350h4v4h-4zM1169 374h4v4h-4z"/>
<path fill="#92ff6d" d="M1053 166h4v4h-4zM1061 186h4v4h-4zM1081 242h4v4h-4z"/>
<path fill="#96ff69" d="M997 130h4v4h-4zM1057 178h4v4h-4zM1077 234h4v4h-4zM1089 250h4v4h-4zM1109 258h4v4h-4z"/>
<path fill="#9aff65" d="M1049 162h4v4h-4zM1065 202h4v4h-4zM1141 314h4v4h-4z"/>
<path fill="#9eff62" d="M985 102h4v4h-4zM1069 218h4v4h-4zM1073 226h4v4h-4zM1085 246h4v4h-4zM1125 278h4v4h-4zM1129 298h4v4h-4zM1133 306h4v4h-4zM1169 378h4v4h-4z"/>
<path fill="#a2ff5e" d="M981 66h4v4h-4zM1037 146h4v4h-4zM1101 254h4v4h-4zM1113 258h4v4h-4zM1125 262h4v4h-4zM1125 270h4v4h-4zM1137 310h4v4h-4zM1157 326h4v4h-4z"/>
<path fill="#a5ff5a" d="M977 58h4v4h-4zM1045 158h4v4h-4zM1065 198h4v4h-4zM1125 274h4v4h-4zM1169 394h4v4h-4z"/>
<path fill="#a9ff56" d="M989 78h4v4h-4zM969 134h4v4h-4zM1041 150h4v4h-4zM1057 174h4v4h-4zM1093 250h4v4h-4zM1165 342h4v4h-4z"/>
<path fill="#adff52" d="M989 142h4v4h-4zM1061 182h4v4h-4zM1069 214h4v4h-4zM1081 238h4v4h-4zM1117 258h4v4h-4zM1129 294h4v4h-4zM1161 334h4v4h-4z"/>
<path fill="#b2ff4d" d="M1033 142h4v4h-4zM1057 170h4v4h-4zM1065 194h4v4h-4zM1077 230h4v4h-4zM1121 258h4v4h-4zM1149 314h4v4h-4z"/>
<path fill="#b6ff49" d="M1005 130h4v4h-4zM981 142h4v4h-4zM1069 210h4v4h-4zM1105 254h4v4h-4zM1145 314h4v4h-4zM1169 382h4v4h-4z"/>
<path fill="#baff45" d="M1065 190h4v4h-4zM1073 222h4v4h-4zM1129 262h4v4h-4zM1129 290h4v4h-4zM1153 314h4v4h-4z"/>
<path fill="#beff42" d="M993 74h4v4h-4zM977 122h4v4h-4zM1021 134h4v4h-4zM1145 194h4v4h-4zM1085 242h4v4h-4zM1089 246h4v4h-4zM1097 250h4v4h-4zM1125 258h4v4h-4zM1129 266h4v4h-4zM1173 354h4v4h-4z"/>
<path fill="#c2ff3e" d="M989 134h4v4h-4zM985 142h4v4h-4zM1065 186h4v4h-4zM1069 206h4v4h-4z"/>
<path fill="#c5ff3a" d="M993 130h4v4h-4zM1057 166h4v4h-4zM1061 178h4v4h-4zM1081 234h4v4h-4zM1109 254h4v4h-4zM1129 286h4v4h-4zM1157 322h4v4h-4zM1173 358h4v4h-4z"/>
<path fill="#c9ff36" d="M1069 202h4v4h-4zM1077 226h4v4h-4zM1133 302h4v4h-4zM1169 346h4v4h-4zM1169 386h4v4h-4zM1169 390h4v4h-4z"/>
<path fill="#cdff32" d="M989 102h4v4h-4zM1073 218h4v4h-4z"/>
<path fill="#d2ff2d" d="M993 86h4v4h-4zM1053 162h4v4h-4zM1141 194h4v4h-4zM1149 202h4v4h-4zM1101 250h4v4h-4zM1129 282h4v4h-4z"/>
<path fill="#d6ff29" d="M985 106h4v4h-4zM973 130h4v4h-4zM1065 182h4v4h-4zM1069 198h4v4h-4zM1113 254h4v4h-4zM1129 258h4v4h-4zM1133 262h4v4h-4zM1173 362h4v4h-4z"/>
<path fill="#daff25" d="M989 70h4v4h-4zM997 86h4v4h-4zM985 118h4v4h-4zM977 138h4v4h-4zM1061 174h4v4h-4zM1085 238h4v4h-4zM1093 246h4v4h-4zM1129 278h4v4h-4z"/>
<path fill="#deff21" d="M993 90h4v4h-4zM981 118h4v4h-4zM1029 138h4v4h-4zM1073 214h4v4h-4zM1081 230h4v4h-4zM1117 254h4v4h-4zM1129 270h4v4h-4zM1137 306h4v4h-4zM1141 310h4v4h-4zM1161 330h4v4h-4z"/>
<path fill="#e2ff1e" d="M993 78h4v4h-4zM985 114h4v4h-4zM1009 130h4v4h-4zM1045 154h4v4h-4zM1069 194h4v4h-4zM1145 202h4v4h-4zM1077 222h4v4h-4zM1089 242h4v4h-4zM1105 250h4v4h-4zM1121 254h4v4h-4z"/>
<path fill="#e5ff1a" d="M997 82h4v4h-4zM1149 206h4v4h-4zM1073 210h4v4h-4zM1129 274h4v4h-4z"/>
<path fill="#e9ff16" d="M993 94h4v4h-4zM1061 170h4v4h-4zM1069 190h4v4h-4zM1137 194h4v4h-4zM1125 254h4v4h-4zM1133 266h4v4h-4zM1157 318h4v4h-4zM1165 338h4v4h-4zM1173 366h4v4h-4z"/>
<path fill="#edff12" d="M997 78h4v4h-4zM1097 246h4v4h-4zM1133 298h4v4h-4z"/>
<path fill="#f2ff0d" d="M1065 178h4v4h-4zM1069 186h4v4h-4zM1073 206h4v4h-4zM1085 234h4v4h-4zM1133 258h4v4h-4z"/>
<path fill="#f6ff09" d="M1141 202h4v4h-4zM1081 226h4v4h-4zM1109 250h4v4h-4zM1129 254h4v4h-4zM1173 350h4v4h-4z"/>
<path fill="#faff05" d="M981 62h4v4h-4zM989 106h4v4h-4zM1073 202h4v4h-4zM1133 294h4v4h-4z"/>
<path fill="#feff01" d="M977 126h4v4h-4zM1133 194h4v4h-4zM1077 218h4v4h-4zM1101 246h4v4h-4zM1173 402h4v4h-4z"/>
<path fill="#fffc00" d="M993 98h4v4h-4zM981 122h4v4h-4zM989 138h4v4h-4zM1049 158h4v4h-4zM1069 182h4v4h-4zM1089 238h4v4h-4zM1137 262h4v4h-4zM1173 370h4v4h-4z"/>
<path fill="#fff900" d="M989 66h4v4h-4zM1065 174h4v4h-4zM1133 190h4v4h-4zM1073 198h4v4h-4zM1145 206h4v4h-4zM1085 230h4v4h-4zM1093 242h4v4h-4zM1113 250h4v4h-4zM1133 290h4v4h-4z"/>
<path fill="#fff500" d="M985 62h4v4h-4zM981 126h4v4h-4zM973 134h4v4h-4zM1149 310h8v4h-8zM1161 326h4v4h-4z"/>
<path fill="#fff100" d="M977 130h4v4h-4zM1061 166h4v4h-4zM1129 190h4v4h-4zM1077 214h4v4h-4zM1081 222h4v4h-4zM1117 250h4v4h-4zM1133 254h4v4h-4z"/>
<path fill="#ffec00" d="M973 38h4v4h-4zM1013 130h4v4h-4zM981 138h4v4h-4zM1073 194h4v4h-4zM1105 246h4v4h-4zM1133 286h4v4h-4zM1137 302h4v4h-4zM1145 310h4v4h-4zM1169 342h4v4h-4z"/>
<path fill="#ffe800" d="M1133 198h4v4h-4zM1137 202h4v4h-4zM1077 210h4v4h-4zM1121 250h4v4h-4zM1137 258h4v4h-4zM1137 266h4v4h-4zM1173 374h4v4h-4zM1173 398h4v4h-4z"/>
<path fill="#ffe400" d="M977 134h4v4h-4zM1069 178h4v4h-4zM1073 190h4v4h-4zM1129 194h4v4h-4zM1097 242h4v4h-4zM1125 250h4v4h-4zM1133 270h4v4h-4zM1133 282h4v4h-4zM1157 314h4v4h-4z"/>
<path fill="#ffe000" d="M981 58h4v4h-4zM1125 186h4v4h-4zM1125 190h4v4h-4zM1085 226h4v4h-4zM1089 234h4v4h-4zM1165 334h4v4h-4z"/>
<path fill="#ffdc00" d="M1057 162h4v4h-4zM1073 186h4v4h-4zM1077 206h4v4h-4zM1141 206h4v4h-4zM1109 246h4v4h-4zM1129 250h4v4h-4zM1141 306h4v4h-4z"/>
<path fill="#ffd900" d="M977 42h4v4h-4zM1081 218h4v4h-4zM1133 278h4v4h-4zM1173 378h4v4h-4z"/>
<path fill="#ffd500" d="M1025 134h4v4h-4zM1121 182h4v4h-4zM1077 202h4v4h-4zM1093 238h4v4h-4zM1101 242h4v4h-4zM1133 250h4v4h-4zM1137 254h4v4h-4z"/>
<path fill="#ffd100" d="M989 130h4v4h-4zM1073 182h4v4h-4z"/>
<path fill="#ffcc00" d="M981 46h4v4h-4zM1077 198h4v4h-4zM1089 230h4v4h-4zM1113 246h4v4h-4zM1133 274h4v4h-4zM1161 322h4v4h-4zM1173 346h4v4h-4z"/>
<path fill="#ffc800" d="M989 58h4v4h-4zM1041 146h4v4h-4zM1085 222h4v4h-4z"/>
<path fill="#ffc400" d="M1017 130h4v4h-4zM1069 174h4v4h-4zM1117 182h4v4h-4zM1121 190h4v4h-4zM1125 194h4v4h-4zM1129 198h4v4h-4zM1133 202h4v4h-4zM1137 206h4v4h-4zM1081 214h4v4h-4zM1177 382h4v4h-4zM1173 390h4v4h-4z"/>
<path fill="#ffc000" d="M1117 186h4v4h-4zM1077 194h4v4h-4zM1105 242h4v4h-4zM1117 246h4v4h-4zM1141 262h4v4h-4zM1173 386h4v4h-4z"/>
<path fill="#ffbc00" d="M985 50h4v4h-4zM989 54h4v4h-4zM1045 150h4v4h-4zM1073 178h4v4h-4zM1137 250h4v4h-4zM1177 350h8v4h-8zM1177 362h4v4h-4zM1177 378h4v4h-4zM1177 406h4v1h-4z"/>
<path fill="#ffb900" d="M1065 170h4v4h-4zM1093 234h4v4h-4zM1097 238h4v4h-4zM1165 330h4v4h-4zM1181 362h4v4h-4zM1177 386h4v4h-4zM1177 390h4v4h-4zM1177 394h4v4h-4zM1177 398h4v4h-4z"/>
<path fill="#ffb500" d="M1077 190h4v4h-4zM1081 210h4v4h-4zM1089 226h4v4h-4zM1121 246h8v4h-8zM1141 258h4v4h-4zM1177 346h4v4h-4zM1181 354h4v4h-4zM1177 370h4v4h-4zM1177 374h4v4h-4zM1177 402h4v4h-4z"/>
<path fill="#ffb100" d="M1001 126h4v4h-4zM985 130h4v4h-4zM1109 242h4v4h-4zM1137 298h4v4h-4zM1177 342h4v4h-4zM1181 358h4v4h-4z"/>
<path fill="#ffac00" d="M997 126h4v4h-4zM1081 206h4v4h-4zM1085 218h4v4h-4zM1157 310h4v4h-4zM1173 342h4v4h-4z"/>
<path fill="#ffa800" d="M989 50h4v4h-4zM1077 186h4v4h-4zM1129 246h8v4h-8zM1141 254h4v4h-4zM1161 318h4v4h-4zM1169 330h4v4h-4z"/>
<path fill="#ffa400" d="M1081 202h4v4h-4zM1101 238h4v4h-4zM1137 270h4v4h-4z"/>
<path fill="#ffa000" d="M1077 182h4v4h-4zM1113 186h4v4h-4zM1117 190h4v4h-4zM1121 194h4v4h-4zM1125 198h4v4h-4zM1129 202h4v4h-4zM1133 206h4v4h-4zM1137 210h4v4h-4zM1093 230h4v4h-4zM1141 266h4v4h-4z"/>
<path fill="#ff9c00" d="M1033 138h4v4h-4zM1053 158h4v4h-4zM1081 198h4v4h-4zM1089 222h4v4h-4zM1113 242h4v4h-4zM1137 246h4v4h-4zM1165 326h8v4h-8zM1173 338h4v4h-4z"/>
<path fill="#ff9900" d="M989 126h4v4h-4zM1113 178h4v4h-4zM1109 182h4v4h-4zM1085 214h4v4h-4zM1105 238h4v4h-4zM1141 250h4v4h-4zM1169 334h4v4h-4z"/>
<path fill="#ff9500" d="M993 122h4v4h-4zM1001 122h8v4h-8zM1077 178h4v4h-4zM1081 194h4v4h-4zM1097 234h4v4h-4zM1117 242h4v4h-4zM1137 294h4v4h-4zM1165 322h4v4h-4z"/>
<path fill="#ff9100" d="M1085 210h4v4h-4zM1093 226h4v4h-4zM1121 242h4v4h-4z"/>
<path fill="#ff8c00" d="M1009 126h4v4h-4zM1105 182h4v4h-4zM1081 190h4v4h-4zM1089 218h4v4h-4zM1109 238h4v4h-4zM1125 242h4v4h-4zM1165 314h4v4h-4z"/>
<path fill="#ff8800" d="M997 122h4v4h-4zM1021 130h4v4h-4zM1073 174h4v4h-4zM1081 186h4v4h-4zM1109 186h4v4h-4zM1113 190h4v4h-4zM1117 194h4v4h-4zM1121 198h4v4h-4zM1125 202h4v4h-4zM1085 206h4v4h-4zM1129 206h4v4h-4zM1133 210h4v4h-4zM1129 242h4v4h-4zM1137 290h4v4h-4z"/>
<path fill="#ff8400" d="M1041 138h4v4h-4zM1085 202h4v4h-4zM1097 230h4v4h-4zM1101 234h4v4h-4zM1133 242h4v4h-4zM1141 246h4v4h-4zM1141 302h4v4h-4zM1153 306h4v4h-4zM1165 318h4v4h-4z"/>
<path fill="#ff8000" d="M1061 162h4v4h-4zM1089 174h4v4h-4zM1109 178h4v4h-4zM1081 182h4v4h-4zM1101 182h4v4h-4zM1137 214h4v4h-4zM1093 222h4v4h-4zM1113 238h4v4h-4zM1137 286h4v4h-4zM1145 306h8v4h-8z"/>
<path fill="#ff7d00" d="M985 46h4v4h-4zM1041 142h4v4h-4zM1049 154h4v4h-4zM1085 174h4v4h-4zM1085 198h4v4h-4zM1089 214h4v4h-4zM1137 242h4v4h-4z"/>
<path fill="#ff7900" d="M1017 126h4v4h-4zM1033 134h4v4h-4zM1081 178h4v4h-4zM1093 178h4v4h-4zM1105 234h4v4h-4zM1157 306h4v4h-4z"/>
<path fill="#ff7500" d="M1081 174h4v4h-4zM1105 186h4v4h-4zM1085 194h4v4h-4zM1097 226h4v4h-4zM1117 238h4v4h-4zM1137 282h4v4h-4zM1161 306h4v4h-4z"/>
<path fill="#ff7100" d="M1021 126h4v4h-4zM1065 166h4v4h-4zM1077 174h4v4h-4zM1093 174h4v4h-4zM1097 178h4v4h-4zM1097 182h4v4h-4zM1109 190h4v4h-4zM1113 194h4v4h-4zM1117 198h4v4h-4zM1121 202h4v4h-4zM1125 206h4v4h-4zM1089 210h4v4h-4zM1129 210h4v4h-4zM1133 214h4v4h-4zM1093 218h4v4h-4zM1121 238h4v4h-4zM1145 262h4v4h-4zM1141 270h4v4h-4zM1137 278h4v4h-4z"/>
<path fill="#ff6c00" d="M1085 190h4v4h-4zM1109 234h4v4h-4z"/>
<path fill="#ff6800" d="M1089 178h4v4h-4zM1101 178h4v4h-4zM1085 186h4v4h-4zM1089 206h4v4h-4zM1141 218h4v4h-4zM1101 230h4v4h-4zM1125 238h8v4h-8zM1141 242h4v4h-4z"/>
<path fill="#ff6400" d="M981 42h4v4h-4zM1045 146h4v4h-4zM1053 150h4v4h-4zM1101 186h4v4h-4zM1097 222h4v4h-4zM1141 222h8v4h-8zM1141 226h8v4h-8zM1153 302h4v4h-4z"/>
<path fill="#ff6000" d="M1085 178h4v4h-4zM1085 182h4v4h-4zM1089 202h4v4h-4zM1093 214h4v4h-4zM1137 218h4v4h-4zM1113 234h4v4h-4zM1133 238h4v4h-4zM1149 262h4v4h-4zM1145 266h4v4h-4z"/>
<path fill="#ff5d00" d="M1029 130h4v4h-4zM1105 174h4v4h-4zM1093 182h4v4h-4zM1089 198h4v4h-4zM1137 238h4v4h-4z"/>
<path fill="#ff5900" d="M1085 170h4v4h-4zM1105 190h4v4h-4zM1109 194h4v4h-4zM1113 198h4v4h-4zM1117 202h4v4h-4zM1121 206h4v4h-4zM1125 210h4v4h-4zM1129 214h4v4h-4zM1105 230h4v4h-4zM1145 254h4v4h-4zM1149 266h4v4h-4zM1145 270h4v4h-4zM1145 274h4v4h-4zM1157 302h4v4h-4z"/>
<path fill="#ff5500" d="M1045 142h4v4h-4zM1049 146h4v4h-4zM1097 186h4v4h-4zM1089 194h4v4h-4zM1097 218h4v4h-4zM1133 218h4v4h-4zM1101 226h4v4h-4zM1117 234h4v4h-4zM1149 258h4v4h-4zM1141 274h4v4h-4zM1149 302h4v4h-4z"/>
<path fill="#ff5100" d="M985 42h4v4h-4zM1057 158h4v4h-4zM1081 170h4v4h-4zM1089 182h4v4h-4zM1089 190h4v4h-4zM1093 210h4v4h-4zM1137 222h4v4h-4zM1137 226h4v4h-4zM1109 230h4v4h-4zM1137 230h4v4h-4zM1121 234h8v4h-8zM1137 234h4v4h-4zM1141 238h4v4h-4z"/>
<path fill="#ff4c00" d="M1061 158h8v4h-8zM1069 162h4v4h-4zM1089 186h8v4h-8zM1093 190h12v4h-12zM1093 194h16v4h-16zM1093 198h20v4h-20zM1093 202h24v4h-24zM1093 206h28v4h-28zM1097 210h28v4h-28zM1097 214h32v4h-32zM1101 218h32v4h-32zM1101 222h36v4h-36zM1105 226h32v4h-32zM1113 230h24v4h-24zM1129 234h8v4h-8zM1145 250h4v4h-4zM1141 282h4v4h-4zM1141 286h4v4h-4z"/>
<path fill="#ff4800" d="M1149 254h4v4h-4zM1145 298h4v4h-4z"/>
<path fill="#ff4400" d="M1065 162h4v4h-4zM1145 246h4v4h-4zM1141 278h4v4h-4z"/>
<path fill="#ff4000" d="M1073 170h8v4h-8zM1141 234h4v4h-4zM1149 250h4v4h-4z"/>
<path fill="#ff3d00" d="M1057 154h4v4h-4zM1101 174h4v4h-4zM1149 246h4v4h-4z"/>
<path fill="#ff3900" d="M977 38h4v4h-4zM1073 166h4v4h-4zM1145 230h4v4h-4z"/>
<path fill="#ff3500" d="M1085 166h4v4h-4zM1149 242h4v4h-4z"/>
<path fill="#ff3100" d="M981 38h4v4h-4zM1081 166h4v4h-4zM1089 166h8v4h-8zM1101 170h4v4h-4z"/>
<path fill="#ff2c00" d="M1077 166h4v4h-4z"/>
<path fill="#ff2800" d="M1145 238h4v4h-4z"/>
<path fill="#ff2400" d="M1145 234h4v4h-4z"/></g></g>
<path fill="#fff" d="M1163.3 182.3H1174.9V188.5H1163.3Z M1186.4 194.7H1194.2V203.7H1190V199.5H1186.4Z"/>
<path fill="#cccccc" fill-rule="evenodd" d="M976.9 38.0 L983.5 46.2 L989.3 54.4 L986.0 60.2 L981.9 58.6 L981.0 61.0 L984.3 66.8 L989.3 72.5 L990.9 78.3 L995.0 81.6 L995.8 85.7 L993.4 92.3 L990.0 100.5 L986.8 108.7 L984.3 117.9 L981.9 121.5 L976.9 131.4 L972.0 138.8 L970.3 140.4 L975.3 141.2 L986.8 141.6 L990.0 141.2 L987.6 137.1 L988.4 133.0 L993.4 128.9 L1001.6 127.3 L1011.0 129.0 L1020.9 130.7 L1030.7 135.6 L1040.6 143.0 L1048.8 150.4 L1052.1 156.2 L1060.3 160.3 L1066.9 164.4 L1070.2 170.2 L1077.6 174.0 L1083.0 170.5 L1089.0 169.9 L1095.5 171.3 L1102.5 176.8 L1107.2 179.7 L1113.8 183.0 L1120.3 187.1 L1125.3 190.4 L1131.0 194.3 L1136.8 197.6 L1142.5 199.0 L1148.3 200.5 L1152.6 201.2 L1152.6 202.0 L1148.3 205.5 L1144.0 208.4 L1141.6 211.3 L1141.8 217.6 L1143.5 229.0 L1146.0 240.0 L1147.8 250.6 L1148.3 265.0 L1144.2 273.2 L1140.1 275.3 L1141.1 285.6 L1142.2 297.9 L1144.2 302.0 L1148.3 307.2 L1154.5 306.1 L1160.7 310.2 L1163.8 319.0 L1166.5 328.0 L1170.6 338.5 L1176.2 347.8 L1179.9 355.2 L1178.0 368.1 L1176.2 379.3 L1174.3 390.4 L1176.2 397.8 L1178.0 407.0 L1282.0 407.0 L1282.0 38.0Z M1151.6 101.6 L1150.6 115.0 L1148.5 127.3 L1151.6 133.5 L1159.8 139.7 L1155.7 145.9 L1149.5 148.5 L1147.5 151.0 L1152.0 153.8 L1153.5 155.8 L1149.7 156.5 L1144.5 158.5 L1147.0 161.0 L1152.6 163.7 L1156.2 168.0 L1159.8 171.7 L1165.6 175.3 L1166.3 179.6 L1162.0 183.2 L1159.1 181.0 L1155.5 176.0 L1149.7 174.5 L1141.0 175.3 L1139.6 176.7 L1145.4 177.4 L1149.7 179.6 L1154.0 183.9 L1158.4 186.8 L1157.0 192.6 L1154.8 198.3 L1152.6 201.2 L1152.6 202.0 L1157.0 202.0 L1164.2 201.2 L1174.2 199.8 L1181.5 202.0 L1185.5 208.0 L1187.0 218.0 L1187.5 228.0 L1185.5 236.0 L1184.5 245.0 L1184.5 252.0 L1186.0 259.4 L1190.7 269.2 L1200.6 274.2 L1210.5 279.1 L1220.4 281.6 L1230.2 284.0 L1237.6 291.4 L1245.0 293.9 L1252.4 301.3 L1259.8 303.8 L1269.7 306.2 L1274.7 316.1 L1279.6 316.5 L1277.1 303.8 L1274.7 291.4 L1269.7 281.6 L1264.8 271.7 L1262.3 256.9 L1256.3 245.5 L1251.0 240.0 L1243.0 236.0 L1235.0 229.4 L1232.2 221.4 L1224.2 218.7 L1211.0 213.4 L1205.0 210.0 L1203.3 205.3 L1207.5 199.1 L1211.6 188.8 L1209.5 180.6 L1207.0 174.0 L1203.0 172.0 L1196.9 168.5 L1193.0 165.5 L1188.6 166.5 L1185.0 163.5 L1180.0 162.3 L1175.5 158.0 L1172.5 151.5 L1176.3 149.0 L1181.0 147.0 L1184.5 145.9 L1189.7 141.8 L1192.8 135.6 L1201.0 136.6 L1209.2 133.5 L1217.5 129.4 L1223.6 123.2 L1228.8 119.1 L1217.5 110.9 L1207.2 102.6 L1196.9 96.5 L1186.6 92.4 L1180.4 89.3 L1177.3 88.2 L1172.2 96.5 L1168.0 100.6 L1159.8 99.6Z"/>
<g fill="none" stroke="#808080" stroke-linejoin="round" stroke-linecap="round" stroke-width="1.6">
<path d="M949.0 38.0 L951.4 43.0 L960.5 47.0 L967.0 52.8 L973.6 62.7 L979.4 72.5 L981.9 84.0 L982.7 92.3 L979.4 107.0 L975.3 118.0 L967.0 129.7 L958.8 138.8 L962.1 144.5 L970.3 147.0 L986.8 148.7 L1004.9 150.3 L1013.1 156.0 L1020.9 161.1 L1027.4 169.3 L1032.4 177.6 L1039.0 189.0 L1043.6 203.6 L1044.8 214.9 L1050.4 233.0 L1057.2 248.9 L1066.3 262.4 L1077.6 273.8 L1093.4 285.1 L1107.0 291.9 L1116.1 298.7 L1123.6 304.0 L1131.9 316.4 L1135.0 328.0 L1141.0 342.2 L1146.6 360.7 L1154.0 381.1 L1162.3 407.0"/>
<path d="M896.4 38.0 L902.6 50.3 L910.8 64.7 L912.8 79.1 L914.9 99.7 L918.0 120.2 L920.0 138.0 L921.1 142.0 L920.0 149.5 L906.7 149.5 L900.5 160.8 L891.3 171.1 L899.5 183.5 L893.3 195.8 L898.5 206.1 L910.8 210.2 L922.0 218.0 L937.5 230.9 L951.9 241.2 L966.3 249.4 L980.7 255.6 L991.0 265.9 L1001.3 276.2 L1009.5 288.5 L1017.0 300.0 L1035.3 324.6 L1050.1 344.4 L1062.4 361.7 L1077.3 366.6 L1082.2 376.5 L1089.6 388.9 L1099.5 407.0"/>
<path d="M845.0 126.0 L849.0 131.5 L852.0 137.0 L853.2 143.4 L849.1 147.5 L845.0 150.6"/>
<path d="M917.0 150.6 L923.1 150.6 L924.2 155.7 L918.0 158.4 L913.9 155.7Z"/>
<path d="M964.2 232.9 L968.3 229.8 L976.6 235.0 L986.9 238.1 L995.1 244.3 L986.9 246.3 L974.5 245.3 L970.4 243.2Z"/>
</g>
<g fill="none" stroke="#808080" stroke-linejoin="round" stroke-linecap="round" stroke-width="4">
<path d="M845.0 58.6 L849.1 64.7 L852.2 75.0 L854.3 89.4 L855.3 103.8 L851.2 106.9 L845.0 106.9"/>
<path d="M845.0 187.6 L857.3 195.8 L871.7 202.0 L886.1 210.2 L898.5 214.3 L910.8 218.4 L921.0 225.7 L931.3 234.0 L937.5 241.2 L941.6 245.3 L947.8 247.3 L956.0 257.6 L966.3 267.9 L974.5 278.2 L979.7 288.5 L985.8 300.0 L989.5 309.8 L998.2 318.4 L1008.1 324.6 L1014.3 330.8 L1022.9 334.5 L1018.0 345.6 L1025.4 361.7 L1035.3 379.0 L1047.6 393.8 L1055.0 401.2 L1060.0 407.0"/>
</g>
<rect x="871.8" y="177.3" width="2" height="2" fill="#333"/>
<rect x="944.7" y="216.5" width="2" height="2" fill="#333"/>
<g fill="none" stroke="#000" stroke-width="1.8" stroke-linejoin="round">
<path d="M976.9 38.0 L983.5 46.2 L989.3 54.4 L986.0 60.2 L981.9 58.6 L981.0 61.0 L984.3 66.8 L989.3 72.5 L990.9 78.3 L995.0 81.6 L995.8 85.7 L993.4 92.3 L990.0 100.5 L986.8 108.7 L984.3 117.9 L981.9 121.5 L976.9 131.4 L972.0 138.8 L970.3 140.4 L975.3 141.2 L986.8 141.6 L990.0 141.2 L987.6 137.1 L988.4 133.0 L993.4 128.9 L1001.6 127.3 L1011.0 129.0 L1020.9 130.7 L1030.7 135.6 L1040.6 143.0 L1048.8 150.4 L1052.1 156.2 L1060.3 160.3 L1066.9 164.4 L1070.2 170.2 L1077.6 174.0 L1083.0 170.5 L1089.0 169.9 L1095.5 171.3 L1102.5 176.8 L1107.2 179.7 L1113.8 183.0 L1120.3 187.1 L1125.3 190.4 L1131.0 194.3 L1136.8 197.6 L1142.5 199.0 L1148.3 200.5 L1152.6 201.2"/><path d="M1152.6 202.0 L1148.3 205.5 L1144.0 208.4 L1141.6 211.3 L1141.8 217.6 L1143.5 229.0 L1146.0 240.0 L1147.8 250.6 L1148.3 265.0 L1144.2 273.2 L1140.1 275.3 L1141.1 285.6 L1142.2 297.9 L1144.2 302.0 L1148.3 307.2 L1154.5 306.1 L1160.7 310.2 L1163.8 319.0 L1166.5 328.0 L1170.6 338.5 L1176.2 347.8 L1179.9 355.2 L1178.0 368.1 L1176.2 379.3 L1174.3 390.4 L1176.2 397.8 L1178.0 407.0"/><path d="M1151.6 101.6 L1150.6 115.0 L1148.5 127.3 L1151.6 133.5 L1159.8 139.7 L1155.7 145.9 L1149.5 148.5 L1147.5 151.0 L1152.0 153.8 L1153.5 155.8 L1149.7 156.5 L1144.5 158.5 L1147.0 161.0 L1152.6 163.7 L1156.2 168.0 L1159.8 171.7 L1165.6 175.3 L1166.3 179.6 L1162.0 183.2 L1159.1 181.0 L1155.5 176.0 L1149.7 174.5 L1141.0 175.3 L1139.6 176.7 L1145.4 177.4 L1149.7 179.6 L1154.0 183.9 L1158.4 186.8 L1157.0 192.6 L1154.8 198.3 L1152.6 201.2 L1152.6 202.0 L1157.0 202.0 L1164.2 201.2 L1174.2 199.8 L1181.5 202.0 L1185.5 208.0 L1187.0 218.0 L1187.5 228.0 L1185.5 236.0 L1184.5 245.0 L1184.5 252.0 L1186.0 259.4 L1190.7 269.2 L1200.6 274.2 L1210.5 279.1 L1220.4 281.6 L1230.2 284.0 L1237.6 291.4 L1245.0 293.9 L1252.4 301.3 L1259.8 303.8 L1269.7 306.2 L1274.7 316.1 L1279.6 316.5 L1277.1 303.8 L1274.7 291.4 L1269.7 281.6 L1264.8 271.7 L1262.3 256.9 L1256.3 245.5 L1251.0 240.0 L1243.0 236.0 L1235.0 229.4 L1232.2 221.4 L1224.2 218.7 L1211.0 213.4 L1205.0 210.0 L1203.3 205.3 L1207.5 199.1 L1211.6 188.8 L1209.5 180.6 L1207.0 174.0 L1203.0 172.0 L1196.9 168.5 L1193.0 165.5 L1188.6 166.5 L1185.0 163.5 L1180.0 162.3 L1175.5 158.0 L1172.5 151.5 L1176.3 149.0 L1181.0 147.0 L1184.5 145.9 L1189.7 141.8 L1192.8 135.6 L1201.0 136.6 L1209.2 133.5 L1217.5 129.4 L1223.6 123.2 L1228.8 119.1 L1217.5 110.9 L1207.2 102.6 L1196.9 96.5 L1186.6 92.4 L1180.4 89.3 L1177.3 88.2 L1172.2 96.5 L1168.0 100.6 L1159.8 99.6Z"/><path d="M1141.3 95.4 L1145.4 100.6 L1151.6 101.6"/>
</g>
<path fill="none" stroke="#262626" stroke-width="1.6" d="M946.0 407v-5.5M946.0 38v5.5M1046.6 407v-5.5M1046.6 38v5.5M1147.3 407v-5.5M1147.3 38v5.5M1248.0 407v-5.5M1248.0 38v5.5M845 105.4h5.5M1282 105.4h-5.5M845 205.9h5.5M1282 205.9h-5.5M845 306.5h5.5M1282 306.5h-5.5"/>
<rect x="845" y="38" width="437" height="369" fill="none" stroke="#262626" stroke-width="2"/>
<rect x="1302" y="38" width="22" height="369" fill="url(#cg)" stroke="#262626" stroke-width="2"/>
<path stroke="#262626" stroke-width="1.5" d="M1324 111.8h-4M1324 185.6h-4M1324 259.4h-4M1324 333.2h-4"/>
<g fill="#1c1c1c"><text transform="translate(769.8,28.9) scale(0.93,1)" font-size="38">(b)</text><text transform="translate(1063.7,30) scale(0.98,1)" font-size="35.2" font-weight="bold" text-anchor="middle" fill="#000">Standard Deviation</text><text transform="translate(839.3,119.0) scale(0.965,1)" font-size="36.4" text-anchor="end">38.1</text><text transform="translate(839.3,219.5) scale(0.965,1)" font-size="36.4" text-anchor="end">37.8</text><text transform="translate(839.3,320.1) scale(0.965,1)" font-size="36.4" text-anchor="end">37.5</text><text transform="translate(839.3,420.6) scale(0.965,1)" font-size="36.4" text-anchor="end">37.2</text><text transform="translate(861.6,444.4) rotate(-30) scale(0.965,1)" font-size="36.4" text-anchor="end">-123.4</text><text transform="translate(962.3,444.4) rotate(-30) scale(0.965,1)" font-size="36.4" text-anchor="end">-123.1</text><text transform="translate(1062.9,444.4) rotate(-30) scale(0.965,1)" font-size="36.4" text-anchor="end">-122.8</text><text transform="translate(1163.6,444.4) rotate(-30) scale(0.965,1)" font-size="36.4" text-anchor="end">-122.5</text><text transform="translate(1264.3,444.4) rotate(-30) scale(0.965,1)" font-size="36.4" text-anchor="end">-122.2</text><text x="1338.8" y="50.2" font-size="31.3">50</text><text x="1338.8" y="124.0" font-size="31.3">40</text><text x="1338.8" y="197.8" font-size="31.3">30</text><text x="1338.8" y="271.6" font-size="31.3">20</text><text x="1338.8" y="345.4" font-size="31.3">10</text><text x="1338.8" y="419.2" font-size="31.3">0</text><text transform="translate(1416,223) rotate(-90)" font-size="33" text-anchor="middle">%</text></g>
</svg></body></html>
